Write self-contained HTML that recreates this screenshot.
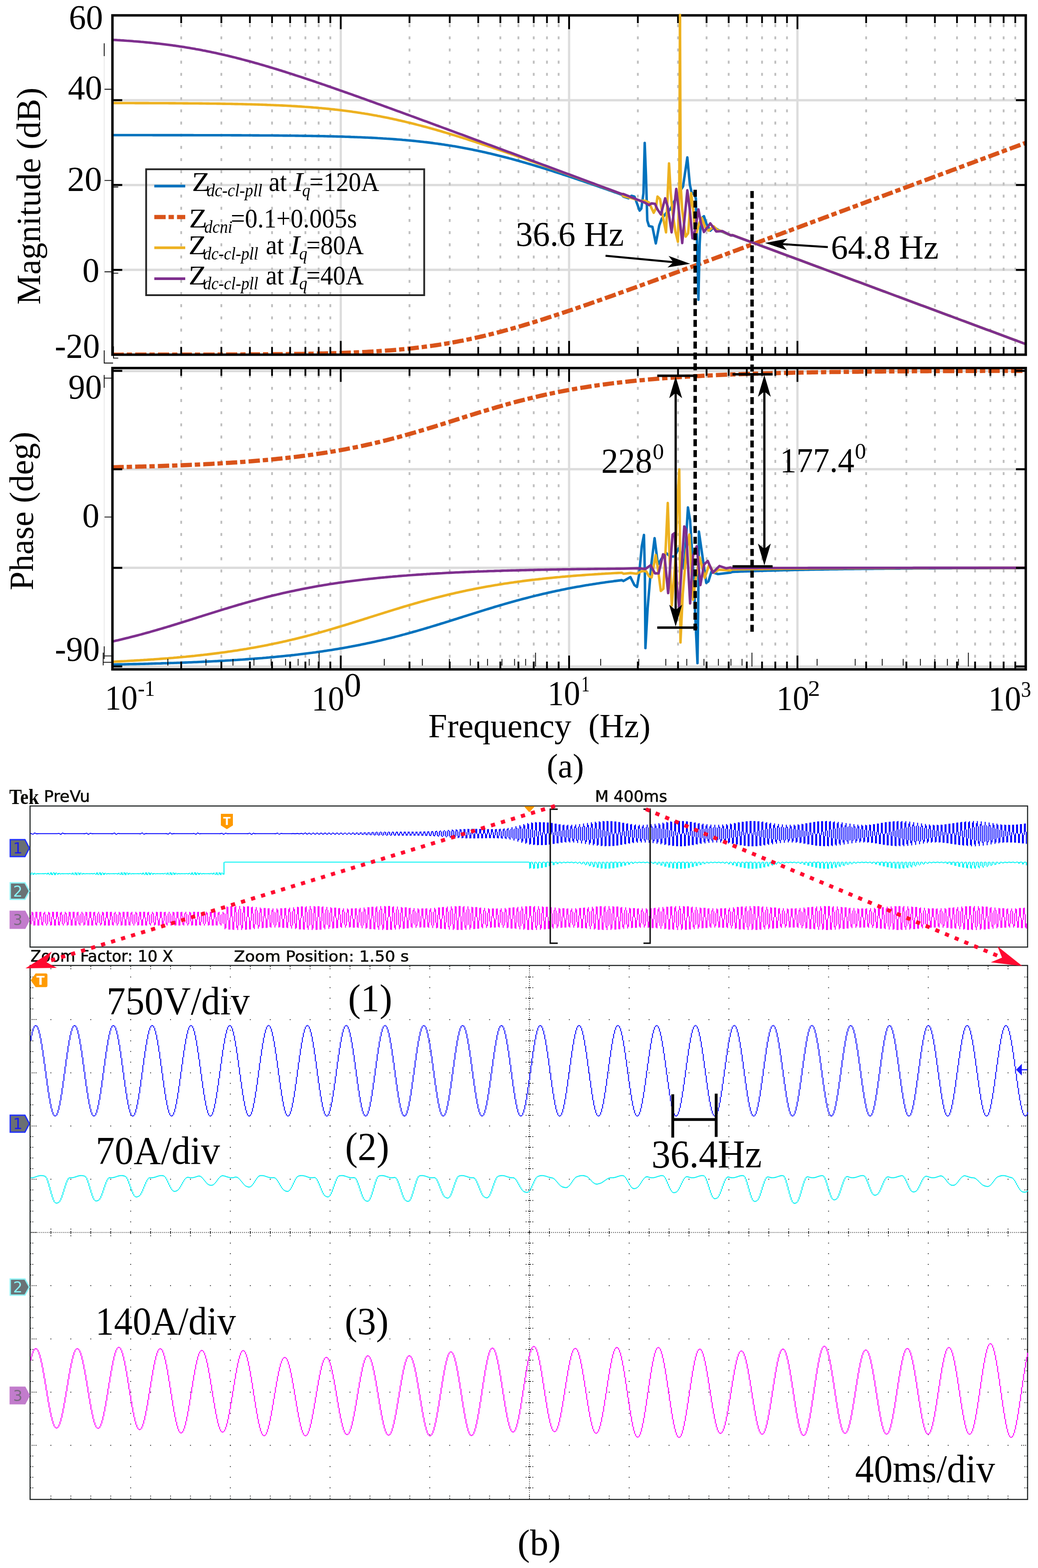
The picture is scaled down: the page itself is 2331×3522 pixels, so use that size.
<!DOCTYPE html><html><head><meta charset="utf-8"><style>html,body{margin:0;padding:0;background:#fff}svg{display:block}</style></head><body><svg xmlns="http://www.w3.org/2000/svg" width="2331" height="3522" viewBox="0 0 2331 3522">
<rect width="2331" height="3522" fill="#fff"/>
<defs><clipPath id="cm"><rect x="252" y="32" width="2052" height="767"/></clipPath><clipPath id="cp"><rect x="252" y="824" width="2052" height="682"/></clipPath></defs>
<line x1="252.5" y1="225.05" x2="2303.5" y2="225.05" stroke="#dcdcdc" stroke-width="5.2"/>
<line x1="252.5" y1="415.6" x2="2303.5" y2="415.6" stroke="#dcdcdc" stroke-width="5.2"/>
<line x1="252.5" y1="606.1500000000001" x2="2303.5" y2="606.1500000000001" stroke="#dcdcdc" stroke-width="5.2"/>
<line x1="765.2" y1="34.5" x2="765.2" y2="796.7" stroke="#dcdcdc" stroke-width="5"/>
<line x1="1278.0" y1="34.5" x2="1278.0" y2="796.7" stroke="#dcdcdc" stroke-width="5"/>
<line x1="1790.8" y1="34.5" x2="1790.8" y2="796.7" stroke="#dcdcdc" stroke-width="5"/>
<path d="M406.9 54.3V793.7M497.1 54.3V793.7M561.2 54.3V793.7M610.9 54.3V793.7M651.5 54.3V793.7M685.8 54.3V793.7M715.6 54.3V793.7M741.8 54.3V793.7M919.6 54.3V793.7M1009.9 54.3V793.7M1074.0 54.3V793.7M1123.6 54.3V793.7M1164.2 54.3V793.7M1198.6 54.3V793.7M1228.3 54.3V793.7M1254.5 54.3V793.7M1432.4 54.3V793.7M1522.6 54.3V793.7M1586.7 54.3V793.7M1636.4 54.3V793.7M1677.0 54.3V793.7M1711.3 54.3V793.7M1741.1 54.3V793.7M1767.3 54.3V793.7M1945.1 54.3V793.7M2035.4 54.3V793.7M2099.5 54.3V793.7M2149.1 54.3V793.7M2189.7 54.3V793.7M2224.1 54.3V793.7M2253.8 54.3V793.7M2280.0 54.3V793.7" stroke="#bfbfbf" stroke-width="4" stroke-dasharray="6.6 20.75"/>
<g clip-path="url(#cm)" fill="none" stroke-linejoin="round">
<path d="M252.5 796.7 L258.5 796.7 L264.5 796.7 L270.5 796.7 L276.5 796.6 L282.5 796.6 L288.5 796.6 L294.5 796.6 L300.5 796.6 L306.5 796.6 L312.5 796.6 L318.5 796.6 L324.5 796.6 L330.5 796.6 L336.5 796.6 L342.5 796.6 L348.5 796.6 L354.5 796.6 L360.5 796.6 L366.5 796.6 L372.5 796.6 L378.5 796.6 L384.5 796.6 L390.5 796.6 L396.5 796.6 L402.5 796.5 L408.5 796.5 L414.5 796.5 L420.5 796.5 L426.5 796.5 L432.5 796.5 L438.5 796.5 L444.5 796.5 L450.5 796.5 L456.5 796.4 L462.5 796.4 L468.5 796.4 L474.5 796.4 L480.5 796.4 L486.5 796.4 L492.5 796.3 L498.5 796.3 L504.5 796.3 L510.5 796.3 L516.5 796.3 L522.5 796.2 L528.5 796.2 L534.5 796.2 L540.5 796.2 L546.5 796.1 L552.5 796.1 L558.5 796.1 L564.5 796.0 L570.5 796.0 L576.5 796.0 L582.5 795.9 L588.5 795.9 L594.5 795.8 L600.5 795.8 L606.5 795.7 L612.5 795.7 L618.5 795.6 L624.5 795.6 L630.5 795.5 L636.5 795.4 L642.5 795.4 L648.5 795.3 L654.5 795.2 L660.5 795.1 L666.5 795.1 L672.5 795.0 L678.5 794.9 L684.5 794.8 L690.5 794.7 L696.5 794.6 L702.5 794.4 L708.5 794.3 L714.5 794.2 L720.5 794.1 L726.5 793.9 L732.5 793.8 L738.5 793.6 L744.5 793.4 L750.5 793.3 L756.5 793.1 L762.5 792.9 L768.5 792.7 L774.5 792.5 L780.5 792.3 L786.5 792.0 L792.5 791.8 L798.5 791.5 L804.5 791.3 L810.5 791.0 L816.5 790.7 L822.5 790.4 L828.5 790.1 L834.5 789.7 L840.5 789.4 L846.5 789.0 L852.5 788.6 L858.5 788.2 L864.5 787.8 L870.5 787.3 L876.5 786.9 L882.5 786.4 L888.5 785.9 L894.5 785.4 L900.5 784.8 L906.5 784.3 L912.5 783.7 L918.5 783.0 L924.5 782.4 L930.5 781.7 L936.5 781.1 L942.5 780.3 L948.5 779.6 L954.5 778.8 L960.5 778.0 L966.5 777.2 L972.5 776.4 L978.5 775.5 L984.5 774.6 L990.5 773.6 L996.5 772.7 L1002.5 771.7 L1008.5 770.6 L1014.5 769.6 L1020.5 768.5 L1026.5 767.4 L1032.5 766.2 L1038.5 765.1 L1044.5 763.8 L1050.5 762.6 L1056.5 761.3 L1062.5 760.1 L1068.5 758.7 L1074.5 757.4 L1080.5 756.0 L1086.5 754.6 L1092.5 753.1 L1098.5 751.7 L1104.5 750.2 L1110.5 748.7 L1116.5 747.1 L1122.5 745.6 L1128.5 744.0 L1134.5 742.3 L1140.5 740.7 L1146.5 739.0 L1152.5 737.3 L1158.5 735.6 L1164.5 733.9 L1170.5 732.2 L1176.5 730.4 L1182.5 728.6 L1188.5 726.8 L1194.5 725.0 L1200.5 723.1 L1206.5 721.3 L1212.5 719.4 L1218.5 717.5 L1224.5 715.6 L1230.5 713.6 L1236.5 711.7 L1242.5 709.8 L1248.5 707.8 L1254.5 705.8 L1260.5 703.8 L1266.5 701.8 L1272.5 699.8 L1278.5 697.8 L1284.5 695.8 L1290.5 693.7 L1296.5 691.7 L1302.5 689.6 L1308.5 687.6 L1314.5 685.5 L1320.5 683.4 L1326.5 681.3 L1332.5 679.2 L1338.5 677.1 L1344.5 675.0 L1350.5 672.9 L1356.5 670.8 L1362.5 668.6 L1368.5 666.5 L1374.5 664.4 L1380.5 662.2 L1386.5 660.1 L1392.5 657.9 L1398.5 655.8 L1404.5 653.6 L1410.5 651.5 L1416.5 649.3 L1422.5 647.1 L1428.5 645.0 L1434.5 642.8 L1440.5 640.6 L1446.5 638.4 L1452.5 636.3 L1458.5 634.1 L1464.5 631.9 L1470.5 629.7 L1476.5 627.5 L1482.5 625.3 L1488.5 623.1 L1494.5 620.9 L1500.5 618.7 L1506.5 616.5 L1512.5 614.3 L1518.5 612.1 L1524.5 609.9 L1530.5 607.7 L1536.5 605.5 L1542.5 603.3 L1548.5 601.1 L1554.5 598.9 L1560.5 596.7 L1566.5 594.4 L1572.5 592.2 L1578.5 590.0 L1584.5 587.8 L1590.5 585.6 L1596.5 583.4 L1602.5 581.1 L1608.5 578.9 L1614.5 576.7 L1620.5 574.5 L1626.5 572.3 L1632.5 570.1 L1638.5 567.8 L1644.5 565.6 L1650.5 563.4 L1656.5 561.2 L1662.5 558.9 L1668.5 556.7 L1674.5 554.5 L1680.5 552.3 L1686.5 550.1 L1692.5 547.8 L1698.5 545.6 L1704.5 543.4 L1710.5 541.2 L1716.5 538.9 L1722.5 536.7 L1728.5 534.5 L1734.5 532.3 L1740.5 530.0 L1746.5 527.8 L1752.5 525.6 L1758.5 523.3 L1764.5 521.1 L1770.5 518.9 L1776.5 516.7 L1782.5 514.4 L1788.5 512.2 L1794.5 510.0 L1800.5 507.8 L1806.5 505.5 L1812.5 503.3 L1818.5 501.1 L1824.5 498.8 L1830.5 496.6 L1836.5 494.4 L1842.5 492.2 L1848.5 489.9 L1854.5 487.7 L1860.5 485.5 L1866.5 483.2 L1872.5 481.0 L1878.5 478.8 L1884.5 476.6 L1890.5 474.3 L1896.5 472.1 L1902.5 469.9 L1908.5 467.6 L1914.5 465.4 L1920.5 463.2 L1926.5 461.0 L1932.5 458.7 L1938.5 456.5 L1944.5 454.3 L1950.5 452.0 L1956.5 449.8 L1962.5 447.6 L1968.5 445.4 L1974.5 443.1 L1980.5 440.9 L1986.5 438.7 L1992.5 436.4 L1998.5 434.2 L2004.5 432.0 L2010.5 429.7 L2016.5 427.5 L2022.5 425.3 L2028.5 423.1 L2034.5 420.8 L2040.5 418.6 L2046.5 416.4 L2052.5 414.1 L2058.5 411.9 L2064.5 409.7 L2070.5 407.5 L2076.5 405.2 L2082.5 403.0 L2088.5 400.8 L2094.5 398.5 L2100.5 396.3 L2106.5 394.1 L2112.5 391.8 L2118.5 389.6 L2124.5 387.4 L2130.5 385.2 L2136.5 382.9 L2142.5 380.7 L2148.5 378.5 L2154.5 376.2 L2160.5 374.0 L2166.5 371.8 L2172.5 369.5 L2178.5 367.3 L2184.5 365.1 L2190.5 362.9 L2196.5 360.6 L2202.5 358.4 L2208.5 356.2 L2214.5 353.9 L2220.5 351.7 L2226.5 349.5 L2232.5 347.3 L2238.5 345.0 L2244.5 342.8 L2250.5 340.6 L2256.5 338.3 L2262.5 336.1 L2268.5 333.9 L2274.5 331.6 L2280.5 329.4 L2286.5 327.2 L2292.5 325.0 L2298.5 322.7 L2303.5 320.9" stroke="#D95319" stroke-width="9.5" stroke-dasharray="25.5 6.5 12 7"/>
<path d="M252.5 303.5 L256.5 303.5 L260.5 303.5 L264.5 303.5 L268.5 303.5 L272.5 303.5 L276.5 303.5 L280.5 303.5 L284.5 303.5 L288.5 303.5 L292.5 303.5 L296.5 303.5 L300.5 303.5 L304.5 303.5 L308.5 303.5 L312.5 303.5 L316.5 303.5 L320.5 303.5 L324.5 303.5 L328.5 303.5 L332.5 303.5 L336.5 303.5 L340.5 303.5 L344.5 303.6 L348.5 303.6 L352.5 303.6 L356.5 303.6 L360.5 303.6 L364.5 303.6 L368.5 303.6 L372.5 303.6 L376.5 303.6 L380.5 303.6 L384.5 303.6 L388.5 303.6 L392.5 303.6 L396.5 303.6 L400.5 303.6 L404.5 303.6 L408.5 303.6 L412.5 303.6 L416.5 303.6 L420.5 303.6 L424.5 303.6 L428.5 303.6 L432.5 303.6 L436.5 303.7 L440.5 303.7 L444.5 303.7 L448.5 303.7 L452.5 303.7 L456.5 303.7 L460.5 303.7 L464.5 303.7 L468.5 303.7 L472.5 303.7 L476.5 303.7 L480.5 303.7 L484.5 303.8 L488.5 303.8 L492.5 303.8 L496.5 303.8 L500.5 303.8 L504.5 303.8 L508.5 303.8 L512.5 303.8 L516.5 303.8 L520.5 303.9 L524.5 303.9 L528.5 303.9 L532.5 303.9 L536.5 303.9 L540.5 303.9 L544.5 304.0 L548.5 304.0 L552.5 304.0 L556.5 304.0 L560.5 304.0 L564.5 304.0 L568.5 304.1 L572.5 304.1 L576.5 304.1 L580.5 304.1 L584.5 304.2 L588.5 304.2 L592.5 304.2 L596.5 304.2 L600.5 304.3 L604.5 304.3 L608.5 304.3 L612.5 304.3 L616.5 304.4 L620.5 304.4 L624.5 304.4 L628.5 304.5 L632.5 304.5 L636.5 304.6 L640.5 304.6 L644.5 304.6 L648.5 304.7 L652.5 304.7 L656.5 304.8 L660.5 304.8 L664.5 304.9 L668.5 304.9 L672.5 305.0 L676.5 305.0 L680.5 305.1 L684.5 305.1 L688.5 305.2 L692.5 305.3 L696.5 305.3 L700.5 305.4 L704.5 305.5 L708.5 305.5 L712.5 305.6 L716.5 305.7 L720.5 305.7 L724.5 305.8 L728.5 305.9 L732.5 306.0 L736.5 306.1 L740.5 306.2 L744.5 306.3 L748.5 306.4 L752.5 306.5 L756.5 306.6 L760.5 306.7 L764.5 306.8 L768.5 306.9 L772.5 307.0 L776.5 307.2 L780.5 307.3 L784.5 307.4 L788.5 307.6 L792.5 307.7 L796.5 307.9 L800.5 308.0 L804.5 308.2 L808.5 308.3 L812.5 308.5 L816.5 308.7 L820.5 308.9 L824.5 309.0 L828.5 309.2 L832.5 309.4 L836.5 309.6 L840.5 309.8 L844.5 310.0 L848.5 310.3 L852.5 310.5 L856.5 310.7 L860.5 311.0 L864.5 311.2 L868.5 311.5 L872.5 311.7 L876.5 312.0 L880.5 312.3 L884.5 312.6 L888.5 312.9 L892.5 313.2 L896.5 313.5 L900.5 313.8 L904.5 314.2 L908.5 314.5 L912.5 314.9 L916.5 315.2 L920.5 315.6 L924.5 316.0 L928.5 316.4 L932.5 316.8 L936.5 317.2 L940.5 317.6 L944.5 318.1 L948.5 318.5 L952.5 319.0 L956.5 319.4 L960.5 319.9 L964.5 320.4 L968.5 320.9 L972.5 321.4 L976.5 322.0 L980.5 322.5 L984.5 323.1 L988.5 323.6 L992.5 324.2 L996.5 324.8 L1000.5 325.4 L1004.5 326.0 L1008.5 326.7 L1012.5 327.3 L1016.5 328.0 L1020.5 328.6 L1024.5 329.3 L1028.5 330.0 L1032.5 330.7 L1036.5 331.4 L1040.5 332.2 L1044.5 332.9 L1048.5 333.7 L1052.5 334.5 L1056.5 335.3 L1060.5 336.1 L1064.5 336.9 L1068.5 337.7 L1072.5 338.6 L1076.5 339.4 L1080.5 340.3 L1084.5 341.2 L1088.5 342.1 L1092.5 343.0 L1096.5 343.9 L1100.5 344.8 L1104.5 345.8 L1108.5 346.7 L1112.5 347.7 L1116.5 348.7 L1120.5 349.7 L1124.5 350.7 L1128.5 351.7 L1132.5 352.7 L1136.5 353.8 L1140.5 354.8 L1144.5 355.9 L1148.5 356.9 L1152.5 358.0 L1156.5 359.1 L1160.5 360.2 L1164.5 361.3 L1168.5 362.5 L1172.5 363.6 L1176.5 364.7 L1180.5 365.9 L1184.5 367.1 L1188.5 368.2 L1192.5 369.4 L1196.5 370.6 L1200.5 371.8 L1204.5 373.0 L1208.5 374.2 L1212.5 375.4 L1216.5 376.7 L1220.5 377.9 L1224.5 379.1 L1228.5 380.4 L1232.5 381.7 L1236.5 382.9 L1240.5 384.2 L1244.5 385.5 L1248.5 386.8 L1252.5 388.0 L1256.5 389.3 L1260.5 390.6 L1264.5 392.0 L1268.5 393.3 L1272.5 394.6 L1276.5 395.9 L1280.5 397.2 L1284.5 398.6 L1288.5 399.9 L1292.5 401.3 L1296.5 402.6 L1300.5 404.0 L1304.5 405.3 L1308.5 406.7 L1312.5 408.0 L1316.5 409.4 L1320.5 410.8 L1324.5 412.2 L1328.5 413.5 L1332.5 414.9 L1336.5 416.3 L1340.5 417.7 L1344.5 419.1 L1348.5 420.5 L1352.5 421.9 L1356.5 423.3 L1360.5 424.7 L1364.5 426.1 L1368.5 427.5 L1372.5 428.9 L1376.5 430.4 L1380.5 431.8 L1384.5 433.2 L1388.5 434.6 L1392.5 436.0 L1396.5 437.5 L1400.0 441.6 L1411.5 445.4 L1418.2 439.7 L1424.9 441.6 L1436.4 473.1 L1440.2 468.4 L1445.0 433.9 L1447.8 321.0 L1450.7 395.7 L1453.6 495.2 L1457.4 507.6 L1465.1 509.5 L1472.7 546.8 L1480.4 506.6 L1486.1 491.3 L1495.7 478.9 L1505.2 470.3 L1514.8 451.1 L1524.4 433.9 L1533.9 418.6 L1543.5 353.6 L1549.2 414.8 L1553.1 432.0 L1559.8 437.8 L1562.6 445.4 L1564.9 529.6 L1568.4 673.1 L1571.2 548.7 L1574.1 491.3 L1580.8 485.6 L1586.5 502.8 L1595.2 518.1 L1602.8 510.5 L1616.2 518.1 L1629.6 523.9 L1641.1 528.6 L1645.1 528.4 L1649.1 529.9 L1653.1 531.3 L1657.1 532.8 L1661.1 534.3 L1665.1 535.8 L1669.1 537.3 L1673.1 538.7 L1677.1 540.2 L1681.1 541.7 L1685.1 543.2 L1689.1 544.7 L1693.1 546.1 L1697.1 547.6 L1701.1 549.1 L1705.1 550.6 L1709.1 552.1 L1713.1 553.6 L1717.1 555.0 L1721.1 556.5 L1725.1 558.0 L1729.1 559.5 L1733.1 561.0 L1737.1 562.5 L1741.1 563.9 L1745.1 565.4 L1749.1 566.9 L1753.1 568.4 L1757.1 569.9 L1761.1 571.4 L1765.1 572.8 L1769.1 574.3 L1773.1 575.8 L1777.1 577.3 L1781.1 578.8 L1785.1 580.3 L1789.1 581.8 L1793.1 583.2 L1797.1 584.7 L1801.1 586.2 L1805.1 587.7 L1809.1 589.2 L1813.1 590.7 L1817.1 592.2 L1821.1 593.6 L1825.1 595.1 L1829.1 596.6 L1833.1 598.1 L1837.1 599.6 L1841.1 601.1 L1845.1 602.5 L1849.1 604.0 L1853.1 605.5 L1857.1 607.0 L1861.1 608.5 L1865.1 610.0 L1869.1 611.5 L1873.1 612.9 L1877.1 614.4 L1881.1 615.9 L1885.1 617.4 L1889.1 618.9 L1893.1 620.4 L1897.1 621.9 L1901.1 623.3 L1905.1 624.8 L1909.1 626.3 L1913.1 627.8 L1917.1 629.3 L1921.1 630.8 L1925.1 632.3 L1929.1 633.7 L1933.1 635.2 L1937.1 636.7 L1941.1 638.2 L1945.1 639.7 L1949.1 641.2 L1953.1 642.7 L1957.1 644.2 L1961.1 645.6 L1965.1 647.1 L1969.1 648.6 L1973.1 650.1 L1977.1 651.6 L1981.1 653.1 L1985.1 654.6 L1989.1 656.0 L1993.1 657.5 L1997.1 659.0 L2001.1 660.5 L2005.1 662.0 L2009.1 663.5 L2013.1 665.0 L2017.1 666.4 L2021.1 667.9 L2025.1 669.4 L2029.1 670.9 L2033.1 672.4 L2037.1 673.9 L2041.1 675.4 L2045.1 676.8 L2049.1 678.3 L2053.1 679.8 L2057.1 681.3 L2061.1 682.8 L2065.1 684.3 L2069.1 685.8 L2073.1 687.3 L2077.1 688.7 L2081.1 690.2 L2085.1 691.7 L2089.1 693.2 L2093.1 694.7 L2097.1 696.2 L2101.1 697.7 L2105.1 699.1 L2109.1 700.6 L2113.1 702.1 L2117.1 703.6 L2121.1 705.1 L2125.1 706.6 L2129.1 708.1 L2133.1 709.5 L2137.1 711.0 L2141.1 712.5 L2145.1 714.0 L2149.1 715.5 L2153.1 717.0 L2157.1 718.5 L2161.1 720.0 L2165.1 721.4 L2169.1 722.9 L2173.1 724.4 L2177.1 725.9 L2181.1 727.4 L2185.1 728.9 L2189.1 730.4 L2193.1 731.8 L2197.1 733.3 L2201.1 734.8 L2205.1 736.3 L2209.1 737.8 L2213.1 739.3 L2217.1 740.8 L2221.1 742.2 L2225.1 743.7 L2229.1 745.2 L2233.1 746.7 L2237.1 748.2 L2241.1 749.7 L2245.1 751.2 L2249.1 752.7 L2253.1 754.1 L2257.1 755.6 L2261.1 757.1 L2265.1 758.6 L2269.1 760.1 L2273.1 761.6 L2277.1 763.1 L2281.1 764.5 L2285.1 766.0 L2289.1 767.5 L2293.1 769.0 L2297.1 770.5 L2301.1 772.0 L2303.5 772.9" stroke="#0072BD" stroke-width="5.6"/>
<path d="M252.5 231.4 L256.5 231.4 L260.5 231.4 L264.5 231.5 L268.5 231.5 L272.5 231.5 L276.5 231.5 L280.5 231.5 L284.5 231.5 L288.5 231.5 L292.5 231.5 L296.5 231.5 L300.5 231.5 L304.5 231.6 L308.5 231.6 L312.5 231.6 L316.5 231.6 L320.5 231.6 L324.5 231.6 L328.5 231.6 L332.5 231.6 L336.5 231.7 L340.5 231.7 L344.5 231.7 L348.5 231.7 L352.5 231.7 L356.5 231.7 L360.5 231.8 L364.5 231.8 L368.5 231.8 L372.5 231.8 L376.5 231.8 L380.5 231.9 L384.5 231.9 L388.5 231.9 L392.5 231.9 L396.5 232.0 L400.5 232.0 L404.5 232.0 L408.5 232.0 L412.5 232.1 L416.5 232.1 L420.5 232.1 L424.5 232.2 L428.5 232.2 L432.5 232.2 L436.5 232.3 L440.5 232.3 L444.5 232.3 L448.5 232.4 L452.5 232.4 L456.5 232.5 L460.5 232.5 L464.5 232.6 L468.5 232.6 L472.5 232.7 L476.5 232.7 L480.5 232.8 L484.5 232.8 L488.5 232.9 L492.5 232.9 L496.5 233.0 L500.5 233.1 L504.5 233.1 L508.5 233.2 L512.5 233.3 L516.5 233.3 L520.5 233.4 L524.5 233.5 L528.5 233.6 L532.5 233.6 L536.5 233.7 L540.5 233.8 L544.5 233.9 L548.5 234.0 L552.5 234.1 L556.5 234.2 L560.5 234.3 L564.5 234.4 L568.5 234.5 L572.5 234.6 L576.5 234.8 L580.5 234.9 L584.5 235.0 L588.5 235.1 L592.5 235.3 L596.5 235.4 L600.5 235.6 L604.5 235.7 L608.5 235.9 L612.5 236.0 L616.5 236.2 L620.5 236.4 L624.5 236.5 L628.5 236.7 L632.5 236.9 L636.5 237.1 L640.5 237.3 L644.5 237.5 L648.5 237.7 L652.5 237.9 L656.5 238.2 L660.5 238.4 L664.5 238.6 L668.5 238.9 L672.5 239.1 L676.5 239.4 L680.5 239.7 L684.5 240.0 L688.5 240.2 L692.5 240.5 L696.5 240.8 L700.5 241.1 L704.5 241.5 L708.5 241.8 L712.5 242.1 L716.5 242.5 L720.5 242.8 L724.5 243.2 L728.5 243.6 L732.5 244.0 L736.5 244.4 L740.5 244.8 L744.5 245.2 L748.5 245.6 L752.5 246.1 L756.5 246.5 L760.5 247.0 L764.5 247.5 L768.5 248.0 L772.5 248.5 L776.5 249.0 L780.5 249.5 L784.5 250.0 L788.5 250.6 L792.5 251.2 L796.5 251.7 L800.5 252.3 L804.5 252.9 L808.5 253.5 L812.5 254.2 L816.5 254.8 L820.5 255.5 L824.5 256.1 L828.5 256.8 L832.5 257.5 L836.5 258.2 L840.5 258.9 L844.5 259.6 L848.5 260.4 L852.5 261.1 L856.5 261.9 L860.5 262.7 L864.5 263.5 L868.5 264.3 L872.5 265.1 L876.5 266.0 L880.5 266.8 L884.5 267.7 L888.5 268.6 L892.5 269.5 L896.5 270.4 L900.5 271.3 L904.5 272.2 L908.5 273.1 L912.5 274.1 L916.5 275.1 L920.5 276.0 L924.5 277.0 L928.5 278.0 L932.5 279.0 L936.5 280.1 L940.5 281.1 L944.5 282.1 L948.5 283.2 L952.5 284.3 L956.5 285.3 L960.5 286.4 L964.5 287.5 L968.5 288.6 L972.5 289.8 L976.5 290.9 L980.5 292.0 L984.5 293.2 L988.5 294.3 L992.5 295.5 L996.5 296.7 L1000.5 297.9 L1004.5 299.1 L1008.5 300.3 L1012.5 301.5 L1016.5 302.7 L1020.5 303.9 L1024.5 305.2 L1028.5 306.4 L1032.5 307.7 L1036.5 308.9 L1040.5 310.2 L1044.5 311.4 L1048.5 312.7 L1052.5 314.0 L1056.5 315.3 L1060.5 316.6 L1064.5 317.9 L1068.5 319.2 L1072.5 320.5 L1076.5 321.8 L1080.5 323.1 L1084.5 324.5 L1088.5 325.8 L1092.5 327.1 L1096.5 328.5 L1100.5 329.8 L1104.5 331.2 L1108.5 332.5 L1112.5 333.9 L1116.5 335.3 L1120.5 336.6 L1124.5 338.0 L1128.5 339.4 L1132.5 340.8 L1136.5 342.1 L1140.5 343.5 L1144.5 344.9 L1148.5 346.3 L1152.5 347.7 L1156.5 349.1 L1160.5 350.5 L1164.5 351.9 L1168.5 353.3 L1172.5 354.7 L1176.5 356.1 L1180.5 357.5 L1184.5 359.0 L1188.5 360.4 L1192.5 361.8 L1196.5 363.2 L1200.5 364.7 L1204.5 366.1 L1208.5 367.5 L1212.5 369.0 L1216.5 370.4 L1220.5 371.8 L1224.5 373.3 L1228.5 374.7 L1232.5 376.1 L1236.5 377.6 L1240.5 379.0 L1244.5 380.5 L1248.5 381.9 L1252.5 383.4 L1256.5 384.8 L1260.5 386.3 L1264.5 387.7 L1268.5 389.2 L1272.5 390.6 L1276.5 392.1 L1280.5 393.5 L1284.5 395.0 L1288.5 396.5 L1292.5 397.9 L1296.5 399.4 L1300.5 400.8 L1304.5 402.3 L1308.5 403.8 L1312.5 405.2 L1316.5 406.7 L1320.5 408.2 L1324.5 409.6 L1328.5 411.1 L1332.5 412.6 L1336.5 414.0 L1340.5 415.5 L1344.5 417.0 L1348.5 418.4 L1352.5 419.9 L1356.5 421.4 L1360.5 422.8 L1364.5 424.3 L1368.5 425.8 L1372.5 427.3 L1376.5 428.7 L1380.5 430.2 L1384.5 431.7 L1388.5 433.2 L1392.5 434.6 L1396.5 436.1 L1400.0 440.6 L1419.1 445.4 L1438.3 451.1 L1449.7 451.1 L1457.4 455.0 L1467.9 477.9 L1472.7 468.4 L1476.5 441.6 L1482.3 447.3 L1488.0 483.7 L1495.7 521.9 L1499.5 433.9 L1502.4 367.0 L1506.2 433.9 L1511.0 481.8 L1516.7 520.0 L1522.4 543.0 L1525.5 414.8 L1527.0 33.1 L1528.6 414.8 L1532.0 472.2 L1539.7 531.5 L1545.4 523.9 L1552.1 433.9 L1556.9 472.2 L1560.7 520.0 L1564.5 521.9 L1570.3 500.9 L1576.0 489.4 L1583.7 510.5 L1591.3 518.1 L1602.8 508.5 L1610.5 516.2 L1621.9 520.0 L1641.1 528.6 L1645.1 528.2 L1649.1 529.7 L1653.1 531.2 L1657.1 532.7 L1661.1 534.2 L1665.1 535.7 L1669.1 537.1 L1673.1 538.6 L1677.1 540.1 L1681.1 541.6 L1685.1 543.1 L1689.1 544.6 L1693.1 546.1 L1697.1 547.5 L1701.1 549.0 L1705.1 550.5 L1709.1 552.0 L1713.1 553.5 L1717.1 555.0 L1721.1 556.5 L1725.1 557.9 L1729.1 559.4 L1733.1 560.9 L1737.1 562.4 L1741.1 563.9 L1745.1 565.4 L1749.1 566.9 L1753.1 568.3 L1757.1 569.8 L1761.1 571.3 L1765.1 572.8 L1769.1 574.3 L1773.1 575.8 L1777.1 577.3 L1781.1 578.7 L1785.1 580.2 L1789.1 581.7 L1793.1 583.2 L1797.1 584.7 L1801.1 586.2 L1805.1 587.7 L1809.1 589.1 L1813.1 590.6 L1817.1 592.1 L1821.1 593.6 L1825.1 595.1 L1829.1 596.6 L1833.1 598.1 L1837.1 599.6 L1841.1 601.0 L1845.1 602.5 L1849.1 604.0 L1853.1 605.5 L1857.1 607.0 L1861.1 608.5 L1865.1 610.0 L1869.1 611.4 L1873.1 612.9 L1877.1 614.4 L1881.1 615.9 L1885.1 617.4 L1889.1 618.9 L1893.1 620.4 L1897.1 621.8 L1901.1 623.3 L1905.1 624.8 L1909.1 626.3 L1913.1 627.8 L1917.1 629.3 L1921.1 630.8 L1925.1 632.3 L1929.1 633.7 L1933.1 635.2 L1937.1 636.7 L1941.1 638.2 L1945.1 639.7 L1949.1 641.2 L1953.1 642.7 L1957.1 644.1 L1961.1 645.6 L1965.1 647.1 L1969.1 648.6 L1973.1 650.1 L1977.1 651.6 L1981.1 653.1 L1985.1 654.5 L1989.1 656.0 L1993.1 657.5 L1997.1 659.0 L2001.1 660.5 L2005.1 662.0 L2009.1 663.5 L2013.1 665.0 L2017.1 666.4 L2021.1 667.9 L2025.1 669.4 L2029.1 670.9 L2033.1 672.4 L2037.1 673.9 L2041.1 675.4 L2045.1 676.8 L2049.1 678.3 L2053.1 679.8 L2057.1 681.3 L2061.1 682.8 L2065.1 684.3 L2069.1 685.8 L2073.1 687.2 L2077.1 688.7 L2081.1 690.2 L2085.1 691.7 L2089.1 693.2 L2093.1 694.7 L2097.1 696.2 L2101.1 697.7 L2105.1 699.1 L2109.1 700.6 L2113.1 702.1 L2117.1 703.6 L2121.1 705.1 L2125.1 706.6 L2129.1 708.1 L2133.1 709.5 L2137.1 711.0 L2141.1 712.5 L2145.1 714.0 L2149.1 715.5 L2153.1 717.0 L2157.1 718.5 L2161.1 720.0 L2165.1 721.4 L2169.1 722.9 L2173.1 724.4 L2177.1 725.9 L2181.1 727.4 L2185.1 728.9 L2189.1 730.4 L2193.1 731.8 L2197.1 733.3 L2201.1 734.8 L2205.1 736.3 L2209.1 737.8 L2213.1 739.3 L2217.1 740.8 L2221.1 742.2 L2225.1 743.7 L2229.1 745.2 L2233.1 746.7 L2237.1 748.2 L2241.1 749.7 L2245.1 751.2 L2249.1 752.7 L2253.1 754.1 L2257.1 755.6 L2261.1 757.1 L2265.1 758.6 L2269.1 760.1 L2273.1 761.6 L2277.1 763.1 L2281.1 764.5 L2285.1 766.0 L2289.1 767.5 L2293.1 769.0 L2297.1 770.5 L2301.1 772.0 L2303.5 772.9" stroke="#EDB120" stroke-width="5.6"/>
<path d="M252.5 89.5 L256.5 89.7 L260.5 89.9 L264.5 90.2 L268.5 90.4 L272.5 90.7 L276.5 90.9 L280.5 91.2 L284.5 91.5 L288.5 91.7 L292.5 92.0 L296.5 92.3 L300.5 92.7 L304.5 93.0 L308.5 93.3 L312.5 93.6 L316.5 94.0 L320.5 94.3 L324.5 94.7 L328.5 95.1 L332.5 95.5 L336.5 95.9 L340.5 96.3 L344.5 96.7 L348.5 97.1 L352.5 97.6 L356.5 98.0 L360.5 98.5 L364.5 99.0 L368.5 99.5 L372.5 100.0 L376.5 100.5 L380.5 101.0 L384.5 101.5 L388.5 102.1 L392.5 102.6 L396.5 103.2 L400.5 103.8 L404.5 104.4 L408.5 105.0 L412.5 105.6 L416.5 106.3 L420.5 106.9 L424.5 107.6 L428.5 108.3 L432.5 108.9 L436.5 109.6 L440.5 110.4 L444.5 111.1 L448.5 111.8 L452.5 112.6 L456.5 113.4 L460.5 114.1 L464.5 114.9 L468.5 115.8 L472.5 116.6 L476.5 117.4 L480.5 118.3 L484.5 119.1 L488.5 120.0 L492.5 120.9 L496.5 121.8 L500.5 122.7 L504.5 123.6 L508.5 124.6 L512.5 125.5 L516.5 126.5 L520.5 127.5 L524.5 128.4 L528.5 129.4 L532.5 130.5 L536.5 131.5 L540.5 132.5 L544.5 133.6 L548.5 134.6 L552.5 135.7 L556.5 136.8 L560.5 137.8 L564.5 138.9 L568.5 140.0 L572.5 141.2 L576.5 142.3 L580.5 143.4 L584.5 144.6 L588.5 145.7 L592.5 146.9 L596.5 148.1 L600.5 149.3 L604.5 150.5 L608.5 151.7 L612.5 152.9 L616.5 154.1 L620.5 155.3 L624.5 156.5 L628.5 157.8 L632.5 159.0 L636.5 160.3 L640.5 161.5 L644.5 162.8 L648.5 164.1 L652.5 165.4 L656.5 166.7 L660.5 168.0 L664.5 169.3 L668.5 170.6 L672.5 171.9 L676.5 173.2 L680.5 174.5 L684.5 175.8 L688.5 177.2 L692.5 178.5 L696.5 179.8 L700.5 181.2 L704.5 182.5 L708.5 183.9 L712.5 185.3 L716.5 186.6 L720.5 188.0 L724.5 189.4 L728.5 190.7 L732.5 192.1 L736.5 193.5 L740.5 194.9 L744.5 196.3 L748.5 197.7 L752.5 199.1 L756.5 200.5 L760.5 201.9 L764.5 203.3 L768.5 204.7 L772.5 206.1 L776.5 207.5 L780.5 208.9 L784.5 210.3 L788.5 211.7 L792.5 213.2 L796.5 214.6 L800.5 216.0 L804.5 217.4 L808.5 218.9 L812.5 220.3 L816.5 221.7 L820.5 223.2 L824.5 224.6 L828.5 226.1 L832.5 227.5 L836.5 228.9 L840.5 230.4 L844.5 231.8 L848.5 233.3 L852.5 234.7 L856.5 236.2 L860.5 237.6 L864.5 239.1 L868.5 240.5 L872.5 242.0 L876.5 243.4 L880.5 244.9 L884.5 246.3 L888.5 247.8 L892.5 249.3 L896.5 250.7 L900.5 252.2 L904.5 253.7 L908.5 255.1 L912.5 256.6 L916.5 258.0 L920.5 259.5 L924.5 261.0 L928.5 262.4 L932.5 263.9 L936.5 265.4 L940.5 266.8 L944.5 268.3 L948.5 269.8 L952.5 271.3 L956.5 272.7 L960.5 274.2 L964.5 275.7 L968.5 277.1 L972.5 278.6 L976.5 280.1 L980.5 281.6 L984.5 283.0 L988.5 284.5 L992.5 286.0 L996.5 287.5 L1000.5 288.9 L1004.5 290.4 L1008.5 291.9 L1012.5 293.4 L1016.5 294.8 L1020.5 296.3 L1024.5 297.8 L1028.5 299.3 L1032.5 300.8 L1036.5 302.2 L1040.5 303.7 L1044.5 305.2 L1048.5 306.7 L1052.5 308.2 L1056.5 309.6 L1060.5 311.1 L1064.5 312.6 L1068.5 314.1 L1072.5 315.6 L1076.5 317.0 L1080.5 318.5 L1084.5 320.0 L1088.5 321.5 L1092.5 323.0 L1096.5 324.5 L1100.5 325.9 L1104.5 327.4 L1108.5 328.9 L1112.5 330.4 L1116.5 331.9 L1120.5 333.3 L1124.5 334.8 L1128.5 336.3 L1132.5 337.8 L1136.5 339.3 L1140.5 340.8 L1144.5 342.2 L1148.5 343.7 L1152.5 345.2 L1156.5 346.7 L1160.5 348.2 L1164.5 349.7 L1168.5 351.2 L1172.5 352.6 L1176.5 354.1 L1180.5 355.6 L1184.5 357.1 L1188.5 358.6 L1192.5 360.1 L1196.5 361.5 L1200.5 363.0 L1204.5 364.5 L1208.5 366.0 L1212.5 367.5 L1216.5 369.0 L1220.5 370.5 L1224.5 371.9 L1228.5 373.4 L1232.5 374.9 L1236.5 376.4 L1240.5 377.9 L1244.5 379.4 L1248.5 380.8 L1252.5 382.3 L1256.5 383.8 L1260.5 385.3 L1264.5 386.8 L1268.5 388.3 L1272.5 389.8 L1276.5 391.2 L1280.5 392.7 L1284.5 394.2 L1288.5 395.7 L1292.5 397.2 L1296.5 398.7 L1300.5 400.2 L1304.5 401.6 L1308.5 403.1 L1312.5 404.6 L1316.5 406.1 L1320.5 407.6 L1324.5 409.1 L1328.5 410.6 L1332.5 412.0 L1336.5 413.5 L1340.5 415.0 L1344.5 416.5 L1348.5 418.0 L1352.5 419.5 L1356.5 421.0 L1360.5 422.5 L1364.5 423.9 L1368.5 425.4 L1372.5 426.9 L1376.5 428.4 L1380.5 429.9 L1384.5 431.4 L1388.5 432.9 L1392.5 434.3 L1396.5 435.8 L1400.0 435.8 L1419.1 443.5 L1438.3 451.1 L1447.8 455.0 L1457.4 460.7 L1463.1 456.9 L1470.8 457.8 L1476.5 470.3 L1484.2 481.8 L1493.7 445.4 L1499.5 464.5 L1508.1 521.9 L1518.6 424.4 L1524.4 472.2 L1532.0 545.9 L1543.5 427.2 L1549.2 472.2 L1555.0 535.3 L1560.7 518.1 L1568.4 470.3 L1574.1 500.9 L1580.8 521.0 L1595.2 501.8 L1608.5 520.0 L1621.9 519.1 L1635.3 525.8 L1641.1 528.6 L1645.1 528.2 L1649.1 529.7 L1653.1 531.2 L1657.1 532.7 L1661.1 534.1 L1665.1 535.6 L1669.1 537.1 L1673.1 538.6 L1677.1 540.1 L1681.1 541.6 L1685.1 543.1 L1689.1 544.5 L1693.1 546.0 L1697.1 547.5 L1701.1 549.0 L1705.1 550.5 L1709.1 552.0 L1713.1 553.5 L1717.1 555.0 L1721.1 556.4 L1725.1 557.9 L1729.1 559.4 L1733.1 560.9 L1737.1 562.4 L1741.1 563.9 L1745.1 565.4 L1749.1 566.8 L1753.1 568.3 L1757.1 569.8 L1761.1 571.3 L1765.1 572.8 L1769.1 574.3 L1773.1 575.8 L1777.1 577.2 L1781.1 578.7 L1785.1 580.2 L1789.1 581.7 L1793.1 583.2 L1797.1 584.7 L1801.1 586.2 L1805.1 587.7 L1809.1 589.1 L1813.1 590.6 L1817.1 592.1 L1821.1 593.6 L1825.1 595.1 L1829.1 596.6 L1833.1 598.1 L1837.1 599.5 L1841.1 601.0 L1845.1 602.5 L1849.1 604.0 L1853.1 605.5 L1857.1 607.0 L1861.1 608.5 L1865.1 610.0 L1869.1 611.4 L1873.1 612.9 L1877.1 614.4 L1881.1 615.9 L1885.1 617.4 L1889.1 618.9 L1893.1 620.4 L1897.1 621.8 L1901.1 623.3 L1905.1 624.8 L1909.1 626.3 L1913.1 627.8 L1917.1 629.3 L1921.1 630.8 L1925.1 632.2 L1929.1 633.7 L1933.1 635.2 L1937.1 636.7 L1941.1 638.2 L1945.1 639.7 L1949.1 641.2 L1953.1 642.7 L1957.1 644.1 L1961.1 645.6 L1965.1 647.1 L1969.1 648.6 L1973.1 650.1 L1977.1 651.6 L1981.1 653.1 L1985.1 654.5 L1989.1 656.0 L1993.1 657.5 L1997.1 659.0 L2001.1 660.5 L2005.1 662.0 L2009.1 663.5 L2013.1 665.0 L2017.1 666.4 L2021.1 667.9 L2025.1 669.4 L2029.1 670.9 L2033.1 672.4 L2037.1 673.9 L2041.1 675.4 L2045.1 676.8 L2049.1 678.3 L2053.1 679.8 L2057.1 681.3 L2061.1 682.8 L2065.1 684.3 L2069.1 685.8 L2073.1 687.2 L2077.1 688.7 L2081.1 690.2 L2085.1 691.7 L2089.1 693.2 L2093.1 694.7 L2097.1 696.2 L2101.1 697.7 L2105.1 699.1 L2109.1 700.6 L2113.1 702.1 L2117.1 703.6 L2121.1 705.1 L2125.1 706.6 L2129.1 708.1 L2133.1 709.5 L2137.1 711.0 L2141.1 712.5 L2145.1 714.0 L2149.1 715.5 L2153.1 717.0 L2157.1 718.5 L2161.1 720.0 L2165.1 721.4 L2169.1 722.9 L2173.1 724.4 L2177.1 725.9 L2181.1 727.4 L2185.1 728.9 L2189.1 730.4 L2193.1 731.8 L2197.1 733.3 L2201.1 734.8 L2205.1 736.3 L2209.1 737.8 L2213.1 739.3 L2217.1 740.8 L2221.1 742.2 L2225.1 743.7 L2229.1 745.2 L2233.1 746.7 L2237.1 748.2 L2241.1 749.7 L2245.1 751.2 L2249.1 752.7 L2253.1 754.1 L2257.1 755.6 L2261.1 757.1 L2265.1 758.6 L2269.1 760.1 L2273.1 761.6 L2277.1 763.1 L2281.1 764.5 L2285.1 766.0 L2289.1 767.5 L2293.1 769.0 L2297.1 770.5 L2301.1 772.0 L2303.5 772.9" stroke="#7E2F8E" stroke-width="5.6"/>
</g>
<rect x="252.5" y="34.5" width="2051.0" height="762.2" fill="none" stroke="#000" stroke-width="5.5"/>
<path d="M406.9 34.5v17.5M406.9 796.7v-17.5M497.1 34.5v17.5M497.1 796.7v-17.5M561.2 34.5v17.5M561.2 796.7v-17.5M610.9 34.5v17.5M610.9 796.7v-17.5M651.5 34.5v17.5M651.5 796.7v-17.5M685.8 34.5v17.5M685.8 796.7v-17.5M715.6 34.5v17.5M715.6 796.7v-17.5M741.8 34.5v17.5M741.8 796.7v-17.5M919.6 34.5v17.5M919.6 796.7v-17.5M1009.9 34.5v17.5M1009.9 796.7v-17.5M1074.0 34.5v17.5M1074.0 796.7v-17.5M1123.6 34.5v17.5M1123.6 796.7v-17.5M1164.2 34.5v17.5M1164.2 796.7v-17.5M1198.6 34.5v17.5M1198.6 796.7v-17.5M1228.3 34.5v17.5M1228.3 796.7v-17.5M1254.5 34.5v17.5M1254.5 796.7v-17.5M1432.4 34.5v17.5M1432.4 796.7v-17.5M1522.6 34.5v17.5M1522.6 796.7v-17.5M1586.7 34.5v17.5M1586.7 796.7v-17.5M1636.4 34.5v17.5M1636.4 796.7v-17.5M1677.0 34.5v17.5M1677.0 796.7v-17.5M1711.3 34.5v17.5M1711.3 796.7v-17.5M1741.1 34.5v17.5M1741.1 796.7v-17.5M1767.3 34.5v17.5M1767.3 796.7v-17.5M1945.1 34.5v17.5M1945.1 796.7v-17.5M2035.4 34.5v17.5M2035.4 796.7v-17.5M2099.5 34.5v17.5M2099.5 796.7v-17.5M2149.1 34.5v17.5M2149.1 796.7v-17.5M2189.7 34.5v17.5M2189.7 796.7v-17.5M2224.1 34.5v17.5M2224.1 796.7v-17.5M2253.8 34.5v17.5M2253.8 796.7v-17.5M2280.0 34.5v17.5M2280.0 796.7v-17.5M765.2 34.5v31M765.2 796.7v-31M1278.0 34.5v31M1278.0 796.7v-31M1790.8 34.5v31M1790.8 796.7v-31" stroke="#000" stroke-width="4" fill="none"/>
<path d="M252.5 225.05h22M2303.5 225.05h-22M252.5 415.6h22M2303.5 415.6h-22M252.5 606.1500000000001h22M2303.5 606.1500000000001h-22" stroke="#000" stroke-width="4.5" fill="none"/>
<path d="M1527.05 70V33.6" stroke="#EDB120" stroke-width="5.6" stroke-linecap="round"/>
<line x1="252.5" y1="833.5" x2="2303.5" y2="833.5" stroke="#dcdcdc" stroke-width="5.2"/>
<line x1="252.5" y1="1053.9" x2="2303.5" y2="1053.9" stroke="#dcdcdc" stroke-width="5.2"/>
<line x1="252.5" y1="1275.4" x2="2303.5" y2="1275.4" stroke="#dcdcdc" stroke-width="5.2"/>
<line x1="252.5" y1="1497" x2="2303.5" y2="1497" stroke="#dcdcdc" stroke-width="5.2"/>
<line x1="765.2" y1="826.7" x2="765.2" y2="1503.5" stroke="#dcdcdc" stroke-width="5"/>
<line x1="1278.0" y1="826.7" x2="1278.0" y2="1503.5" stroke="#dcdcdc" stroke-width="5"/>
<line x1="1790.8" y1="826.7" x2="1790.8" y2="1503.5" stroke="#dcdcdc" stroke-width="5"/>
<path d="M406.9 841.6V1500.5M497.1 841.6V1500.5M561.2 841.6V1500.5M610.9 841.6V1500.5M651.5 841.6V1500.5M685.8 841.6V1500.5M715.6 841.6V1500.5M741.8 841.6V1500.5M919.6 841.6V1500.5M1009.9 841.6V1500.5M1074.0 841.6V1500.5M1123.6 841.6V1500.5M1164.2 841.6V1500.5M1198.6 841.6V1500.5M1228.3 841.6V1500.5M1254.5 841.6V1500.5M1432.4 841.6V1500.5M1522.6 841.6V1500.5M1586.7 841.6V1500.5M1636.4 841.6V1500.5M1677.0 841.6V1500.5M1711.3 841.6V1500.5M1741.1 841.6V1500.5M1767.3 841.6V1500.5M1945.1 841.6V1500.5M2035.4 841.6V1500.5M2099.5 841.6V1500.5M2149.1 841.6V1500.5M2189.7 841.6V1500.5M2224.1 841.6V1500.5M2253.8 841.6V1500.5M2280.0 841.6V1500.5" stroke="#bfbfbf" stroke-width="4" stroke-dasharray="6.6 20.75"/>
<g clip-path="url(#cp)" fill="none" stroke-linejoin="round">
<path d="M252.5 1049.5 L258.5 1049.4 L264.5 1049.2 L270.5 1049.1 L276.5 1049.0 L282.5 1048.8 L288.5 1048.7 L294.5 1048.6 L300.5 1048.4 L306.5 1048.3 L312.5 1048.1 L318.5 1047.9 L324.5 1047.8 L330.5 1047.6 L336.5 1047.4 L342.5 1047.3 L348.5 1047.1 L354.5 1046.9 L360.5 1046.7 L366.5 1046.5 L372.5 1046.3 L378.5 1046.1 L384.5 1045.9 L390.5 1045.7 L396.5 1045.5 L402.5 1045.2 L408.5 1045.0 L414.5 1044.7 L420.5 1044.5 L426.5 1044.2 L432.5 1044.0 L438.5 1043.7 L444.5 1043.4 L450.5 1043.1 L456.5 1042.9 L462.5 1042.6 L468.5 1042.2 L474.5 1041.9 L480.5 1041.6 L486.5 1041.3 L492.5 1040.9 L498.5 1040.6 L504.5 1040.2 L510.5 1039.8 L516.5 1039.5 L522.5 1039.1 L528.5 1038.7 L534.5 1038.3 L540.5 1037.8 L546.5 1037.4 L552.5 1036.9 L558.5 1036.5 L564.5 1036.0 L570.5 1035.5 L576.5 1035.0 L582.5 1034.5 L588.5 1034.0 L594.5 1033.5 L600.5 1032.9 L606.5 1032.4 L612.5 1031.8 L618.5 1031.2 L624.5 1030.6 L630.5 1030.0 L636.5 1029.3 L642.5 1028.7 L648.5 1028.0 L654.5 1027.3 L660.5 1026.6 L666.5 1025.9 L672.5 1025.1 L678.5 1024.3 L684.5 1023.6 L690.5 1022.8 L696.5 1021.9 L702.5 1021.1 L708.5 1020.2 L714.5 1019.3 L720.5 1018.4 L726.5 1017.5 L732.5 1016.6 L738.5 1015.6 L744.5 1014.6 L750.5 1013.6 L756.5 1012.5 L762.5 1011.5 L768.5 1010.4 L774.5 1009.3 L780.5 1008.1 L786.5 1007.0 L792.5 1005.8 L798.5 1004.6 L804.5 1003.4 L810.5 1002.1 L816.5 1000.8 L822.5 999.5 L828.5 998.2 L834.5 996.8 L840.5 995.4 L846.5 994.0 L852.5 992.6 L858.5 991.1 L864.5 989.6 L870.5 988.1 L876.5 986.5 L882.5 985.0 L888.5 983.4 L894.5 981.8 L900.5 980.2 L906.5 978.5 L912.5 976.8 L918.5 975.1 L924.5 973.4 L930.5 971.7 L936.5 969.9 L942.5 968.1 L948.5 966.4 L954.5 964.6 L960.5 962.7 L966.5 960.9 L972.5 959.1 L978.5 957.2 L984.5 955.3 L990.5 953.5 L996.5 951.6 L1002.5 949.7 L1008.5 947.8 L1014.5 945.9 L1020.5 944.0 L1026.5 942.1 L1032.5 940.2 L1038.5 938.3 L1044.5 936.4 L1050.5 934.5 L1056.5 932.6 L1062.5 930.8 L1068.5 928.9 L1074.5 927.0 L1080.5 925.2 L1086.5 923.4 L1092.5 921.6 L1098.5 919.7 L1104.5 918.0 L1110.5 916.2 L1116.5 914.4 L1122.5 912.7 L1128.5 911.0 L1134.5 909.3 L1140.5 907.6 L1146.5 906.0 L1152.5 904.3 L1158.5 902.7 L1164.5 901.2 L1170.5 899.6 L1176.5 898.1 L1182.5 896.5 L1188.5 895.1 L1194.5 893.6 L1200.5 892.2 L1206.5 890.8 L1212.5 889.4 L1218.5 888.0 L1224.5 886.7 L1230.5 885.4 L1236.5 884.1 L1242.5 882.8 L1248.5 881.6 L1254.5 880.4 L1260.5 879.2 L1266.5 878.0 L1272.5 876.9 L1278.5 875.8 L1284.5 874.7 L1290.5 873.7 L1296.5 872.6 L1302.5 871.6 L1308.5 870.6 L1314.5 869.7 L1320.5 868.7 L1326.5 867.8 L1332.5 866.9 L1338.5 866.0 L1344.5 865.1 L1350.5 864.3 L1356.5 863.5 L1362.5 862.7 L1368.5 861.9 L1374.5 861.1 L1380.5 860.4 L1386.5 859.7 L1392.5 859.0 L1398.5 858.3 L1404.5 857.6 L1410.5 857.0 L1416.5 856.3 L1422.5 855.7 L1428.5 855.1 L1434.5 854.5 L1440.5 853.9 L1446.5 853.4 L1452.5 852.8 L1458.5 852.3 L1464.5 851.8 L1470.5 851.2 L1476.5 850.8 L1482.5 850.3 L1488.5 849.8 L1494.5 849.3 L1500.5 848.9 L1506.5 848.5 L1512.5 848.0 L1518.5 847.6 L1524.5 847.2 L1530.5 846.8 L1536.5 846.5 L1542.5 846.1 L1548.5 845.7 L1554.5 845.4 L1560.5 845.0 L1566.5 844.7 L1572.5 844.4 L1578.5 844.1 L1584.5 843.8 L1590.5 843.5 L1596.5 843.2 L1602.5 842.9 L1608.5 842.6 L1614.5 842.3 L1620.5 842.1 L1626.5 841.8 L1632.5 841.6 L1638.5 841.3 L1644.5 841.1 L1650.5 840.9 L1656.5 840.6 L1662.5 840.4 L1668.5 840.2 L1674.5 840.0 L1680.5 839.8 L1686.5 839.6 L1692.5 839.4 L1698.5 839.2 L1704.5 839.1 L1710.5 838.9 L1716.5 838.7 L1722.5 838.5 L1728.5 838.4 L1734.5 838.2 L1740.5 838.1 L1746.5 837.9 L1752.5 837.8 L1758.5 837.6 L1764.5 837.5 L1770.5 837.4 L1776.5 837.2 L1782.5 837.1 L1788.5 837.0 L1794.5 836.9 L1800.5 836.7 L1806.5 836.6 L1812.5 836.5 L1818.5 836.4 L1824.5 836.3 L1830.5 836.2 L1836.5 836.1 L1842.5 836.0 L1848.5 835.9 L1854.5 835.8 L1860.5 835.7 L1866.5 835.6 L1872.5 835.6 L1878.5 835.5 L1884.5 835.4 L1890.5 835.3 L1896.5 835.2 L1902.5 835.2 L1908.5 835.1 L1914.5 835.0 L1920.5 835.0 L1926.5 834.9 L1932.5 834.8 L1938.5 834.8 L1944.5 834.7 L1950.5 834.6 L1956.5 834.6 L1962.5 834.5 L1968.5 834.5 L1974.5 834.4 L1980.5 834.4 L1986.5 834.3 L1992.5 834.3 L1998.5 834.2 L2004.5 834.2 L2010.5 834.1 L2016.5 834.1 L2022.5 834.0 L2028.5 834.0 L2034.5 834.0 L2040.5 833.9 L2046.5 833.9 L2052.5 833.8 L2058.5 833.8 L2064.5 833.8 L2070.5 833.7 L2076.5 833.7 L2082.5 833.7 L2088.5 833.6 L2094.5 833.6 L2100.5 833.6 L2106.5 833.5 L2112.5 833.5 L2118.5 833.5 L2124.5 833.5 L2130.5 833.4 L2136.5 833.4 L2142.5 833.4 L2148.5 833.4 L2154.5 833.3 L2160.5 833.3 L2166.5 833.3 L2172.5 833.3 L2178.5 833.2 L2184.5 833.2 L2190.5 833.2 L2196.5 833.2 L2202.5 833.2 L2208.5 833.1 L2214.5 833.1 L2220.5 833.1 L2226.5 833.1 L2232.5 833.1 L2238.5 833.1 L2244.5 833.0 L2250.5 833.0 L2256.5 833.0 L2262.5 833.0 L2268.5 833.0 L2274.5 833.0 L2280.5 833.0 L2286.5 832.9 L2292.5 832.9 L2298.5 832.9 L2303.5 832.9" stroke="#D95319" stroke-width="9.5" stroke-dasharray="25.5 6.5 12 7"/>
<path d="M252.5 1492.6 L256.5 1492.6 L260.5 1492.5 L264.5 1492.4 L268.5 1492.3 L272.5 1492.3 L276.5 1492.2 L280.5 1492.1 L284.5 1492.0 L288.5 1491.9 L292.5 1491.8 L296.5 1491.7 L300.5 1491.6 L304.5 1491.6 L308.5 1491.5 L312.5 1491.4 L316.5 1491.3 L320.5 1491.2 L324.5 1491.1 L328.5 1491.0 L332.5 1490.9 L336.5 1490.7 L340.5 1490.6 L344.5 1490.5 L348.5 1490.4 L352.5 1490.3 L356.5 1490.2 L360.5 1490.1 L364.5 1489.9 L368.5 1489.8 L372.5 1489.7 L376.5 1489.6 L380.5 1489.4 L384.5 1489.3 L388.5 1489.2 L392.5 1489.0 L396.5 1488.9 L400.5 1488.7 L404.5 1488.6 L408.5 1488.4 L412.5 1488.3 L416.5 1488.1 L420.5 1488.0 L424.5 1487.8 L428.5 1487.7 L432.5 1487.5 L436.5 1487.3 L440.5 1487.2 L444.5 1487.0 L448.5 1486.8 L452.5 1486.6 L456.5 1486.4 L460.5 1486.3 L464.5 1486.1 L468.5 1485.9 L472.5 1485.7 L476.5 1485.5 L480.5 1485.3 L484.5 1485.1 L488.5 1484.9 L492.5 1484.6 L496.5 1484.4 L500.5 1484.2 L504.5 1484.0 L508.5 1483.7 L512.5 1483.5 L516.5 1483.3 L520.5 1483.0 L524.5 1482.8 L528.5 1482.5 L532.5 1482.3 L536.5 1482.0 L540.5 1481.7 L544.5 1481.5 L548.5 1481.2 L552.5 1480.9 L556.5 1480.6 L560.5 1480.3 L564.5 1480.0 L568.5 1479.7 L572.5 1479.4 L576.5 1479.1 L580.5 1478.8 L584.5 1478.5 L588.5 1478.2 L592.5 1477.8 L596.5 1477.5 L600.5 1477.1 L604.5 1476.8 L608.5 1476.4 L612.5 1476.1 L616.5 1475.7 L620.5 1475.3 L624.5 1474.9 L628.5 1474.5 L632.5 1474.1 L636.5 1473.7 L640.5 1473.3 L644.5 1472.9 L648.5 1472.5 L652.5 1472.1 L656.5 1471.6 L660.5 1471.2 L664.5 1470.7 L668.5 1470.3 L672.5 1469.8 L676.5 1469.3 L680.5 1468.8 L684.5 1468.3 L688.5 1467.8 L692.5 1467.3 L696.5 1466.8 L700.5 1466.3 L704.5 1465.7 L708.5 1465.2 L712.5 1464.6 L716.5 1464.1 L720.5 1463.5 L724.5 1462.9 L728.5 1462.3 L732.5 1461.7 L736.5 1461.1 L740.5 1460.5 L744.5 1459.9 L748.5 1459.2 L752.5 1458.6 L756.5 1457.9 L760.5 1457.3 L764.5 1456.6 L768.5 1455.9 L772.5 1455.2 L776.5 1454.5 L780.5 1453.8 L784.5 1453.0 L788.5 1452.3 L792.5 1451.5 L796.5 1450.8 L800.5 1450.0 L804.5 1449.2 L808.5 1448.4 L812.5 1447.6 L816.5 1446.8 L820.5 1446.0 L824.5 1445.1 L828.5 1444.3 L832.5 1443.4 L836.5 1442.5 L840.5 1441.7 L844.5 1440.8 L848.5 1439.8 L852.5 1438.9 L856.5 1438.0 L860.5 1437.0 L864.5 1436.1 L868.5 1435.1 L872.5 1434.1 L876.5 1433.2 L880.5 1432.2 L884.5 1431.2 L888.5 1430.1 L892.5 1429.1 L896.5 1428.1 L900.5 1427.0 L904.5 1425.9 L908.5 1424.9 L912.5 1423.8 L916.5 1422.7 L920.5 1421.6 L924.5 1420.5 L928.5 1419.3 L932.5 1418.2 L936.5 1417.1 L940.5 1415.9 L944.5 1414.8 L948.5 1413.6 L952.5 1412.4 L956.5 1411.2 L960.5 1410.0 L964.5 1408.9 L968.5 1407.6 L972.5 1406.4 L976.5 1405.2 L980.5 1404.0 L984.5 1402.8 L988.5 1401.5 L992.5 1400.3 L996.5 1399.1 L1000.5 1397.8 L1004.5 1396.6 L1008.5 1395.3 L1012.5 1394.0 L1016.5 1392.8 L1020.5 1391.5 L1024.5 1390.3 L1028.5 1389.0 L1032.5 1387.7 L1036.5 1386.5 L1040.5 1385.2 L1044.5 1383.9 L1048.5 1382.7 L1052.5 1381.4 L1056.5 1380.1 L1060.5 1378.9 L1064.5 1377.6 L1068.5 1376.4 L1072.5 1375.1 L1076.5 1373.9 L1080.5 1372.6 L1084.5 1371.4 L1088.5 1370.1 L1092.5 1368.9 L1096.5 1367.7 L1100.5 1366.5 L1104.5 1365.3 L1108.5 1364.0 L1112.5 1362.8 L1116.5 1361.6 L1120.5 1360.5 L1124.5 1359.3 L1128.5 1358.1 L1132.5 1356.9 L1136.5 1355.8 L1140.5 1354.6 L1144.5 1353.5 L1148.5 1352.4 L1152.5 1351.3 L1156.5 1350.1 L1160.5 1349.0 L1164.5 1348.0 L1168.5 1346.9 L1172.5 1345.8 L1176.5 1344.7 L1180.5 1343.7 L1184.5 1342.7 L1188.5 1341.6 L1192.5 1340.6 L1196.5 1339.6 L1200.5 1338.6 L1204.5 1337.6 L1208.5 1336.7 L1212.5 1335.7 L1216.5 1334.7 L1220.5 1333.8 L1224.5 1332.9 L1228.5 1332.0 L1232.5 1331.1 L1236.5 1330.2 L1240.5 1329.3 L1244.5 1328.4 L1248.5 1327.5 L1252.5 1326.7 L1256.5 1325.9 L1260.5 1325.0 L1264.5 1324.2 L1268.5 1323.4 L1272.5 1322.6 L1276.5 1321.8 L1280.5 1321.1 L1284.5 1320.3 L1288.5 1319.6 L1292.5 1318.8 L1296.5 1318.1 L1300.5 1317.4 L1304.5 1316.7 L1308.5 1316.0 L1312.5 1315.3 L1316.5 1314.6 L1320.5 1314.0 L1324.5 1313.3 L1328.5 1312.7 L1332.5 1312.0 L1336.5 1311.4 L1340.5 1310.8 L1344.5 1310.2 L1348.5 1309.6 L1352.5 1309.0 L1356.5 1308.4 L1360.5 1307.8 L1364.5 1307.3 L1368.5 1306.7 L1372.5 1306.2 L1376.5 1305.7 L1380.5 1305.1 L1384.5 1304.6 L1388.5 1304.1 L1392.5 1303.6 L1396.5 1303.1 L1400.0 1305.2 L1415.6 1296.1 L1424.7 1314.2 L1430.5 1318.4 L1435.4 1289.5 L1441.2 1227.0 L1446.1 1201.5 L1448.1 1284.6 L1449.4 1455.8 L1454.3 1366.9 L1462.6 1268.1 L1470.0 1208.9 L1473.3 1235.2 L1477.4 1268.1 L1485.6 1255.0 L1495.5 1241.8 L1505.3 1250.0 L1515.2 1250.0 L1523.5 1231.9 L1530.0 1245.1 L1536.6 1278.0 L1541.6 1194.1 L1544.9 1139.8 L1549.8 1169.4 L1558.0 1301.1 L1562.1 1399.8 L1566.3 1489.5 L1567.9 1366.9 L1569.5 1194.1 L1577.8 1251.7 L1586.0 1309.3 L1590.9 1306.0 L1597.5 1284.6 L1612.3 1289.5 L1640.0 1286.3 L1644.0 1284.6 L1648.0 1284.4 L1652.0 1284.3 L1656.0 1284.1 L1660.0 1284.0 L1664.0 1283.8 L1668.0 1283.7 L1672.0 1283.5 L1676.0 1283.4 L1680.0 1283.2 L1684.0 1283.1 L1688.0 1282.9 L1692.0 1282.8 L1696.0 1282.7 L1700.0 1282.5 L1704.0 1282.4 L1708.0 1282.3 L1712.0 1282.2 L1716.0 1282.0 L1720.0 1281.9 L1724.0 1281.8 L1728.0 1281.7 L1732.0 1281.6 L1736.0 1281.5 L1740.0 1281.4 L1744.0 1281.3 L1748.0 1281.1 L1752.0 1281.0 L1756.0 1280.9 L1760.0 1280.8 L1764.0 1280.7 L1768.0 1280.7 L1772.0 1280.6 L1776.0 1280.5 L1780.0 1280.4 L1784.0 1280.3 L1788.0 1280.2 L1792.0 1280.1 L1796.0 1280.0 L1800.0 1279.9 L1804.0 1279.9 L1808.0 1279.8 L1812.0 1279.7 L1816.0 1279.6 L1820.0 1279.5 L1824.0 1279.5 L1828.0 1279.4 L1832.0 1279.3 L1836.0 1279.3 L1840.0 1279.2 L1844.0 1279.1 L1848.0 1279.1 L1852.0 1279.0 L1856.0 1278.9 L1860.0 1278.9 L1864.0 1278.8 L1868.0 1278.7 L1872.0 1278.7 L1876.0 1278.6 L1880.0 1278.6 L1884.0 1278.5 L1888.0 1278.4 L1892.0 1278.4 L1896.0 1278.3 L1900.0 1278.3 L1904.0 1278.2 L1908.0 1278.2 L1912.0 1278.1 L1916.0 1278.1 L1920.0 1278.0 L1924.0 1278.0 L1928.0 1277.9 L1932.0 1277.9 L1936.0 1277.8 L1940.0 1277.8 L1944.0 1277.8 L1948.0 1277.7 L1952.0 1277.7 L1956.0 1277.6 L1960.0 1277.6 L1964.0 1277.5 L1968.0 1277.5 L1972.0 1277.5 L1976.0 1277.4 L1980.0 1277.4 L1984.0 1277.4 L1988.0 1277.3 L1992.0 1277.3 L1996.0 1277.3 L2000.0 1277.2 L2004.0 1277.2 L2008.0 1277.2 L2012.0 1277.1 L2016.0 1277.1 L2020.0 1277.1 L2024.0 1277.0 L2028.0 1277.0 L2032.0 1277.0 L2036.0 1276.9 L2040.0 1276.9 L2044.0 1276.9 L2048.0 1276.9 L2052.0 1276.8 L2056.0 1276.8 L2060.0 1276.8 L2064.0 1276.8 L2068.0 1276.7 L2072.0 1276.7 L2076.0 1276.7 L2080.0 1276.7 L2084.0 1276.6 L2088.0 1276.6 L2092.0 1276.6 L2096.0 1276.6 L2100.0 1276.5 L2104.0 1276.5 L2108.0 1276.5 L2112.0 1276.5 L2116.0 1276.5 L2120.0 1276.4 L2124.0 1276.4 L2128.0 1276.4 L2132.0 1276.4 L2136.0 1276.4 L2140.0 1276.3 L2144.0 1276.3 L2148.0 1276.3 L2152.0 1276.3 L2156.0 1276.3 L2160.0 1276.3 L2164.0 1276.2 L2168.0 1276.2 L2172.0 1276.2 L2176.0 1276.2 L2180.0 1276.2 L2184.0 1276.2 L2188.0 1276.2 L2192.0 1276.1 L2196.0 1276.1 L2200.0 1276.1 L2204.0 1276.1 L2208.0 1276.1 L2212.0 1276.1 L2216.0 1276.1 L2220.0 1276.0 L2224.0 1276.0 L2228.0 1276.0 L2232.0 1276.0 L2236.0 1276.0 L2240.0 1276.0 L2244.0 1276.0 L2248.0 1276.0 L2252.0 1275.9 L2256.0 1275.9 L2260.0 1275.9 L2264.0 1275.9 L2268.0 1275.9 L2272.0 1275.9 L2276.0 1275.9 L2280.0 1275.9 L2284.0 1275.9 L2288.0 1275.9 L2292.0 1275.8 L2296.0 1275.8 L2300.0 1275.8 L2303.5 1275.8" stroke="#0072BD" stroke-width="5.6"/>
<path d="M252.5 1486.4 L256.5 1486.2 L260.5 1486.0 L264.5 1485.8 L268.5 1485.6 L272.5 1485.4 L276.5 1485.2 L280.5 1485.0 L284.5 1484.8 L288.5 1484.5 L292.5 1484.3 L296.5 1484.1 L300.5 1483.9 L304.5 1483.6 L308.5 1483.4 L312.5 1483.2 L316.5 1482.9 L320.5 1482.7 L324.5 1482.4 L328.5 1482.2 L332.5 1481.9 L336.5 1481.6 L340.5 1481.3 L344.5 1481.1 L348.5 1480.8 L352.5 1480.5 L356.5 1480.2 L360.5 1479.9 L364.5 1479.6 L368.5 1479.3 L372.5 1479.0 L376.5 1478.7 L380.5 1478.3 L384.5 1478.0 L388.5 1477.7 L392.5 1477.3 L396.5 1477.0 L400.5 1476.6 L404.5 1476.3 L408.5 1475.9 L412.5 1475.5 L416.5 1475.2 L420.5 1474.8 L424.5 1474.4 L428.5 1474.0 L432.5 1473.6 L436.5 1473.2 L440.5 1472.7 L444.5 1472.3 L448.5 1471.9 L452.5 1471.4 L456.5 1471.0 L460.5 1470.5 L464.5 1470.1 L468.5 1469.6 L472.5 1469.1 L476.5 1468.6 L480.5 1468.1 L484.5 1467.6 L488.5 1467.1 L492.5 1466.6 L496.5 1466.0 L500.5 1465.5 L504.5 1465.0 L508.5 1464.4 L512.5 1463.8 L516.5 1463.3 L520.5 1462.7 L524.5 1462.1 L528.5 1461.5 L532.5 1460.9 L536.5 1460.2 L540.5 1459.6 L544.5 1459.0 L548.5 1458.3 L552.5 1457.7 L556.5 1457.0 L560.5 1456.3 L564.5 1455.6 L568.5 1454.9 L572.5 1454.2 L576.5 1453.5 L580.5 1452.7 L584.5 1452.0 L588.5 1451.2 L592.5 1450.5 L596.5 1449.7 L600.5 1448.9 L604.5 1448.1 L608.5 1447.3 L612.5 1446.5 L616.5 1445.6 L620.5 1444.8 L624.5 1443.9 L628.5 1443.0 L632.5 1442.2 L636.5 1441.3 L640.5 1440.4 L644.5 1439.5 L648.5 1438.5 L652.5 1437.6 L656.5 1436.6 L660.5 1435.7 L664.5 1434.7 L668.5 1433.7 L672.5 1432.7 L676.5 1431.7 L680.5 1430.7 L684.5 1429.7 L688.5 1428.7 L692.5 1427.6 L696.5 1426.6 L700.5 1425.5 L704.5 1424.4 L708.5 1423.3 L712.5 1422.2 L716.5 1421.1 L720.5 1420.0 L724.5 1418.9 L728.5 1417.7 L732.5 1416.6 L736.5 1415.4 L740.5 1414.3 L744.5 1413.1 L748.5 1411.9 L752.5 1410.7 L756.5 1409.5 L760.5 1408.3 L764.5 1407.1 L768.5 1405.9 L772.5 1404.7 L776.5 1403.5 L780.5 1402.3 L784.5 1401.0 L788.5 1399.8 L792.5 1398.5 L796.5 1397.3 L800.5 1396.0 L804.5 1394.8 L808.5 1393.5 L812.5 1392.3 L816.5 1391.0 L820.5 1389.7 L824.5 1388.5 L828.5 1387.2 L832.5 1385.9 L836.5 1384.7 L840.5 1383.4 L844.5 1382.1 L848.5 1380.9 L852.5 1379.6 L856.5 1378.4 L860.5 1377.1 L864.5 1375.8 L868.5 1374.6 L872.5 1373.3 L876.5 1372.1 L880.5 1370.9 L884.5 1369.6 L888.5 1368.4 L892.5 1367.2 L896.5 1366.0 L900.5 1364.7 L904.5 1363.5 L908.5 1362.3 L912.5 1361.1 L916.5 1360.0 L920.5 1358.8 L924.5 1357.6 L928.5 1356.5 L932.5 1355.3 L936.5 1354.2 L940.5 1353.0 L944.5 1351.9 L948.5 1350.8 L952.5 1349.7 L956.5 1348.6 L960.5 1347.5 L964.5 1346.4 L968.5 1345.4 L972.5 1344.3 L976.5 1343.3 L980.5 1342.2 L984.5 1341.2 L988.5 1340.2 L992.5 1339.2 L996.5 1338.2 L1000.5 1337.2 L1004.5 1336.2 L1008.5 1335.3 L1012.5 1334.3 L1016.5 1333.4 L1020.5 1332.5 L1024.5 1331.6 L1028.5 1330.7 L1032.5 1329.8 L1036.5 1328.9 L1040.5 1328.0 L1044.5 1327.2 L1048.5 1326.3 L1052.5 1325.5 L1056.5 1324.7 L1060.5 1323.9 L1064.5 1323.1 L1068.5 1322.3 L1072.5 1321.5 L1076.5 1320.7 L1080.5 1320.0 L1084.5 1319.2 L1088.5 1318.5 L1092.5 1317.8 L1096.5 1317.1 L1100.5 1316.4 L1104.5 1315.7 L1108.5 1315.0 L1112.5 1314.3 L1116.5 1313.7 L1120.5 1313.0 L1124.5 1312.4 L1128.5 1311.8 L1132.5 1311.1 L1136.5 1310.5 L1140.5 1309.9 L1144.5 1309.3 L1148.5 1308.7 L1152.5 1308.2 L1156.5 1307.6 L1160.5 1307.1 L1164.5 1306.5 L1168.5 1306.0 L1172.5 1305.4 L1176.5 1304.9 L1180.5 1304.4 L1184.5 1303.9 L1188.5 1303.4 L1192.5 1302.9 L1196.5 1302.4 L1200.5 1302.0 L1204.5 1301.5 L1208.5 1301.1 L1212.5 1300.6 L1216.5 1300.2 L1220.5 1299.7 L1224.5 1299.3 L1228.5 1298.9 L1232.5 1298.5 L1236.5 1298.1 L1240.5 1297.7 L1244.5 1297.3 L1248.5 1296.9 L1252.5 1296.5 L1256.5 1296.2 L1260.5 1295.8 L1264.5 1295.4 L1268.5 1295.1 L1272.5 1294.7 L1276.5 1294.4 L1280.5 1294.1 L1284.5 1293.7 L1288.5 1293.4 L1292.5 1293.1 L1296.5 1292.8 L1300.5 1292.5 L1304.5 1292.2 L1308.5 1291.9 L1312.5 1291.6 L1316.5 1291.3 L1320.5 1291.0 L1324.5 1290.7 L1328.5 1290.5 L1332.5 1290.2 L1336.5 1289.9 L1340.5 1289.7 L1344.5 1289.4 L1348.5 1289.2 L1352.5 1288.9 L1356.5 1288.7 L1360.5 1288.4 L1364.5 1288.2 L1368.5 1288.0 L1372.5 1287.8 L1376.5 1287.5 L1380.5 1287.3 L1384.5 1287.1 L1388.5 1286.9 L1392.5 1286.7 L1396.5 1286.5 L1400.0 1288.7 L1416.5 1287.1 L1429.6 1288.7 L1441.2 1283.0 L1451.0 1283.0 L1457.6 1294.5 L1463.4 1297.0 L1472.4 1246.7 L1477.4 1276.4 L1484.0 1327.4 L1489.7 1322.5 L1494.7 1235.2 L1499.6 1129.9 L1503.7 1251.7 L1508.6 1360.3 L1516.0 1268.1 L1522.6 1103.5 L1525.4 1054.5 L1526.7 1185.8 L1528.1 1443.0 L1533.3 1334.0 L1541.6 1235.2 L1548.1 1200.7 L1556.4 1347.2 L1562.1 1301.1 L1571.2 1251.7 L1582.7 1297.8 L1592.6 1268.1 L1602.5 1286.3 L1614.0 1279.7 L1640.0 1281.3 L1644.0 1279.0 L1648.0 1279.0 L1652.0 1278.9 L1656.0 1278.8 L1660.0 1278.8 L1664.0 1278.7 L1668.0 1278.6 L1672.0 1278.6 L1676.0 1278.5 L1680.0 1278.5 L1684.0 1278.4 L1688.0 1278.4 L1692.0 1278.3 L1696.0 1278.3 L1700.0 1278.2 L1704.0 1278.2 L1708.0 1278.1 L1712.0 1278.1 L1716.0 1278.0 L1720.0 1278.0 L1724.0 1277.9 L1728.0 1277.9 L1732.0 1277.8 L1736.0 1277.8 L1740.0 1277.7 L1744.0 1277.7 L1748.0 1277.7 L1752.0 1277.6 L1756.0 1277.6 L1760.0 1277.5 L1764.0 1277.5 L1768.0 1277.5 L1772.0 1277.4 L1776.0 1277.4 L1780.0 1277.3 L1784.0 1277.3 L1788.0 1277.3 L1792.0 1277.2 L1796.0 1277.2 L1800.0 1277.2 L1804.0 1277.1 L1808.0 1277.1 L1812.0 1277.1 L1816.0 1277.0 L1820.0 1277.0 L1824.0 1277.0 L1828.0 1277.0 L1832.0 1276.9 L1836.0 1276.9 L1840.0 1276.9 L1844.0 1276.8 L1848.0 1276.8 L1852.0 1276.8 L1856.0 1276.8 L1860.0 1276.7 L1864.0 1276.7 L1868.0 1276.7 L1872.0 1276.7 L1876.0 1276.6 L1880.0 1276.6 L1884.0 1276.6 L1888.0 1276.6 L1892.0 1276.6 L1896.0 1276.5 L1900.0 1276.5 L1904.0 1276.5 L1908.0 1276.5 L1912.0 1276.4 L1916.0 1276.4 L1920.0 1276.4 L1924.0 1276.4 L1928.0 1276.4 L1932.0 1276.4 L1936.0 1276.3 L1940.0 1276.3 L1944.0 1276.3 L1948.0 1276.3 L1952.0 1276.3 L1956.0 1276.3 L1960.0 1276.2 L1964.0 1276.2 L1968.0 1276.2 L1972.0 1276.2 L1976.0 1276.2 L1980.0 1276.2 L1984.0 1276.1 L1988.0 1276.1 L1992.0 1276.1 L1996.0 1276.1 L2000.0 1276.1 L2004.0 1276.1 L2008.0 1276.1 L2012.0 1276.0 L2016.0 1276.0 L2020.0 1276.0 L2024.0 1276.0 L2028.0 1276.0 L2032.0 1276.0 L2036.0 1276.0 L2040.0 1276.0 L2044.0 1276.0 L2048.0 1275.9 L2052.0 1275.9 L2056.0 1275.9 L2060.0 1275.9 L2064.0 1275.9 L2068.0 1275.9 L2072.0 1275.9 L2076.0 1275.9 L2080.0 1275.9 L2084.0 1275.9 L2088.0 1275.8 L2092.0 1275.8 L2096.0 1275.8 L2100.0 1275.8 L2104.0 1275.8 L2108.0 1275.8 L2112.0 1275.8 L2116.0 1275.8 L2120.0 1275.8 L2124.0 1275.8 L2128.0 1275.8 L2132.0 1275.8 L2136.0 1275.7 L2140.0 1275.7 L2144.0 1275.7 L2148.0 1275.7 L2152.0 1275.7 L2156.0 1275.7 L2160.0 1275.7 L2164.0 1275.7 L2168.0 1275.7 L2172.0 1275.7 L2176.0 1275.7 L2180.0 1275.7 L2184.0 1275.7 L2188.0 1275.7 L2192.0 1275.7 L2196.0 1275.7 L2200.0 1275.6 L2204.0 1275.6 L2208.0 1275.6 L2212.0 1275.6 L2216.0 1275.6 L2220.0 1275.6 L2224.0 1275.6 L2228.0 1275.6 L2232.0 1275.6 L2236.0 1275.6 L2240.0 1275.6 L2244.0 1275.6 L2248.0 1275.6 L2252.0 1275.6 L2256.0 1275.6 L2260.0 1275.6 L2264.0 1275.6 L2268.0 1275.6 L2272.0 1275.6 L2276.0 1275.6 L2280.0 1275.6 L2284.0 1275.6 L2288.0 1275.5 L2292.0 1275.5 L2296.0 1275.5 L2300.0 1275.5 L2303.5 1275.5" stroke="#EDB120" stroke-width="5.6"/>
<path d="M252.5 1440.9 L256.5 1440.0 L260.5 1439.1 L264.5 1438.2 L268.5 1437.2 L272.5 1436.3 L276.5 1435.3 L280.5 1434.3 L284.5 1433.3 L288.5 1432.4 L292.5 1431.3 L296.5 1430.3 L300.5 1429.3 L304.5 1428.3 L308.5 1427.2 L312.5 1426.1 L316.5 1425.1 L320.5 1424.0 L324.5 1422.9 L328.5 1421.8 L332.5 1420.7 L336.5 1419.6 L340.5 1418.4 L344.5 1417.3 L348.5 1416.1 L352.5 1415.0 L356.5 1413.8 L360.5 1412.6 L364.5 1411.5 L368.5 1410.3 L372.5 1409.1 L376.5 1407.9 L380.5 1406.7 L384.5 1405.5 L388.5 1404.2 L392.5 1403.0 L396.5 1401.8 L400.5 1400.5 L404.5 1399.3 L408.5 1398.0 L412.5 1396.8 L416.5 1395.5 L420.5 1394.3 L424.5 1393.0 L428.5 1391.8 L432.5 1390.5 L436.5 1389.2 L440.5 1388.0 L444.5 1386.7 L448.5 1385.4 L452.5 1384.2 L456.5 1382.9 L460.5 1381.6 L464.5 1380.4 L468.5 1379.1 L472.5 1377.9 L476.5 1376.6 L480.5 1375.4 L484.5 1374.1 L488.5 1372.9 L492.5 1371.6 L496.5 1370.4 L500.5 1369.1 L504.5 1367.9 L508.5 1366.7 L512.5 1365.5 L516.5 1364.3 L520.5 1363.1 L524.5 1361.9 L528.5 1360.7 L532.5 1359.5 L536.5 1358.3 L540.5 1357.2 L544.5 1356.0 L548.5 1354.9 L552.5 1353.7 L556.5 1352.6 L560.5 1351.5 L564.5 1350.4 L568.5 1349.3 L572.5 1348.2 L576.5 1347.1 L580.5 1346.0 L584.5 1344.9 L588.5 1343.9 L592.5 1342.9 L596.5 1341.8 L600.5 1340.8 L604.5 1339.8 L608.5 1338.8 L612.5 1337.8 L616.5 1336.8 L620.5 1335.9 L624.5 1334.9 L628.5 1334.0 L632.5 1333.0 L636.5 1332.1 L640.5 1331.2 L644.5 1330.3 L648.5 1329.4 L652.5 1328.6 L656.5 1327.7 L660.5 1326.9 L664.5 1326.0 L668.5 1325.2 L672.5 1324.4 L676.5 1323.6 L680.5 1322.8 L684.5 1322.0 L688.5 1321.2 L692.5 1320.5 L696.5 1319.7 L700.5 1319.0 L704.5 1318.2 L708.5 1317.5 L712.5 1316.8 L716.5 1316.1 L720.5 1315.4 L724.5 1314.7 L728.5 1314.1 L732.5 1313.4 L736.5 1312.8 L740.5 1312.1 L744.5 1311.5 L748.5 1310.9 L752.5 1310.3 L756.5 1309.7 L760.5 1309.1 L764.5 1308.5 L768.5 1308.0 L772.5 1307.4 L776.5 1306.8 L780.5 1306.3 L784.5 1305.8 L788.5 1305.2 L792.5 1304.7 L796.5 1304.2 L800.5 1303.7 L804.5 1303.2 L808.5 1302.7 L812.5 1302.3 L816.5 1301.8 L820.5 1301.3 L824.5 1300.9 L828.5 1300.4 L832.5 1300.0 L836.5 1299.6 L840.5 1299.1 L844.5 1298.7 L848.5 1298.3 L852.5 1297.9 L856.5 1297.5 L860.5 1297.1 L864.5 1296.8 L868.5 1296.4 L872.5 1296.0 L876.5 1295.6 L880.5 1295.3 L884.5 1294.9 L888.5 1294.6 L892.5 1294.3 L896.5 1293.9 L900.5 1293.6 L904.5 1293.3 L908.5 1293.0 L912.5 1292.7 L916.5 1292.3 L920.5 1292.0 L924.5 1291.8 L928.5 1291.5 L932.5 1291.2 L936.5 1290.9 L940.5 1290.6 L944.5 1290.4 L948.5 1290.1 L952.5 1289.8 L956.5 1289.6 L960.5 1289.3 L964.5 1289.1 L968.5 1288.8 L972.5 1288.6 L976.5 1288.4 L980.5 1288.1 L984.5 1287.9 L988.5 1287.7 L992.5 1287.5 L996.5 1287.2 L1000.5 1287.0 L1004.5 1286.8 L1008.5 1286.6 L1012.5 1286.4 L1016.5 1286.2 L1020.5 1286.0 L1024.5 1285.8 L1028.5 1285.7 L1032.5 1285.5 L1036.5 1285.3 L1040.5 1285.1 L1044.5 1284.9 L1048.5 1284.8 L1052.5 1284.6 L1056.5 1284.4 L1060.5 1284.3 L1064.5 1284.1 L1068.5 1284.0 L1072.5 1283.8 L1076.5 1283.7 L1080.5 1283.5 L1084.5 1283.4 L1088.5 1283.2 L1092.5 1283.1 L1096.5 1282.9 L1100.5 1282.8 L1104.5 1282.7 L1108.5 1282.6 L1112.5 1282.4 L1116.5 1282.3 L1120.5 1282.2 L1124.5 1282.1 L1128.5 1281.9 L1132.5 1281.8 L1136.5 1281.7 L1140.5 1281.6 L1144.5 1281.5 L1148.5 1281.4 L1152.5 1281.3 L1156.5 1281.2 L1160.5 1281.1 L1164.5 1281.0 L1168.5 1280.9 L1172.5 1280.8 L1176.5 1280.7 L1180.5 1280.6 L1184.5 1280.5 L1188.5 1280.4 L1192.5 1280.3 L1196.5 1280.2 L1200.5 1280.1 L1204.5 1280.0 L1208.5 1279.9 L1212.5 1279.9 L1216.5 1279.8 L1220.5 1279.7 L1224.5 1279.6 L1228.5 1279.6 L1232.5 1279.5 L1236.5 1279.4 L1240.5 1279.3 L1244.5 1279.3 L1248.5 1279.2 L1252.5 1279.1 L1256.5 1279.1 L1260.5 1279.0 L1264.5 1278.9 L1268.5 1278.9 L1272.5 1278.8 L1276.5 1278.7 L1280.5 1278.7 L1284.5 1278.6 L1288.5 1278.6 L1292.5 1278.5 L1296.5 1278.4 L1300.5 1278.4 L1304.5 1278.3 L1308.5 1278.3 L1312.5 1278.2 L1316.5 1278.2 L1320.5 1278.1 L1324.5 1278.1 L1328.5 1278.0 L1332.5 1278.0 L1336.5 1277.9 L1340.5 1277.9 L1344.5 1277.8 L1348.5 1277.8 L1352.5 1277.8 L1356.5 1277.7 L1360.5 1277.7 L1364.5 1277.6 L1368.5 1277.6 L1372.5 1277.5 L1376.5 1277.5 L1380.5 1277.5 L1384.5 1277.4 L1388.5 1277.4 L1392.5 1277.4 L1396.5 1277.3 L1400.0 1277.2 L1432.9 1276.4 L1449.4 1278.0 L1460.9 1269.8 L1470.8 1287.9 L1479.0 1287.9 L1488.9 1245.1 L1492.2 1246.7 L1500.4 1332.3 L1510.3 1200.7 L1515.2 1197.4 L1520.2 1317.5 L1525.1 1363.6 L1536.6 1182.6 L1540.7 1189.1 L1549.8 1355.4 L1556.4 1248.4 L1564.6 1227.0 L1572.8 1314.2 L1581.1 1268.1 L1589.3 1259.9 L1600.8 1286.3 L1615.6 1271.4 L1630.5 1276.4 L1640.0 1274.7 L1644.0 1276.0 L1648.0 1276.0 L1652.0 1276.0 L1656.0 1276.0 L1660.0 1276.0 L1664.0 1275.9 L1668.0 1275.9 L1672.0 1275.9 L1676.0 1275.9 L1680.0 1275.9 L1684.0 1275.9 L1688.0 1275.9 L1692.0 1275.9 L1696.0 1275.9 L1700.0 1275.9 L1704.0 1275.8 L1708.0 1275.8 L1712.0 1275.8 L1716.0 1275.8 L1720.0 1275.8 L1724.0 1275.8 L1728.0 1275.8 L1732.0 1275.8 L1736.0 1275.8 L1740.0 1275.8 L1744.0 1275.8 L1748.0 1275.8 L1752.0 1275.7 L1756.0 1275.7 L1760.0 1275.7 L1764.0 1275.7 L1768.0 1275.7 L1772.0 1275.7 L1776.0 1275.7 L1780.0 1275.7 L1784.0 1275.7 L1788.0 1275.7 L1792.0 1275.7 L1796.0 1275.7 L1800.0 1275.7 L1804.0 1275.7 L1808.0 1275.7 L1812.0 1275.7 L1816.0 1275.6 L1820.0 1275.6 L1824.0 1275.6 L1828.0 1275.6 L1832.0 1275.6 L1836.0 1275.6 L1840.0 1275.6 L1844.0 1275.6 L1848.0 1275.6 L1852.0 1275.6 L1856.0 1275.6 L1860.0 1275.6 L1864.0 1275.6 L1868.0 1275.6 L1872.0 1275.6 L1876.0 1275.6 L1880.0 1275.6 L1884.0 1275.6 L1888.0 1275.6 L1892.0 1275.6 L1896.0 1275.6 L1900.0 1275.6 L1904.0 1275.5 L1908.0 1275.5 L1912.0 1275.5 L1916.0 1275.5 L1920.0 1275.5 L1924.0 1275.5 L1928.0 1275.5 L1932.0 1275.5 L1936.0 1275.5 L1940.0 1275.5 L1944.0 1275.5 L1948.0 1275.5 L1952.0 1275.5 L1956.0 1275.5 L1960.0 1275.5 L1964.0 1275.5 L1968.0 1275.5 L1972.0 1275.5 L1976.0 1275.5 L1980.0 1275.5 L1984.0 1275.5 L1988.0 1275.5 L1992.0 1275.5 L1996.0 1275.5 L2000.0 1275.5 L2004.0 1275.5 L2008.0 1275.5 L2012.0 1275.5 L2016.0 1275.5 L2020.0 1275.5 L2024.0 1275.5 L2028.0 1275.5 L2032.0 1275.5 L2036.0 1275.5 L2040.0 1275.5 L2044.0 1275.5 L2048.0 1275.5 L2052.0 1275.4 L2056.0 1275.4 L2060.0 1275.4 L2064.0 1275.4 L2068.0 1275.4 L2072.0 1275.4 L2076.0 1275.4 L2080.0 1275.4 L2084.0 1275.4 L2088.0 1275.4 L2092.0 1275.4 L2096.0 1275.4 L2100.0 1275.4 L2104.0 1275.4 L2108.0 1275.4 L2112.0 1275.4 L2116.0 1275.4 L2120.0 1275.4 L2124.0 1275.4 L2128.0 1275.4 L2132.0 1275.4 L2136.0 1275.4 L2140.0 1275.4 L2144.0 1275.4 L2148.0 1275.4 L2152.0 1275.4 L2156.0 1275.4 L2160.0 1275.4 L2164.0 1275.4 L2168.0 1275.4 L2172.0 1275.4 L2176.0 1275.4 L2180.0 1275.4 L2184.0 1275.4 L2188.0 1275.4 L2192.0 1275.4 L2196.0 1275.4 L2200.0 1275.4 L2204.0 1275.4 L2208.0 1275.4 L2212.0 1275.4 L2216.0 1275.4 L2220.0 1275.4 L2224.0 1275.4 L2228.0 1275.4 L2232.0 1275.4 L2236.0 1275.4 L2240.0 1275.4 L2244.0 1275.4 L2248.0 1275.4 L2252.0 1275.4 L2256.0 1275.4 L2260.0 1275.4 L2264.0 1275.4 L2268.0 1275.4 L2272.0 1275.4 L2276.0 1275.4 L2280.0 1275.4 L2284.0 1275.4 L2288.0 1275.4 L2292.0 1275.4 L2296.0 1275.4 L2300.0 1275.4 L2303.5 1275.4" stroke="#7E2F8E" stroke-width="5.6"/>
</g>
<rect x="252.5" y="826.7" width="2051.0" height="676.8" fill="none" stroke="#000" stroke-width="5.5"/>
<path d="M406.9 826.7v17.5M406.9 1503.5v-17.5M497.1 826.7v17.5M497.1 1503.5v-17.5M561.2 826.7v17.5M561.2 1503.5v-17.5M610.9 826.7v17.5M610.9 1503.5v-17.5M651.5 826.7v17.5M651.5 1503.5v-17.5M685.8 826.7v17.5M685.8 1503.5v-17.5M715.6 826.7v17.5M715.6 1503.5v-17.5M741.8 826.7v17.5M741.8 1503.5v-17.5M919.6 826.7v17.5M919.6 1503.5v-17.5M1009.9 826.7v17.5M1009.9 1503.5v-17.5M1074.0 826.7v17.5M1074.0 1503.5v-17.5M1123.6 826.7v17.5M1123.6 1503.5v-17.5M1164.2 826.7v17.5M1164.2 1503.5v-17.5M1198.6 826.7v17.5M1198.6 1503.5v-17.5M1228.3 826.7v17.5M1228.3 1503.5v-17.5M1254.5 826.7v17.5M1254.5 1503.5v-17.5M1432.4 826.7v17.5M1432.4 1503.5v-17.5M1522.6 826.7v17.5M1522.6 1503.5v-17.5M1586.7 826.7v17.5M1586.7 1503.5v-17.5M1636.4 826.7v17.5M1636.4 1503.5v-17.5M1677.0 826.7v17.5M1677.0 1503.5v-17.5M1711.3 826.7v17.5M1711.3 1503.5v-17.5M1741.1 826.7v17.5M1741.1 1503.5v-17.5M1767.3 826.7v17.5M1767.3 1503.5v-17.5M1945.1 826.7v17.5M1945.1 1503.5v-17.5M2035.4 826.7v17.5M2035.4 1503.5v-17.5M2099.5 826.7v17.5M2099.5 1503.5v-17.5M2149.1 826.7v17.5M2149.1 1503.5v-17.5M2189.7 826.7v17.5M2189.7 1503.5v-17.5M2224.1 826.7v17.5M2224.1 1503.5v-17.5M2253.8 826.7v17.5M2253.8 1503.5v-17.5M2280.0 826.7v17.5M2280.0 1503.5v-17.5M765.2 826.7v31M765.2 1503.5v-31M1278.0 826.7v31M1278.0 1503.5v-31M1790.8 826.7v31M1790.8 1503.5v-31" stroke="#000" stroke-width="4" fill="none"/>
<path d="M252.5 833h22M2303.5 833h-22M252.5 1053.9h22M2303.5 1053.9h-22M252.5 1275.4h22M2303.5 1275.4h-22M252.5 1497h22M2303.5 1497h-22" stroke="#000" stroke-width="4.5" fill="none"/>
<path d="M376.9 1480V1495M462.5 1480V1495M523.2 1480V1495M570.3 1480V1495M608.8 1480V1495M641.3 1480V1495M669.5 1480V1495M694.4 1480V1495M716.6 1466V1497M862.9 1480V1495M948.5 1480V1495M1009.2 1480V1495M1056.3 1480V1495M1094.8 1480V1495M1127.3 1480V1495M1155.5 1480V1495M1180.4 1480V1495M1202.6 1466V1497M1348.9 1480V1495M1434.5 1480V1495M1495.2 1480V1495M1542.3 1480V1495M1580.8 1480V1495M1613.3 1480V1495M1641.5 1480V1495M1666.4 1480V1495M1688.6 1466V1497M1834.9 1480V1495M1920.5 1480V1495M1981.2 1480V1495M2028.3 1480V1495M2066.8 1480V1495M2099.3 1480V1495M2127.5 1480V1495M2152.4 1480V1495M2174.6 1466V1497" stroke="#000" stroke-width="1.8" fill="none"/>
<g stroke="#000" stroke-width="1.8" fill="none">
<path d="M234 97.3V126.2M234 200.5H250.5M234 405.4H250.5M254.7 420H265.6M234 610.5H250.5M254.7 613.7H265.6M234 787V815.5H253.9M254.9 778V804.3H265.6M233.9 842.2V871.3M233.9 849.4H250.5M234 1161.3H250.5M234 1451.6V1480.3M234 1473.4H250.5M231.7 1466V1494.6M231.7 1487.7H250.5"/>
</g>
<path d="M234 126V787M234 871V1451.6" stroke="#e4e4e4" stroke-width="1.6"/>
<path d="M1561.1 426.3V1416M1688.9 429.1V1419" stroke="#000" stroke-width="7.7" stroke-dasharray="15.7 8.66"/>
<g stroke="#000" fill="none">
<path d="M1476 844H1566M1476 1409.7H1566M1645 840.8H1735M1645 1272.3H1735" stroke-width="5.6"/>
<path d="M1517.3 880V1375M1716.5 875V1240" stroke-width="5"/>
</g>
<path d="M1517.3 845.5L1531.8 894.5L1517.3 882.5L1502.8 894.5Z" fill="#000"/>
<path d="M1517.3 1407.2L1502.8 1358.2L1517.3 1370.2L1531.8 1358.2Z" fill="#000"/>
<path d="M1716.5 842.3L1731.0 891.3L1716.5 879.3L1702.0 891.3Z" fill="#000"/>
<path d="M1716.5 1270.0L1702.0 1221.0L1716.5 1233.0L1731.0 1221.0Z" fill="#000"/>
<path d="M1359.8 574.6L1525 590" stroke="#000" stroke-width="4.5"/>
<path d="M1550.0 592.4L1499.0 600.7L1512.2 588.9L1501.4 574.8Z" fill="#000"/>
<path d="M1859 555L1745 547.5" stroke="#000" stroke-width="4.5"/>
<path d="M1718.0 545.7L1768.7 536.0L1755.9 548.2L1767.0 562.0Z" fill="#000"/>
<text transform="translate(154.71 65.14) scale(0.9904 1)" style="font-family:'Liberation Serif','Times New Roman',serif;font-size:77.36px">60</text>
<text transform="translate(152.49 222.74) scale(0.9973 1)" style="font-family:'Liberation Serif','Times New Roman',serif;font-size:77.36px">40</text>
<text transform="translate(150.97 428.34) scale(0.9982 1)" style="font-family:'Liberation Serif','Times New Roman',serif;font-size:78.24px">20</text>
<text transform="translate(184.89 633.34) scale(0.9789 1)" style="font-family:'Liberation Serif','Times New Roman',serif;font-size:78.10px">0</text>
<text transform="translate(122.99 803.34) scale(0.9712 1)" style="font-family:'Liberation Serif','Times New Roman',serif;font-size:78.10px">-20</text>
<text transform="translate(153.58 895.04) scale(0.9701 1)" style="font-family:'Liberation Serif','Times New Roman',serif;font-size:77.50px">90</text>
<text transform="translate(184.77 1184.04) scale(0.9905 1)" style="font-family:'Liberation Serif','Times New Roman',serif;font-size:77.65px">0</text>
<text transform="translate(123.30 1484.14) scale(0.9708 1)" style="font-family:'Liberation Serif','Times New Roman',serif;font-size:77.80px">-90</text>
<text transform="translate(89.75 684.19) rotate(-90) scale(1.0092 1)" style="font-family:'Liberation Serif','Times New Roman',serif;font-size:75.30px">Magnitude (dB)</text>
<text transform="translate(73.90 1325.99) rotate(-90) scale(1.0054 1)" style="font-family:'Liberation Serif','Times New Roman',serif;font-size:75.52px">Phase (deg)</text>
<text transform="translate(235.53 1593.04) scale(0.9492 1)" style="font-family:'Liberation Serif','Times New Roman',serif;font-size:77.50px">10</text>
<text transform="translate(309.39 1562.90) scale(0.9133 1)" style="font-family:'Liberation Serif','Times New Roman',serif;font-size:50.59px">-1</text>
<text transform="translate(699.75 1595.04) scale(0.9481 1)" style="font-family:'Liberation Serif','Times New Roman',serif;font-size:77.36px">10</text>
<text transform="translate(772.87 1563.95) scale(1.0020 1)" style="font-family:'Liberation Serif','Times New Roman',serif;font-size:76.76px">0</text>
<text transform="translate(1229.64 1583.04) scale(0.9459 1)" style="font-family:'Liberation Serif','Times New Roman',serif;font-size:77.65px">10</text>
<text transform="translate(1305.50 1553.00) scale(0.7367 1)" style="font-family:'Liberation Serif','Times New Roman',serif;font-size:50.90px">1</text>
<text transform="translate(1743.43 1594.24) scale(0.9402 1)" style="font-family:'Liberation Serif','Times New Roman',serif;font-size:78.24px">10</text>
<text transform="translate(1814.62 1563.00) scale(1.0667 1)" style="font-family:'Liberation Serif','Times New Roman',serif;font-size:50.75px">2</text>
<text transform="translate(2219.43 1594.94) scale(0.9474 1)" style="font-family:'Liberation Serif','Times New Roman',serif;font-size:77.65px">10</text>
<text transform="translate(2292.81 1565.00) scale(0.9015 1)" style="font-family:'Liberation Serif','Times New Roman',serif;font-size:50.75px">3</text>
<text transform="translate(961.81 1655.55) scale(1.0112 1)" style="font-family:'Liberation Serif','Times New Roman',serif;font-size:75.30px" xml:space="preserve">Frequency  (Hz)</text>
<text transform="translate(1227.68 1745.69) scale(1.0030 1)" style="font-family:'Liberation Serif','Times New Roman',serif;font-size:75.21px">(a)</text>
<text transform="translate(1158.23 551.90) scale(0.9856 1)" style="font-family:'Liberation Serif','Times New Roman',serif;font-size:77.78px">36.6 Hz</text>
<text transform="translate(1866.02 581.42) scale(0.9980 1)" style="font-family:'Liberation Serif','Times New Roman',serif;font-size:76.56px">64.8 Hz</text>
<text transform="translate(1350.15 1061.14) scale(0.9799 1)" style="font-family:'Liberation Serif','Times New Roman',serif;font-size:77.80px">228</text>
<text transform="translate(1465.68 1031.10) scale(0.9934 1)" style="font-family:'Liberation Serif','Times New Roman',serif;font-size:50.83px">0</text>
<text transform="translate(1751.47 1059.70) scale(0.9599 1)" style="font-family:'Liberation Serif','Times New Roman',serif;font-size:77.41px">177.4</text>
<text transform="translate(1919.79 1030.10) scale(0.9858 1)" style="font-family:'Liberation Serif','Times New Roman',serif;font-size:50.98px">0</text>
<rect x="328.2" y="380.2" width="624.4" height="282.8" fill="none" stroke="#262626" stroke-width="4"/>
<path d="M346.5 418H416" stroke="#0072BD" stroke-width="6"/>
<path d="M346.5 487.5H416" stroke="#D95319" stroke-width="9.5" stroke-dasharray="25.5 6.5 12 7"/>
<path d="M346.5 556.5H416" stroke="#EDB120" stroke-width="6"/>
<path d="M346.5 626H416" stroke="#7E2F8E" stroke-width="6"/>
<text transform="translate(431.10 428.80) scale(1.0868 1)" style="font-family:'Liberation Serif','Times New Roman',serif;font-size:61.55px">Z</text>
<text transform="translate(463.88 441.20) scale(0.9136 1)" style="font-family:'Liberation Serif','Times New Roman',serif;font-style:italic;font-size:40.50px">dc-cl-pll</text>
<text transform="translate(603.62 428.80) scale(0.9149 1)" style="font-family:'Liberation Serif','Times New Roman',serif;font-size:61.50px">at</text>
<text transform="translate(658.65 428.80) scale(1.0596 1)" style="font-family:'Liberation Serif','Times New Roman',serif;font-style:italic;font-size:61.50px">I</text>
<text transform="translate(678.59 441.20) scale(0.9022 1)" style="font-family:'Liberation Serif','Times New Roman',serif;font-style:italic;font-size:40.50px">q</text>
<text transform="translate(694.80 428.80) scale(0.9152 1)" style="font-family:'Liberation Serif','Times New Roman',serif;font-size:61.50px">=120A</text>
<text transform="translate(424.50 511.00) scale(1.0868 1)" style="font-family:'Liberation Serif','Times New Roman',serif;font-size:61.55px">Z</text>
<text transform="translate(458.68 522.50) scale(0.9097 1)" style="font-family:'Liberation Serif','Times New Roman',serif;font-style:italic;font-size:40.50px">dcni</text>
<text transform="translate(518.19 511.00) scale(0.9183 1)" style="font-family:'Liberation Serif','Times New Roman',serif;font-size:61.50px">=0.1+0.005s</text>
<text transform="translate(423.20 570.50) scale(1.0868 1)" style="font-family:'Liberation Serif','Times New Roman',serif;font-size:61.55px">Z</text>
<text transform="translate(456.19 582.70) scale(0.9025 1)" style="font-family:'Liberation Serif','Times New Roman',serif;font-style:italic;font-size:40.50px">dc-cl-pll</text>
<text transform="translate(597.02 570.50) scale(0.9149 1)" style="font-family:'Liberation Serif','Times New Roman',serif;font-size:61.50px">at</text>
<text transform="translate(651.75 570.50) scale(1.0596 1)" style="font-family:'Liberation Serif','Times New Roman',serif;font-style:italic;font-size:61.50px">I</text>
<text transform="translate(671.79 582.70) scale(0.9022 1)" style="font-family:'Liberation Serif','Times New Roman',serif;font-style:italic;font-size:40.50px">q</text>
<text transform="translate(687.69 570.50) scale(0.9184 1)" style="font-family:'Liberation Serif','Times New Roman',serif;font-size:61.50px">=80A</text>
<text transform="translate(423.50 638.80) scale(1.0868 1)" style="font-family:'Liberation Serif','Times New Roman',serif;font-size:61.55px">Z</text>
<text transform="translate(456.19 650.00) scale(0.9025 1)" style="font-family:'Liberation Serif','Times New Roman',serif;font-style:italic;font-size:40.50px">dc-cl-pll</text>
<text transform="translate(597.02 638.80) scale(0.9149 1)" style="font-family:'Liberation Serif','Times New Roman',serif;font-size:61.50px">at</text>
<text transform="translate(651.75 638.80) scale(1.0596 1)" style="font-family:'Liberation Serif','Times New Roman',serif;font-style:italic;font-size:61.50px">I</text>
<text transform="translate(671.79 650.00) scale(0.9022 1)" style="font-family:'Liberation Serif','Times New Roman',serif;font-style:italic;font-size:40.50px">q</text>
<text transform="translate(687.69 638.80) scale(0.9184 1)" style="font-family:'Liberation Serif','Times New Roman',serif;font-size:61.50px">=40A</text>
<text transform="translate(20.74 1805.76) scale(0.8905 1)" style="font-family:'Liberation Serif',serif;font-weight:bold;font-size:47.64px" fill="#0a0a05">Tek</text>
<text transform="translate(98.52 1800.70) scale(1.0356 1)" style="font-family:'DejaVu Sans','Liberation Sans',sans-serif;stroke:#0a0a05;stroke-width:0.7px;letter-spacing:0;font-size:35.25px" fill="#0a0a05">PreVu</text>
<text transform="translate(1336.33 1800.91) scale(1.0207 1)" style="font-family:'DejaVu Sans','Liberation Sans',sans-serif;stroke:#0a0a05;stroke-width:0.7px;letter-spacing:0;font-size:34.64px" fill="#0a0a05">M 400ms</text>
<text transform="translate(68.43 2159.71) scale(1.0004 1)" style="font-family:'DejaVu Sans','Liberation Sans',sans-serif;stroke:#0a0a05;stroke-width:0.7px;letter-spacing:0;font-size:34.90px" fill="#0a0a05">Zoom Factor: 10 X</text>
<text transform="translate(525.37 2159.72) scale(1.0651 1)" style="font-family:'DejaVu Sans','Liberation Sans',sans-serif;stroke:#0a0a05;stroke-width:0.7px;letter-spacing:0;font-size:34.11px" fill="#0a0a05">Zoom Position: 1.50 s</text>
<rect x="67.5" y="1810.4" width="2240.1" height="316.9000000000001" fill="none" stroke="#1a1f1f" stroke-width="2.4"/>
<path d="M69.6 1871.0V1873.2M71.8 1871.9V1874.1M74.0 1872.9V1875.1M76.2 1870.7V1873.6M78.4 1870.0V1872.2M80.6 1871.3V1873.5M82.8 1871.8V1874.0M85.0 1871.5V1873.7M87.2 1871.4V1873.6M89.4 1871.4V1873.6M91.6 1871.4V1873.6M93.8 1871.4V1873.6M96.0 1871.4V1873.6M98.2 1871.4V1873.6M100.4 1871.4V1873.6M102.6 1871.4V1873.6M104.8 1871.4V1873.6M107.0 1871.4V1873.6M109.2 1871.4V1873.6M111.4 1871.4V1873.6M113.6 1871.4V1873.6M115.8 1871.4V1873.6M118.0 1871.4V1873.6M120.2 1871.4V1873.6M122.4 1871.4V1873.6M124.6 1871.4V1873.6M126.8 1871.4V1873.6M129.0 1871.4V1873.6M131.2 1870.9V1873.1M133.4 1871.3V1873.5M135.6 1872.8V1875.0M137.8 1871.8V1874.5M140.0 1870.3V1872.5M142.2 1870.8V1873.0M144.4 1871.6V1873.8M146.6 1871.5V1873.7M148.8 1871.4V1873.6M151.0 1871.4V1873.6M153.2 1871.4V1873.6M155.4 1871.4V1873.6M157.6 1871.4V1873.6M159.8 1871.4V1873.6M162.0 1871.4V1873.6M164.2 1871.4V1873.6M166.4 1871.4V1873.6M168.6 1871.4V1873.6M170.8 1871.4V1873.6M173.0 1871.4V1873.6M175.2 1871.4V1873.6M177.4 1871.4V1873.6M179.6 1871.4V1873.6M181.8 1871.4V1873.6M184.0 1871.4V1873.6M186.2 1871.4V1873.6M188.4 1871.5V1873.7M190.6 1871.6V1873.8M192.8 1870.9V1873.1M195.0 1870.5V1872.7M197.2 1872.0V1874.6M199.4 1872.8V1875.0M201.6 1871.1V1873.3M203.8 1870.8V1873.0M206.0 1871.4V1873.6M208.2 1871.5V1873.7M210.4 1871.4V1873.6M212.6 1871.4V1873.6M214.8 1871.4V1873.6M217.0 1871.4V1873.6M219.2 1871.4V1873.6M221.4 1871.4V1873.6M223.6 1871.4V1873.6M225.8 1871.4V1873.6M228.0 1871.4V1873.6M230.2 1871.4V1873.6M232.4 1871.4V1873.6M234.6 1871.4V1873.6M236.8 1871.4V1873.6M239.0 1871.4V1873.6M241.2 1871.4V1873.6M243.4 1871.4V1873.6M245.6 1871.4V1873.6M247.8 1871.4V1873.6M250.0 1871.5V1873.7M252.2 1871.7V1873.9M254.4 1871.2V1873.4M256.6 1870.0V1872.2M258.8 1870.9V1873.8M261.0 1873.0V1875.2M263.2 1871.8V1874.0M265.4 1870.9V1873.1M267.6 1871.3V1873.5M269.8 1871.4V1873.6M272.0 1871.4V1873.6M274.2 1871.4V1873.6M276.4 1871.4V1873.6M278.6 1871.4V1873.6M280.8 1871.4V1873.6M283.0 1871.4V1873.6M285.2 1871.4V1873.6M287.4 1871.4V1873.6M289.6 1871.4V1873.6M291.8 1871.4V1873.6M294.0 1871.4V1873.6M296.2 1871.4V1873.6M298.4 1871.4V1873.6M300.6 1871.4V1873.6M302.8 1871.4V1873.6M305.0 1871.4V1873.6M307.2 1871.4V1873.6M309.4 1871.4V1873.6M311.6 1871.4V1873.6M313.8 1871.8V1874.0M316.0 1871.8V1874.0M318.2 1870.3V1872.5M320.4 1870.3V1872.5M322.6 1872.2V1874.4M324.8 1872.2V1874.4M327.0 1871.3V1873.5M329.2 1871.3V1873.5M331.4 1871.4V1873.6M333.6 1871.4V1873.6M335.8 1871.4V1873.6M338.0 1871.4V1873.6M340.2 1871.4V1873.6M342.4 1871.4V1873.6M344.6 1871.4V1873.6M346.8 1871.4V1873.6M349.0 1871.4V1873.6M351.2 1871.4V1873.6M353.4 1871.4V1873.6M355.6 1871.4V1873.6M357.8 1871.4V1873.6M360.0 1871.4V1873.6M362.2 1871.4V1873.6M364.4 1871.4V1873.6M366.6 1871.4V1873.6M368.8 1871.4V1873.6M371.0 1871.4V1873.6M373.2 1871.2V1873.4M375.4 1871.7V1873.9M377.6 1872.5V1874.7M379.8 1870.7V1873.5M382.0 1869.7V1871.9M384.2 1871.3V1873.5M386.4 1872.1V1874.3M388.6 1871.5V1873.7M390.8 1871.3V1873.5M393.0 1871.4V1873.6M395.2 1871.4V1873.6M397.4 1871.4V1873.6M399.6 1871.4V1873.6M401.8 1871.4V1873.6M404.0 1871.4V1873.6M406.2 1871.4V1873.6M408.4 1871.4V1873.6M410.6 1871.4V1873.6M412.8 1871.4V1873.6M415.0 1871.4V1873.6M417.2 1871.4V1873.6M419.4 1871.4V1873.6M421.6 1871.4V1873.6M423.8 1871.4V1873.6M426.0 1871.4V1873.6M428.2 1871.4V1873.6M430.4 1871.4V1873.6M432.6 1871.4V1873.6M434.8 1871.1V1873.3M437.0 1871.4V1873.6M439.2 1872.5V1874.7M441.4 1871.8V1874.3M443.6 1870.1V1872.3M445.8 1870.7V1872.9M448.0 1871.9V1874.1M450.2 1871.6V1873.8M452.4 1871.4V1873.6M454.6 1871.4V1873.6M456.8 1871.4V1873.6M459.0 1871.4V1873.6M461.2 1871.4V1873.6M463.4 1871.4V1873.6M465.6 1871.4V1873.6M467.8 1871.4V1873.6M470.0 1871.4V1873.6M472.2 1871.4V1873.6M474.4 1871.4V1873.6M476.6 1871.4V1873.6M478.8 1871.4V1873.6M481.0 1871.4V1873.6M483.2 1871.4V1873.6M485.4 1871.4V1873.6M487.6 1871.4V1873.6M489.8 1871.4V1873.6M492.0 1871.4V1873.6M494.2 1871.5V1873.7M496.4 1871.1V1873.3M498.6 1870.7V1872.9M500.8 1872.1V1874.5M503.0 1872.8V1875.0M505.2 1871.0V1873.2M507.4 1870.5V1872.7M509.6 1871.4V1873.6M511.8 1871.6V1873.8M514.0 1871.4V1873.6M516.2 1871.4V1873.6M518.4 1871.4V1873.6M520.6 1871.4V1873.6M522.8 1871.4V1873.6M525.0 1871.4V1873.6M527.2 1871.4V1873.6M529.4 1871.4V1873.6M531.6 1871.4V1873.6M533.8 1871.4V1873.6M536.0 1871.4V1873.6M538.2 1871.4V1873.6M540.4 1871.4V1873.6M542.6 1871.4V1873.6M544.8 1871.4V1873.6M547.0 1871.4V1873.6M549.2 1871.4V1873.6M551.4 1871.4V1873.6M553.6 1871.4V1873.6M555.8 1871.5V1873.7M558.0 1871.2V1873.4M560.2 1870.4V1872.6M562.4 1871.2V1873.8M564.6 1873.1V1875.3M566.8 1871.7V1874.2M569.0 1870.6V1872.8M571.2 1871.2V1873.4M573.4 1871.5V1873.7M575.6 1871.4V1873.6M577.8 1871.4V1873.6M580.0 1871.4V1873.6M582.2 1871.4V1873.6M584.4 1871.4V1873.6M586.6 1871.4V1873.6M588.8 1871.4V1873.6M591.0 1871.4V1873.6M593.2 1871.4V1873.6M595.4 1871.4V1873.6M597.6 1871.4V1873.6M599.8 1871.4V1873.6M602.0 1871.4V1873.6M604.2 1871.4V1873.6M606.4 1871.4V1873.6M608.6 1871.4V1873.6M610.8 1871.4V1873.6M613.0 1871.4V1873.6M615.2 1871.4V1873.6M617.4 1871.6V1873.8M619.6 1871.6V1873.8M621.8 1870.5V1872.7M624.0 1870.5V1872.7M626.2 1872.4V1874.6M628.4 1872.4V1874.6M630.6 1871.1V1873.3M632.8 1871.1V1873.3M635.0 1871.4V1873.6M637.2 1871.4V1873.6M639.4 1871.4V1873.6M641.6 1871.4V1873.6M643.8 1871.4V1873.6M646.0 1871.4V1873.6M648.2 1871.4V1873.6M650.4 1871.4V1873.6M652.6 1871.4V1873.6M654.8 1871.5V1873.7M657.0 1871.3V1873.5M659.2 1871.2V1873.4M661.4 1871.5V1873.7M663.6 1871.6V1873.8M665.8 1871.3V1873.5M668.0 1871.1V1873.3M670.2 1871.5V1873.7M672.4 1871.9V1874.1M674.6 1871.2V1873.4M676.8 1870.8V1873.0M679.0 1871.6V1873.8M681.2 1872.2V1874.4M683.4 1870.9V1873.2M685.6 1869.7V1871.9M687.8 1871.2V1873.9M690.0 1872.5V1874.7M692.2 1871.3V1873.5M694.4 1870.3V1872.5M696.6 1871.5V1873.7M698.8 1872.7V1874.9M701.0 1871.4V1873.6M703.2 1870.1V1872.3M705.4 1871.3V1873.6M707.6 1872.7V1874.9M709.8 1871.4V1873.8M712.0 1870.0V1872.2M714.2 1871.2V1873.5M716.4 1872.8V1875.0M718.6 1871.5V1873.9M720.8 1870.0V1872.2M723.0 1871.0V1873.4M725.2 1872.8V1875.0M727.4 1871.6V1874.1M729.6 1870.0V1872.2M731.8 1870.8V1873.3M734.0 1872.7V1874.9M736.2 1871.8V1874.2M738.4 1870.1V1872.3M740.6 1870.7V1873.2M742.8 1872.7V1874.9M745.0 1871.9V1874.3M747.2 1870.1V1872.3M749.4 1870.7V1873.0M751.6 1872.6V1874.8M753.8 1872.1V1874.4M756.0 1870.2V1872.4M758.2 1870.6V1872.8M760.4 1872.5V1874.7M762.6 1872.2V1874.4M764.8 1870.3V1872.5M767.0 1870.5V1872.7M769.2 1872.5V1874.7M771.4 1872.3V1874.5M773.6 1870.4V1872.6M775.8 1870.4V1872.6M778.0 1872.4V1874.6M780.2 1872.5V1874.7M782.4 1870.4V1872.6M784.6 1870.3V1872.5M786.8 1872.3V1874.6M789.0 1872.6V1874.8M791.2 1870.3V1872.8M793.4 1870.1V1872.3M795.6 1872.1V1874.7M797.8 1872.8V1875.0M800.0 1870.2V1873.0M802.2 1869.9V1872.1M804.4 1871.8V1874.9M806.6 1873.1V1875.3M808.8 1870.0V1873.3M811.0 1869.6V1871.8M813.2 1871.5V1875.1M815.4 1873.4V1875.6M817.6 1869.9V1873.7M819.8 1869.3V1871.5M822.0 1871.2V1875.2M824.2 1873.7V1875.9M826.4 1869.7V1874.0M828.6 1868.9V1871.1M830.8 1870.8V1875.3M833.0 1874.1V1876.3M835.2 1869.6V1874.5M837.4 1868.5V1870.7M839.6 1870.3V1875.4M841.8 1874.5V1876.7M844.0 1869.6V1874.9M846.2 1868.1V1870.3M848.4 1869.9V1875.4M850.6 1874.8V1877.0M852.8 1869.6V1875.4M855.0 1867.9V1870.1M857.2 1869.4V1875.3M859.4 1874.9V1877.1M861.6 1869.8V1875.8M863.8 1867.9V1870.1M866.0 1869.0V1875.1M868.2 1874.9V1877.1M870.4 1870.0V1876.2M872.6 1867.9V1870.1M874.8 1868.7V1874.8M877.0 1874.8V1877.0M879.2 1870.4V1876.5M881.4 1867.9V1870.4M883.6 1868.4V1874.5M885.8 1874.5V1877.0M888.0 1870.7V1876.7M890.2 1868.0V1870.7M892.4 1868.3V1874.1M894.6 1874.1V1877.0M896.8 1871.1V1876.8M899.0 1868.0V1871.1M901.2 1868.2V1873.7M903.4 1873.7V1877.0M905.6 1871.5V1876.9M907.8 1868.0V1871.5M910.0 1868.1V1873.3M912.2 1873.3V1877.0M914.4 1871.9V1877.0M916.6 1868.0V1871.9M918.8 1868.0V1872.8M921.0 1872.8V1877.0M923.2 1872.4V1877.0M925.4 1868.0V1872.4M927.6 1868.0V1872.4M929.8 1872.4V1877.0M932.0 1872.8V1877.0M934.2 1867.9V1872.8M936.4 1867.9V1872.0M938.6 1872.0V1877.1M940.8 1873.2V1877.1M943.0 1867.9V1873.2M945.2 1867.8V1871.6M947.4 1871.6V1877.2M949.6 1873.7V1877.3M951.8 1867.7V1873.7M954.0 1867.6V1871.1M956.2 1871.1V1877.4M958.4 1874.2V1877.6M960.6 1867.5V1874.2M962.8 1867.2V1870.5M965.0 1870.5V1877.6M967.2 1874.8V1878.0M969.4 1867.3V1874.8M971.6 1866.7V1869.8M973.8 1869.8V1877.8M976.0 1875.6V1878.6M978.2 1867.0V1875.6M980.4 1866.1V1869.0M982.6 1869.0V1878.1M984.8 1876.4V1879.2M987.0 1866.8V1876.4M989.2 1865.4V1868.1M991.4 1868.1V1878.3M993.6 1877.4V1880.0M995.8 1866.7V1877.4M998.0 1864.7V1867.1M1000.2 1867.1V1878.3M1002.4 1878.3V1880.7M1004.6 1866.7V1878.4M1006.8 1863.9V1866.7M1009.0 1866.1V1878.2M1011.2 1878.2V1881.4M1013.4 1866.9V1879.4M1015.6 1863.3V1866.9M1017.8 1865.1V1878.0M1020.0 1878.0V1882.0M1022.2 1867.3V1880.4M1024.4 1862.8V1867.3M1026.6 1864.2V1877.5M1028.8 1877.5V1882.5M1031.0 1867.8V1881.2M1033.2 1862.3V1867.8M1035.4 1863.3V1876.9M1037.6 1876.9V1882.9M1039.8 1868.5V1882.1M1042.0 1861.9V1868.5M1044.2 1862.6V1876.1M1046.4 1876.1V1883.2M1048.6 1869.3V1882.7M1050.8 1861.7V1869.3M1053.0 1862.1V1875.2M1055.2 1875.2V1883.3M1057.4 1870.3V1883.1M1059.6 1861.7V1870.3M1061.8 1861.8V1874.2M1064.0 1874.2V1883.2M1066.2 1871.3V1883.2M1068.4 1861.8V1871.3M1070.6 1861.8V1873.3M1072.8 1873.3V1883.1M1075.0 1872.2V1883.1M1077.2 1861.9V1872.2M1079.4 1861.9V1872.3M1081.6 1872.3V1882.9M1083.8 1873.2V1882.9M1086.0 1862.2V1873.2M1088.2 1862.2V1871.3M1090.4 1871.3V1882.7M1092.6 1874.1V1882.7M1094.8 1862.4V1874.1M1097.0 1862.3V1870.4M1099.2 1870.4V1882.5M1101.4 1875.0V1882.7M1103.6 1862.6V1875.0M1105.8 1862.2V1869.5M1108.0 1869.5V1882.4M1110.2 1876.0V1882.9M1112.4 1862.7V1876.0M1114.6 1862.0V1868.5M1116.8 1868.5V1882.4M1119.0 1877.1V1883.2M1121.2 1862.6V1877.1M1123.4 1861.4V1867.3M1125.6 1867.3V1882.5M1127.8 1878.3V1883.9M1130.0 1862.4V1878.3M1132.2 1860.7V1866.0M1134.4 1866.0V1882.7M1136.6 1879.7V1884.8M1138.8 1862.2V1879.7M1141.0 1859.7V1864.5M1143.2 1864.5V1882.9M1145.4 1881.4V1886.0M1147.6 1861.9V1881.4M1149.8 1858.0V1862.4M1152.0 1862.4V1883.5M1154.2 1883.5V1888.1M1156.4 1861.3V1883.9M1158.6 1855.7V1861.3M1160.8 1859.7V1883.9M1163.0 1883.9V1890.4M1165.2 1861.0V1886.7M1167.4 1853.4V1861.0M1169.6 1856.8V1884.0M1171.8 1884.0V1892.9M1174.0 1861.1V1889.7M1176.2 1850.9V1861.1M1178.4 1853.8V1883.6M1180.6 1883.6V1895.3M1182.8 1861.8V1892.7M1185.0 1848.7V1861.8M1187.2 1850.9V1882.7M1189.4 1882.7V1897.2M1191.6 1863.1V1895.4M1193.8 1847.3V1863.1M1196.0 1848.8V1881.0M1198.2 1881.0V1898.1M1200.4 1865.1V1896.9M1202.6 1846.6V1865.1M1204.8 1847.5V1878.8M1207.0 1878.8V1898.5M1209.2 1867.3V1897.9M1211.4 1846.6V1867.3M1213.6 1846.9V1876.5M1215.8 1876.5V1898.2M1218.0 1869.7V1898.2M1220.2 1846.9V1869.7M1222.4 1846.9V1874.1M1224.6 1874.1V1897.9M1226.8 1872.1V1897.9M1229.0 1847.4V1872.1M1231.2 1847.4V1871.8M1233.4 1871.8V1897.1M1235.6 1874.3V1897.1M1237.8 1848.6V1874.3M1240.0 1848.6V1869.7M1242.2 1869.7V1895.6M1244.4 1876.3V1895.6M1246.6 1850.3V1876.3M1248.8 1850.0V1867.8M1251.0 1867.8V1893.9M1253.2 1878.0V1894.4M1255.4 1851.9V1878.0M1257.6 1851.2V1866.2M1259.8 1866.2V1892.3M1262.0 1879.6V1893.3M1264.2 1853.4V1879.6M1266.4 1852.2V1864.7M1268.6 1864.7V1891.0M1270.8 1881.1V1892.6M1273.0 1854.6V1881.1M1275.2 1852.5V1863.2M1277.4 1863.2V1889.9M1279.6 1882.6V1892.5M1281.8 1855.5V1882.6M1284.0 1852.5V1861.5M1286.2 1861.5V1889.2M1288.4 1884.3V1892.6M1290.6 1856.2V1884.3M1292.8 1852.1V1859.7M1295.0 1859.7V1888.6M1297.2 1886.3V1893.4M1299.4 1856.7V1886.3M1301.6 1851.0V1857.6M1303.8 1857.6V1888.0M1306.0 1888.0V1894.6M1308.2 1857.3V1888.5M1310.4 1849.8V1857.3M1312.6 1855.3V1887.4M1314.8 1887.4V1895.8M1317.0 1858.0V1890.9M1319.2 1848.5V1858.0M1321.4 1852.9V1886.5M1323.6 1886.5V1897.3M1325.8 1859.1V1893.4M1328.0 1846.9V1859.1M1330.2 1850.4V1885.3M1332.4 1885.3V1898.7M1334.6 1860.5V1895.7M1336.8 1845.7V1860.5M1339.0 1848.2V1883.6M1341.2 1883.6V1899.7M1343.4 1862.3V1897.8M1345.6 1844.8V1862.3M1347.8 1846.4V1881.6M1350.0 1881.6V1900.6M1352.2 1864.5V1899.4M1354.4 1844.1V1864.5M1356.6 1845.1V1879.2M1358.8 1879.2V1901.0M1361.0 1867.0V1900.3M1363.2 1844.1V1867.0M1365.4 1844.4V1876.7M1367.6 1876.7V1900.6M1369.8 1869.6V1900.6M1372.0 1844.5V1869.6M1374.2 1844.5V1874.1M1376.4 1874.1V1900.2M1378.6 1872.2V1900.2M1380.8 1845.3V1872.2M1383.0 1845.3V1871.6M1385.2 1871.6V1899.2M1387.4 1874.6V1899.2M1389.6 1846.6V1874.6M1391.8 1846.6V1869.2M1394.0 1869.2V1897.6M1396.2 1876.8V1897.7M1398.4 1848.3V1876.8M1400.6 1847.9V1867.2M1402.8 1867.2V1895.8M1405.0 1878.7V1896.4M1407.2 1850.2V1878.7M1409.4 1849.3V1865.5M1411.6 1865.5V1893.9M1413.8 1880.3V1895.0M1416.0 1852.1V1880.3M1418.2 1850.7V1864.0M1420.4 1864.0V1892.0M1422.6 1881.6V1893.7M1424.8 1853.9V1881.6M1427.0 1851.7V1862.7M1429.2 1862.7V1890.3M1431.4 1882.9V1892.9M1433.6 1855.4V1882.9M1435.8 1852.4V1861.4M1438.0 1861.4V1888.9M1440.2 1884.3V1892.4M1442.4 1856.6V1884.3M1444.6 1852.7V1860.0M1446.8 1860.0V1887.8M1449.0 1885.8V1892.5M1451.2 1857.7V1885.8M1453.4 1852.3V1858.4M1455.6 1858.4V1886.9M1457.8 1886.9V1893.0M1460.0 1858.5V1887.5M1462.2 1851.6V1858.5M1464.4 1856.5V1886.1M1466.6 1886.1V1893.8M1468.8 1859.4V1889.5M1471.0 1850.5V1859.4M1473.2 1854.4V1885.2M1475.4 1885.2V1895.2M1477.6 1860.3V1891.7M1479.8 1849.1V1860.3M1482.0 1852.2V1884.1M1484.2 1884.1V1896.6M1486.4 1861.5V1894.0M1488.6 1847.7V1861.5M1490.8 1849.9V1882.7M1493.0 1882.7V1897.9M1495.2 1863.1V1896.2M1497.4 1846.3V1863.1M1499.6 1847.7V1881.0M1501.8 1881.0V1899.3M1504.0 1865.0V1898.2M1506.2 1845.1V1865.0M1508.4 1846.0V1878.9M1510.6 1878.9V1900.3M1512.8 1867.3V1899.8M1515.0 1844.5V1867.3M1517.2 1844.7V1876.5M1519.4 1876.5V1900.7M1521.6 1869.8V1900.7M1523.8 1844.1V1869.8M1526.0 1844.1V1873.9M1528.2 1873.9V1901.0M1530.4 1872.4V1901.0M1532.6 1844.2V1872.4M1534.8 1844.2V1871.3M1537.0 1871.3V1900.5M1539.2 1875.0V1900.5M1541.4 1845.0V1875.0M1543.6 1845.0V1868.8M1545.8 1868.8V1899.4M1548.0 1877.3V1899.6M1550.2 1846.3V1877.3M1552.4 1845.9V1866.6M1554.6 1866.6V1897.8M1556.8 1879.4V1898.5M1559.0 1848.2V1879.4M1561.2 1847.2V1864.7M1563.4 1864.7V1895.8M1565.6 1881.1V1897.1M1567.8 1850.3V1881.1M1570.0 1848.8V1863.1M1572.2 1863.1V1893.7M1574.4 1882.6V1895.6M1576.6 1852.4V1882.6M1578.8 1850.0V1861.8M1581.0 1861.8V1891.5M1583.2 1883.7V1894.4M1585.4 1854.5V1883.7M1587.6 1851.2V1860.7M1589.8 1860.7V1889.6M1592.0 1884.8V1893.2M1594.2 1856.3V1884.8M1596.4 1852.2V1859.7M1598.6 1859.7V1887.9M1600.8 1885.9V1892.6M1603.0 1857.9V1885.9M1605.2 1852.5V1858.5M1607.4 1858.5V1886.4M1609.6 1886.4V1892.4M1611.8 1859.2V1887.1M1614.0 1852.5V1859.2M1616.2 1857.2V1885.2M1618.4 1885.2V1892.6M1620.6 1860.3V1888.5M1622.8 1852.0V1860.3M1625.0 1855.6V1884.1M1627.2 1884.1V1893.5M1629.4 1861.4V1890.3M1631.6 1851.0V1861.4M1633.8 1853.8V1883.0M1636.0 1883.0V1894.6M1638.2 1862.6V1892.2M1640.4 1849.8V1862.6M1642.6 1851.7V1881.7M1644.8 1881.7V1895.8M1647.0 1864.0V1894.3M1649.2 1848.4V1864.0M1651.4 1849.6V1880.2M1653.6 1880.2V1897.4M1655.8 1865.7V1896.4M1658.0 1846.9V1865.7M1660.2 1847.6V1878.3M1662.4 1878.3V1898.7M1664.6 1867.7V1898.3M1666.8 1845.8V1867.7M1669.0 1845.9V1876.1M1671.2 1876.1V1899.8M1673.4 1870.1V1899.8M1675.6 1844.7V1870.1M1677.8 1844.7V1873.7M1680.0 1873.7V1900.7M1682.2 1872.6V1900.7M1684.4 1844.1V1872.6M1686.6 1844.1V1871.1M1688.8 1871.1V1900.9M1691.0 1875.2V1900.9M1693.2 1844.2V1875.2M1695.4 1844.2V1868.5M1697.6 1868.5V1900.5M1699.8 1877.7V1900.7M1702.0 1845.0V1877.7M1704.2 1844.5V1866.1M1706.4 1866.1V1899.3M1708.6 1880.0V1900.2M1710.8 1846.5V1880.0M1713.0 1845.3V1863.9M1715.2 1863.9V1897.6M1717.4 1882.0V1899.0M1719.6 1848.4V1882.0M1721.8 1846.7V1862.1M1724.0 1862.1V1895.5M1726.2 1883.6V1897.7M1728.4 1850.6V1883.6M1730.6 1847.9V1860.7M1732.8 1860.7V1893.2M1735.0 1884.9V1896.4M1737.2 1853.0V1884.9M1739.4 1849.4V1859.6M1741.6 1859.6V1890.9M1743.8 1885.9V1894.9M1746.0 1855.2V1885.9M1748.2 1850.8V1858.7M1750.4 1858.7V1888.7M1752.6 1886.7V1893.7M1754.8 1857.3V1886.7M1757.0 1851.7V1857.9M1759.2 1857.9V1886.7M1761.4 1886.7V1892.9M1763.6 1859.2V1887.5M1765.8 1852.4V1859.2M1768.0 1857.1V1885.0M1770.2 1885.0V1892.3M1772.4 1860.8V1888.4M1774.6 1852.6V1860.8M1776.8 1856.1V1883.5M1779.0 1883.5V1892.5M1781.2 1862.2V1889.5M1783.4 1852.2V1862.2M1785.6 1854.8V1882.2M1787.8 1882.2V1893.1M1790.0 1863.5V1890.9M1792.2 1851.6V1863.5M1794.4 1853.3V1880.8M1796.6 1880.8V1893.9M1798.8 1864.9V1892.6M1801.0 1850.4V1864.9M1803.2 1851.5V1879.4M1805.4 1879.4V1895.3M1807.6 1866.4V1894.4M1809.8 1849.0V1866.4M1812.0 1849.6V1877.7M1814.2 1877.7V1896.7M1816.4 1868.3V1896.3M1818.6 1847.7V1868.3M1820.8 1847.8V1875.7M1823.0 1875.7V1898.0M1825.2 1870.4V1898.0M1827.4 1846.2V1870.4M1829.6 1846.2V1873.4M1831.8 1873.4V1899.4M1834.0 1872.8V1899.4M1836.2 1845.1V1872.8M1838.4 1845.1V1870.9M1840.6 1870.9V1900.3M1842.8 1875.4V1900.3M1845.0 1844.5V1875.4M1847.2 1844.5V1868.3M1849.4 1868.3V1900.5M1851.6 1878.0V1900.8M1853.8 1844.7V1878.0M1856.0 1844.0V1865.7M1858.2 1865.7V1900.0M1860.4 1880.5V1901.0M1862.6 1845.5V1880.5M1864.8 1844.2V1863.3M1867.0 1863.3V1898.8M1869.2 1882.8V1900.4M1871.4 1847.0V1882.8M1873.6 1845.1V1861.2M1875.8 1861.2V1897.1M1878.0 1884.7V1899.6M1880.2 1849.0V1884.7M1882.4 1845.9V1859.5M1884.6 1859.5V1894.9M1886.8 1886.2V1898.5M1889.0 1851.3V1886.2M1891.2 1847.3V1858.2M1893.4 1858.2V1892.5M1895.6 1887.3V1896.9M1897.8 1853.7V1887.3M1900.0 1848.8V1857.3M1902.2 1857.3V1890.0M1904.4 1888.0V1895.6M1906.6 1856.2V1888.0M1908.8 1850.1V1856.7M1911.0 1856.7V1887.6M1913.2 1887.6V1894.3M1915.4 1858.5V1888.5M1917.6 1851.3V1858.5M1919.8 1856.2V1885.5M1922.0 1885.5V1893.1M1924.2 1860.5V1889.0M1926.4 1852.2V1860.5M1928.6 1855.7V1883.5M1930.8 1883.5V1892.6M1933.0 1862.4V1889.6M1935.2 1852.5V1862.4M1937.4 1855.1V1881.8M1939.6 1881.8V1892.4M1941.8 1864.0V1890.4M1944.0 1852.6V1864.0M1946.2 1854.1V1880.2M1948.4 1880.2V1892.7M1950.6 1865.5V1891.4M1952.8 1851.9V1865.5M1955.0 1852.9V1878.7M1957.2 1878.7V1893.5M1959.4 1867.1V1892.8M1961.6 1850.9V1867.1M1963.8 1851.5V1877.1M1966.0 1877.1V1894.6M1968.2 1868.8V1894.3M1970.4 1849.8V1868.8M1972.6 1849.9V1875.3M1974.8 1875.3V1896.0M1977.0 1870.7V1896.0M1979.2 1848.3V1870.7M1981.4 1848.3V1873.2M1983.6 1873.2V1897.5M1985.8 1872.9V1897.5M1988.0 1846.8V1872.9M1990.2 1846.8V1870.9M1992.4 1870.9V1898.7M1994.6 1875.4V1898.7M1996.8 1845.8V1875.4M1999.0 1845.7V1868.3M2001.2 1868.3V1899.5M2003.4 1878.0V1899.9M2005.6 1845.3V1878.0M2007.8 1844.6V1865.7M2010.0 1865.7V1899.7M2012.2 1880.6V1900.7M2014.4 1845.5V1880.6M2016.6 1844.1V1863.1M2018.8 1863.1V1899.2M2021.0 1883.2V1900.8M2023.2 1846.3V1883.2M2025.4 1844.2V1860.7M2027.6 1860.7V1898.0M2029.8 1885.4V1900.7M2032.0 1847.8V1885.4M2034.2 1844.5V1858.6M2036.4 1858.6V1896.2M2038.6 1887.2V1900.1M2040.8 1849.8V1887.2M2043.0 1845.4V1857.0M2045.2 1857.0V1894.0M2047.4 1888.6V1898.9M2049.6 1852.2V1888.6M2051.8 1846.7V1855.8M2054.0 1855.8V1891.5M2056.2 1889.6V1897.7M2058.4 1854.8V1889.6M2060.6 1848.0V1855.1M2062.8 1855.1V1888.9M2065.0 1888.9V1896.3M2067.2 1857.4V1890.1M2069.4 1849.5V1857.4M2071.6 1854.7V1886.4M2073.8 1886.4V1894.7M2076.0 1859.8V1890.4M2078.2 1850.8V1859.8M2080.4 1854.5V1884.0M2082.6 1884.0V1893.7M2084.8 1862.0V1890.6M2087.0 1851.7V1862.0M2089.2 1854.4V1881.9M2091.4 1881.9V1892.9M2093.6 1864.0V1890.8M2095.8 1852.5V1864.0M2098.0 1854.1V1880.1M2100.2 1880.1V1892.4M2102.4 1865.8V1891.2M2104.6 1852.6V1865.8M2106.8 1853.5V1878.3M2109.0 1878.3V1892.6M2111.2 1867.5V1891.8M2113.4 1852.2V1867.5M2115.6 1852.7V1876.6M2117.8 1876.6V1893.0M2120.0 1869.2V1892.8M2122.2 1851.6V1869.2M2124.4 1851.6V1874.9M2126.6 1874.9V1894.0M2128.8 1871.0V1894.0M2131.0 1850.3V1871.0M2133.2 1850.3V1873.0M2135.4 1873.0V1895.4M2137.6 1873.1V1895.4M2139.8 1849.0V1873.1M2142.0 1849.0V1870.8M2144.2 1870.8V1896.7M2146.4 1875.4V1896.7M2148.6 1847.8V1875.4M2150.8 1847.6V1868.4M2153.0 1868.4V1897.7M2155.2 1877.9V1898.2M2157.4 1846.9V1877.9M2159.6 1846.1V1865.8M2161.8 1865.8V1898.4M2164.0 1880.5V1899.5M2166.2 1846.5V1880.5M2168.4 1845.1V1863.2M2170.6 1863.2V1898.5M2172.8 1883.2V1900.2M2175.0 1846.7V1883.2M2177.2 1844.4V1860.5M2179.4 1860.5V1898.0M2181.6 1885.7V1900.9M2183.8 1847.6V1885.7M2186.0 1844.0V1858.1M2188.2 1858.1V1896.8M2190.4 1887.9V1900.9M2192.6 1849.1V1887.9M2194.8 1844.3V1856.1M2197.0 1856.1V1895.0M2199.2 1889.7V1900.3M2201.4 1851.1V1889.7M2203.6 1845.0V1854.6M2205.8 1854.6V1892.7M2208.0 1891.0V1899.6M2210.2 1853.5V1891.0M2212.4 1846.0V1853.5M2214.6 1853.5V1890.2M2216.8 1890.2V1898.4M2219.0 1856.1V1891.8M2221.2 1847.4V1856.1M2223.4 1853.0V1887.5M2225.6 1887.5V1896.8M2227.8 1858.8V1892.2M2230.0 1848.8V1858.8M2232.2 1852.8V1884.9M2234.4 1884.9V1895.6M2236.6 1861.3V1892.2M2238.8 1850.1V1861.3M2241.0 1852.9V1882.5M2243.2 1882.5V1894.2M2245.4 1863.7V1892.0M2247.6 1851.4V1863.7M2249.8 1853.1V1880.3M2252.0 1880.3V1893.1M2254.2 1865.8V1891.9M2256.4 1852.2V1865.8M2258.6 1853.1V1878.2M2260.8 1878.2V1892.6M2263.0 1867.7V1891.9M2265.2 1852.5V1867.7M2267.4 1853.0V1876.4M2269.6 1876.4V1892.4M2271.8 1869.5V1892.2M2274.0 1852.6V1869.5M2276.2 1852.6V1874.6M2278.4 1874.6V1892.7M2280.6 1871.3V1892.7M2282.8 1851.9V1871.3M2285.0 1851.9V1872.8M2287.2 1872.8V1893.6M2289.4 1873.2V1893.6M2291.6 1850.9V1873.2M2293.8 1850.9V1870.8M2296.0 1870.8V1894.6M2298.2 1875.3V1894.6M2300.4 1849.9V1875.3M2302.6 1849.7V1868.6M2304.8 1868.6V1895.6" stroke="#0000ff" stroke-width="2.2" fill="none"/>
<path d="M69.6 1960.9V1965.6M71.8 1959.6V1961.8M74.0 1961.7V1965.0M76.2 1960.7V1964.7M78.4 1960.6V1962.8M80.6 1962.2V1964.4M82.8 1961.4V1963.6M85.0 1961.2V1963.4M87.2 1961.6V1963.8M89.4 1961.4V1963.6M91.6 1961.4V1963.6M93.8 1961.4V1963.6M96.0 1961.3V1963.5M98.2 1961.6V1963.8M100.4 1961.3V1963.5M102.6 1960.9V1963.1M104.8 1962.1V1964.3M107.0 1960.5V1963.7M109.2 1960.5V1963.7M111.4 1963.2V1965.4M113.6 1959.6V1963.5M115.8 1959.7V1965.2M118.0 1962.0V1965.6M120.2 1959.3V1962.0M122.4 1960.4V1965.5M124.6 1960.8V1965.5M126.8 1959.8V1962.0M129.0 1962.0V1964.6M131.2 1961.0V1964.3M133.4 1960.8V1963.0M135.6 1962.1V1964.3M137.8 1961.4V1963.6M140.0 1961.2V1963.4M142.2 1961.5V1963.7M144.4 1961.4V1963.6M146.6 1961.4V1963.6M148.8 1961.4V1963.6M151.0 1961.2V1963.4M153.2 1961.7V1963.9M155.4 1961.3V1963.5M157.6 1960.9V1963.1M159.8 1962.4V1964.6M162.0 1960.2V1963.9M164.2 1960.2V1964.1M166.4 1963.2V1965.4M168.6 1959.4V1963.3M170.8 1959.7V1965.4M173.0 1961.7V1965.7M175.2 1959.4V1961.7M177.4 1960.8V1965.3M179.6 1960.8V1965.3M181.8 1960.1V1962.3M184.0 1962.2V1964.4M186.2 1961.3V1963.9M188.4 1961.0V1963.2M190.6 1961.9V1964.1M192.8 1961.4V1963.6M195.0 1961.3V1963.5M197.2 1961.4V1963.6M199.4 1961.4V1963.6M201.6 1961.5V1963.7M203.8 1961.4V1963.6M206.0 1961.0V1963.2M208.2 1961.8V1964.0M210.4 1961.2V1963.5M212.6 1960.8V1963.0M214.8 1962.7V1964.9M217.0 1959.8V1963.9M219.2 1959.8V1964.4M221.4 1963.0V1965.5M223.6 1959.4V1963.0M225.8 1959.8V1965.5M228.0 1961.4V1965.7M230.2 1959.4V1961.6M232.4 1961.1V1965.0M234.6 1960.9V1965.0M236.8 1960.4V1962.6M239.0 1962.1V1964.3M241.2 1961.5V1963.7M243.4 1961.1V1963.3M245.6 1961.7V1963.9M247.8 1961.4V1963.6M250.0 1961.4V1963.6M252.2 1961.4V1963.6M254.4 1961.3V1963.5M256.6 1961.5V1963.7M258.8 1961.4V1963.6M261.0 1960.9V1963.1M263.2 1962.0V1964.2M265.4 1960.8V1963.8M267.6 1960.5V1963.2M269.8 1963.0V1965.2M272.0 1959.6V1963.9M274.2 1959.6V1964.8M276.4 1962.7V1965.6M278.6 1959.3V1962.7M280.8 1960.0V1965.5M283.0 1961.2V1965.5M285.2 1959.6V1961.8M287.4 1961.5V1964.7M289.6 1961.0V1964.6M291.8 1960.6V1962.8M294.0 1962.0V1964.2M296.2 1961.4V1963.6M298.4 1961.2V1963.4M300.6 1961.5V1963.7M302.8 1961.4V1963.6M305.0 1961.4V1963.6M307.2 1961.4V1963.6M309.4 1961.2V1963.4M311.6 1961.6V1963.8M313.8 1961.4V1963.6M316.0 1960.7V1962.9M318.2 1962.2V1964.4M320.4 1960.3V1964.0M322.6 1960.2V1963.5M324.8 1963.3V1965.5M327.0 1959.5V1963.8M329.2 1959.5V1965.1M331.4 1962.3V1965.7M333.6 1959.4V1962.3M335.8 1960.2V1965.3M338.0 1961.1V1965.3M340.2 1959.9V1962.1M342.4 1961.8V1964.4M344.6 1961.3V1964.2M346.8 1960.9V1963.1M349.0 1961.9V1964.1M351.2 1961.4V1963.6M353.4 1961.3V1963.5M355.6 1961.4V1963.6M357.8 1961.4V1963.6M360.0 1961.5V1963.7M362.2 1961.4V1963.6M364.4 1961.1V1963.3M366.6 1961.7V1963.9M368.8 1961.4V1963.6M371.0 1960.6V1962.8M373.2 1962.4V1964.6M375.4 1960.0V1964.2M377.6 1959.9V1963.9M379.8 1963.4V1965.6M382.0 1959.3V1963.6M384.2 1959.5V1965.2M386.4 1962.0V1965.6M388.6 1959.6V1962.0M390.8 1960.6V1965.1M393.0 1961.1V1965.1M395.2 1960.2V1962.4M397.4 1962.0V1964.2M399.6 1961.6V1963.8M401.8 1961.0V1963.2M404.0 1961.7V1963.9M406.2 1961.4V1963.6M408.4 1961.3V1963.5M410.6 1961.4V1963.6M412.8 1961.4V1963.6M415.0 1961.5V1963.7M417.2 1961.4V1963.6M419.4 1960.9V1963.1M421.6 1961.9V1964.1M423.8 1961.0V1963.8M426.0 1960.6V1962.8M428.2 1962.7V1964.9M430.4 1959.7V1964.3M432.6 1959.7V1964.3M434.8 1963.3V1965.6M437.0 1959.3V1963.3M439.2 1959.6V1965.3M441.4 1961.8V1965.6M443.6 1959.7V1961.9M445.8 1961.0V1964.8M448.0 1961.2V1964.8M450.2 1960.5V1962.7M452.4 1961.9V1964.1M454.6 1961.5V1963.7M456.8 1961.1V1963.3M459.0 1961.6V1963.8M461.2 1961.4V1963.6M463.4 1961.4V1963.6M465.6 1961.4V1963.6M467.8 1961.3V1963.5M470.0 1961.6V1963.8M472.2 1961.5V1963.7M474.4 1960.6V1962.8M476.6 1962.0V1964.2M478.8 1960.6V1964.1M481.0 1960.3V1963.0M483.2 1963.0V1965.2M485.4 1959.5V1964.2M487.6 1959.5V1964.6M489.8 1963.0V1965.7M492.0 1959.4V1963.0M494.2 1959.8V1965.3M496.4 1961.6V1965.4M498.6 1959.7V1961.9M500.8 1961.4V1964.4M503.0 1936.5V1964.4M505.2 1935.4V1937.6M507.4 1935.4V1937.6M509.6 1935.4V1937.6M511.8 1935.4V1937.6M514.0 1935.4V1937.6M516.2 1935.4V1937.6M518.4 1935.4V1937.6M520.6 1935.4V1937.6M522.8 1935.4V1937.6M525.0 1935.4V1937.6M527.2 1935.4V1937.6M529.4 1935.4V1937.6M531.6 1935.4V1937.6M533.8 1935.4V1937.6M536.0 1935.4V1937.6M538.2 1935.4V1937.6M540.4 1935.4V1937.6M542.6 1935.4V1937.6M544.8 1935.4V1937.6M547.0 1935.4V1937.6M549.2 1935.4V1937.6M551.4 1935.4V1937.6M553.6 1935.4V1937.6M555.8 1935.4V1937.6M558.0 1935.4V1937.6M560.2 1935.4V1937.6M562.4 1935.4V1937.6M564.6 1935.4V1937.6M566.8 1935.4V1937.6M569.0 1935.4V1937.6M571.2 1935.4V1937.6M573.4 1935.4V1937.6M575.6 1935.4V1937.6M577.8 1935.4V1937.6M580.0 1935.4V1937.6M582.2 1935.4V1937.6M584.4 1935.4V1937.6M586.6 1935.4V1937.6M588.8 1935.4V1937.6M591.0 1935.4V1937.6M593.2 1935.4V1937.6M595.4 1935.4V1937.6M597.6 1935.4V1937.6M599.8 1935.4V1937.6M602.0 1935.4V1937.6M604.2 1935.4V1937.6M606.4 1935.4V1937.6M608.6 1935.4V1937.6M610.8 1935.4V1937.6M613.0 1935.4V1937.6M615.2 1935.4V1937.6M617.4 1935.4V1937.6M619.6 1935.4V1937.6M621.8 1935.4V1937.6M624.0 1935.4V1937.6M626.2 1935.4V1937.6M628.4 1935.4V1937.6M630.6 1935.4V1937.6M632.8 1935.4V1937.6M635.0 1935.4V1937.6M637.2 1935.4V1937.6M639.4 1935.4V1937.6M641.6 1935.4V1937.6M643.8 1935.4V1937.6M646.0 1935.4V1937.6M648.2 1935.4V1937.6M650.4 1935.4V1937.6M652.6 1935.4V1937.6M654.8 1935.4V1937.6M657.0 1935.4V1937.6M659.2 1935.4V1937.6M661.4 1935.4V1937.6M663.6 1935.4V1937.6M665.8 1935.4V1937.6M668.0 1935.4V1937.6M670.2 1935.4V1937.6M672.4 1935.4V1937.6M674.6 1935.4V1937.6M676.8 1935.4V1937.6M679.0 1935.4V1937.6M681.2 1935.4V1937.6M683.4 1935.4V1937.6M685.6 1935.4V1937.6M687.8 1935.4V1937.6M690.0 1935.4V1937.6M692.2 1935.4V1937.6M694.4 1935.4V1937.6M696.6 1935.4V1937.6M698.8 1935.4V1937.6M701.0 1935.4V1937.6M703.2 1935.4V1937.6M705.4 1935.4V1937.6M707.6 1935.4V1937.6M709.8 1935.4V1937.6M712.0 1935.4V1937.6M714.2 1935.4V1937.6M716.4 1935.4V1937.6M718.6 1935.4V1937.6M720.8 1935.4V1937.6M723.0 1935.4V1937.6M725.2 1935.4V1937.6M727.4 1935.4V1937.6M729.6 1935.4V1937.6M731.8 1935.4V1937.6M734.0 1935.4V1937.6M736.2 1935.4V1937.6M738.4 1935.4V1937.6M740.6 1935.4V1937.6M742.8 1935.4V1937.6M745.0 1935.4V1937.6M747.2 1935.4V1937.6M749.4 1935.4V1937.6M751.6 1935.4V1937.6M753.8 1935.4V1937.6M756.0 1935.4V1937.6M758.2 1935.4V1937.6M760.4 1935.4V1937.6M762.6 1935.4V1937.6M764.8 1935.4V1937.6M767.0 1935.4V1937.6M769.2 1935.4V1937.6M771.4 1935.4V1937.6M773.6 1935.4V1937.6M775.8 1935.4V1937.6M778.0 1935.4V1937.6M780.2 1935.4V1937.6M782.4 1935.4V1937.6M784.6 1935.4V1937.6M786.8 1935.4V1937.6M789.0 1935.4V1937.6M791.2 1935.4V1937.6M793.4 1935.4V1937.6M795.6 1935.4V1937.6M797.8 1935.4V1937.6M800.0 1935.4V1937.6M802.2 1935.4V1937.6M804.4 1935.4V1937.6M806.6 1935.4V1937.6M808.8 1935.4V1937.6M811.0 1935.4V1937.6M813.2 1935.4V1937.6M815.4 1935.4V1937.6M817.6 1935.4V1937.6M819.8 1935.4V1937.6M822.0 1935.4V1937.6M824.2 1935.4V1937.6M826.4 1935.4V1937.6M828.6 1935.4V1937.6M830.8 1935.4V1937.6M833.0 1935.4V1937.6M835.2 1935.4V1937.6M837.4 1935.4V1937.6M839.6 1935.4V1937.6M841.8 1935.4V1937.6M844.0 1935.4V1937.6M846.2 1935.4V1937.6M848.4 1935.4V1937.6M850.6 1935.4V1937.6M852.8 1935.4V1937.6M855.0 1935.4V1937.6M857.2 1935.4V1937.6M859.4 1935.4V1937.6M861.6 1935.4V1937.6M863.8 1935.4V1937.6M866.0 1935.4V1937.6M868.2 1935.4V1937.6M870.4 1935.4V1937.6M872.6 1935.4V1937.6M874.8 1935.4V1937.6M877.0 1935.4V1937.6M879.2 1935.4V1937.6M881.4 1935.4V1937.6M883.6 1935.4V1937.6M885.8 1935.4V1937.6M888.0 1935.4V1937.6M890.2 1935.4V1937.6M892.4 1935.4V1937.6M894.6 1935.4V1937.6M896.8 1935.4V1937.6M899.0 1935.4V1937.6M901.2 1935.4V1937.6M903.4 1935.4V1937.6M905.6 1935.4V1937.6M907.8 1935.4V1937.6M910.0 1935.4V1937.6M912.2 1935.4V1937.6M914.4 1935.4V1937.6M916.6 1935.4V1937.6M918.8 1935.4V1937.6M921.0 1935.4V1937.6M923.2 1935.4V1937.6M925.4 1935.4V1937.6M927.6 1935.4V1937.6M929.8 1935.4V1937.6M932.0 1935.4V1937.6M934.2 1935.4V1937.6M936.4 1935.4V1937.6M938.6 1935.4V1937.6M940.8 1935.4V1937.6M943.0 1935.4V1937.6M945.2 1935.4V1937.6M947.4 1935.4V1937.6M949.6 1935.4V1937.6M951.8 1935.4V1937.6M954.0 1935.4V1937.6M956.2 1935.4V1937.6M958.4 1935.4V1937.6M960.6 1935.4V1937.6M962.8 1935.4V1937.6M965.0 1935.4V1937.6M967.2 1935.4V1937.6M969.4 1935.4V1937.6M971.6 1935.4V1937.6M973.8 1935.4V1937.6M976.0 1935.4V1937.6M978.2 1935.4V1937.6M980.4 1935.4V1937.6M982.6 1935.4V1937.6M984.8 1935.4V1937.6M987.0 1935.4V1937.6M989.2 1935.4V1937.6M991.4 1935.4V1937.6M993.6 1935.4V1937.6M995.8 1935.4V1937.6M998.0 1935.4V1937.6M1000.2 1935.4V1937.6M1002.4 1935.4V1937.6M1004.6 1935.4V1937.6M1006.8 1935.4V1937.6M1009.0 1935.4V1937.6M1011.2 1935.4V1937.6M1013.4 1935.4V1937.6M1015.6 1935.4V1937.6M1017.8 1935.4V1937.6M1020.0 1935.4V1937.6M1022.2 1935.4V1937.6M1024.4 1935.4V1937.6M1026.6 1935.4V1937.6M1028.8 1935.4V1937.6M1031.0 1935.4V1937.6M1033.2 1935.4V1937.6M1035.4 1935.4V1937.6M1037.6 1935.4V1937.6M1039.8 1935.4V1937.6M1042.0 1935.4V1937.6M1044.2 1935.4V1937.6M1046.4 1935.4V1937.6M1048.6 1935.4V1937.6M1050.8 1935.4V1937.6M1053.0 1935.4V1937.6M1055.2 1935.4V1937.6M1057.4 1935.4V1937.6M1059.6 1935.4V1937.6M1061.8 1935.4V1937.6M1064.0 1935.4V1937.6M1066.2 1935.4V1937.6M1068.4 1935.4V1937.6M1070.6 1935.4V1937.6M1072.8 1935.4V1937.6M1075.0 1935.4V1937.6M1077.2 1935.4V1937.6M1079.4 1935.4V1937.6M1081.6 1935.4V1937.6M1083.8 1935.4V1937.6M1086.0 1935.4V1937.6M1088.2 1935.4V1937.6M1090.4 1935.4V1937.6M1092.6 1935.4V1937.6M1094.8 1935.4V1937.6M1097.0 1935.4V1937.6M1099.2 1935.4V1937.6M1101.4 1935.4V1937.6M1103.6 1935.4V1937.6M1105.8 1935.4V1937.6M1108.0 1935.4V1937.6M1110.2 1935.4V1937.6M1112.4 1935.4V1937.6M1114.6 1935.4V1937.6M1116.8 1935.4V1937.6M1119.0 1935.4V1937.6M1121.2 1935.4V1937.6M1123.4 1935.4V1937.6M1125.6 1935.4V1937.6M1127.8 1935.4V1937.6M1130.0 1935.4V1937.6M1132.2 1935.4V1937.6M1134.4 1935.4V1937.6M1136.6 1935.4V1937.6M1138.8 1935.4V1937.6M1141.0 1935.4V1937.6M1143.2 1935.4V1937.6M1145.4 1935.4V1937.6M1147.6 1935.4V1937.6M1149.8 1935.4V1937.6M1152.0 1935.4V1937.6M1154.2 1935.4V1937.6M1156.4 1935.4V1937.6M1158.6 1935.4V1937.6M1160.8 1935.4V1937.6M1163.0 1935.4V1937.6M1165.2 1935.4V1937.6M1167.4 1935.4V1937.6M1169.6 1935.4V1937.6M1171.8 1935.4V1937.6M1174.0 1935.4V1937.6M1176.2 1935.4V1937.6M1178.4 1935.4V1937.6M1180.6 1935.4V1937.6M1182.8 1935.4V1937.6M1185.0 1935.4V1937.6M1187.2 1935.4V1937.6M1189.4 1936.5V1951.2M1191.6 1936.5V1950.1M1193.8 1935.4V1937.6M1196.0 1936.5V1941.5M1198.2 1941.5V1951.4M1200.4 1936.5V1950.7M1202.6 1935.4V1937.6M1204.8 1936.5V1940.0M1207.0 1940.0V1950.9M1209.2 1936.5V1950.5M1211.4 1935.4V1937.6M1213.6 1936.4V1938.6M1215.8 1938.6V1949.5M1218.0 1936.5V1949.4M1220.2 1935.4V1937.6M1222.4 1935.8V1938.0M1224.6 1937.2V1947.7M1226.8 1936.5V1947.7M1229.0 1935.4V1937.6M1231.2 1935.4V1937.6M1233.4 1936.5V1945.5M1235.6 1937.1V1945.5M1237.8 1935.7V1937.9M1240.0 1935.4V1937.6M1242.2 1936.5V1943.2M1244.4 1937.5V1943.2M1246.6 1935.9V1938.1M1248.8 1935.4V1937.6M1251.0 1936.5V1941.1M1253.2 1937.6V1941.1M1255.4 1935.9V1938.1M1257.6 1935.4V1937.6M1259.8 1936.5V1939.3M1262.0 1937.3V1939.5M1264.2 1935.9V1938.1M1266.4 1935.4V1937.6M1268.6 1936.3V1938.5M1270.8 1936.7V1938.9M1273.0 1935.8V1938.0M1275.2 1935.4V1937.6M1277.4 1936.1V1938.3M1279.6 1936.5V1938.7M1281.8 1935.8V1938.0M1284.0 1935.4V1937.6M1286.2 1936.2V1938.4M1288.4 1937.0V1939.2M1290.6 1936.0V1938.2M1292.8 1935.4V1937.6M1295.0 1936.5V1938.7M1297.2 1938.0V1940.2M1299.4 1936.5V1938.7M1301.6 1935.4V1937.6M1303.8 1936.5V1939.7M1306.0 1939.4V1941.6M1308.2 1936.5V1940.2M1310.4 1935.4V1937.6M1312.6 1936.5V1940.8M1314.8 1940.8V1943.4M1317.0 1936.5V1942.1M1319.2 1935.4V1937.6M1321.4 1936.5V1941.6M1323.6 1941.6V1945.7M1325.8 1936.5V1944.4M1328.0 1935.4V1937.6M1330.2 1936.5V1941.9M1332.4 1941.9V1947.9M1334.6 1936.5V1946.7M1336.8 1935.4V1937.6M1339.0 1936.5V1941.8M1341.2 1941.8V1949.6M1343.4 1936.5V1948.8M1345.6 1935.4V1937.6M1347.8 1936.5V1941.1M1350.0 1941.1V1950.9M1352.2 1936.5V1950.3M1354.4 1935.4V1937.6M1356.6 1936.5V1940.0M1358.8 1940.0V1951.5M1361.0 1936.5V1951.1M1363.2 1935.4V1937.6M1365.4 1936.5V1938.7M1367.6 1938.7V1951.1M1369.8 1936.5V1951.1M1372.0 1935.4V1937.6M1374.2 1935.8V1938.0M1376.4 1937.3V1950.2M1378.6 1936.5V1950.2M1380.8 1935.4V1937.6M1383.0 1935.4V1937.6M1385.2 1936.5V1948.6M1387.4 1937.4V1948.6M1389.6 1935.9V1938.1M1391.8 1935.4V1937.6M1394.0 1936.5V1946.5M1396.2 1938.1V1946.5M1398.4 1936.2V1938.4M1400.6 1935.4V1937.6M1402.8 1936.5V1944.2M1405.0 1938.4V1944.3M1407.2 1936.4V1938.6M1409.4 1935.4V1937.6M1411.6 1936.5V1941.9M1413.8 1938.3V1942.1M1416.0 1936.3V1938.5M1418.2 1935.4V1937.6M1420.4 1936.5V1939.9M1422.6 1938.0V1940.2M1424.8 1936.1V1938.3M1427.0 1935.4V1937.6M1429.2 1936.4V1938.6M1431.4 1937.1V1939.3M1433.6 1935.9V1938.1M1435.8 1935.4V1937.6M1438.0 1936.1V1938.3M1440.2 1936.6V1938.8M1442.4 1935.9V1938.1M1444.6 1935.4V1937.6M1446.8 1936.0V1938.2M1449.0 1936.8V1939.0M1451.2 1936.0V1938.2M1453.4 1935.4V1937.6M1455.6 1936.2V1938.4M1457.8 1937.4V1939.6M1460.0 1936.3V1938.5M1462.2 1935.4V1937.6M1464.4 1936.5V1938.8M1466.6 1938.5V1940.7M1468.8 1936.5V1939.7M1471.0 1935.4V1937.6M1473.2 1936.5V1939.6M1475.4 1939.6V1942.4M1477.6 1936.5V1941.6M1479.8 1935.4V1937.6M1482.0 1936.5V1940.3M1484.2 1940.3V1944.6M1486.4 1936.5V1943.9M1488.6 1935.4V1937.6M1490.8 1936.5V1940.5M1493.0 1940.5V1946.9M1495.2 1936.5V1946.2M1497.4 1935.4V1937.6M1499.6 1936.5V1940.3M1501.8 1940.3V1948.9M1504.0 1936.5V1948.4M1506.2 1935.4V1937.6M1508.4 1936.5V1939.6M1510.6 1939.6V1950.4M1512.8 1936.5V1950.2M1515.0 1935.4V1937.6M1517.2 1936.4V1938.6M1519.4 1938.6V1951.2M1521.6 1936.5V1951.2M1523.8 1935.4V1937.6M1526.0 1935.8V1938.0M1528.2 1937.2V1951.4M1530.4 1936.5V1951.4M1532.6 1935.4V1937.6M1534.8 1935.4V1937.6M1537.0 1936.5V1950.8M1539.2 1937.7V1950.8M1541.4 1936.0V1938.2M1543.6 1935.4V1937.6M1545.8 1936.5V1949.4M1548.0 1938.7V1949.4M1550.2 1936.5V1938.7M1552.4 1935.4V1937.6M1554.6 1936.5V1947.3M1556.8 1939.4V1947.6M1559.0 1936.5V1939.4M1561.2 1935.4V1937.6M1563.4 1936.5V1945.0M1565.6 1939.5V1945.4M1567.8 1936.5V1939.5M1570.0 1935.4V1937.6M1572.2 1936.5V1942.7M1574.4 1939.2V1943.1M1576.6 1936.5V1939.2M1578.8 1935.4V1937.6M1581.0 1936.5V1940.6M1583.2 1938.7V1941.0M1585.4 1936.5V1938.7M1587.6 1935.4V1937.6M1589.8 1936.5V1939.0M1592.0 1937.6V1939.8M1594.2 1936.2V1938.4M1596.4 1935.4V1937.6M1598.6 1936.1V1938.3M1600.8 1936.9V1939.1M1603.0 1936.0V1938.2M1605.2 1935.4V1937.6M1607.4 1935.9V1938.1M1609.6 1936.7V1938.9M1611.8 1936.0V1938.2M1614.0 1935.4V1937.6M1616.2 1936.0V1938.2M1618.4 1937.0V1939.2M1620.6 1936.2V1938.4M1622.8 1935.4V1937.6M1625.0 1936.2V1938.4M1627.2 1937.8V1940.0M1629.4 1936.5V1939.3M1631.6 1935.4V1937.6M1633.8 1936.5V1938.7M1636.0 1938.7V1941.4M1638.2 1936.5V1941.0M1640.4 1935.4V1937.6M1642.6 1936.5V1939.1M1644.8 1939.1V1943.5M1647.0 1936.5V1943.2M1649.2 1935.4V1937.6M1651.4 1936.5V1939.3M1653.6 1939.3V1945.9M1655.8 1936.5V1945.5M1658.0 1935.4V1937.6M1660.2 1936.5V1939.0M1662.4 1939.0V1948.0M1664.6 1936.5V1947.8M1666.8 1935.4V1937.6M1669.0 1936.3V1938.5M1671.2 1938.2V1949.7M1673.4 1936.5V1949.7M1675.6 1935.4V1937.6M1677.8 1935.7V1937.9M1680.0 1937.1V1951.0M1682.2 1936.6V1951.0M1684.4 1935.4V1937.6M1686.6 1935.4V1937.6M1688.8 1936.5V1951.5M1691.0 1937.9V1951.5M1693.2 1936.1V1938.3M1695.4 1935.4V1937.6M1697.6 1936.5V1951.0M1699.8 1939.2V1951.1M1702.0 1936.5V1939.2M1704.2 1935.4V1937.6M1706.4 1936.5V1949.8M1708.6 1940.2V1950.2M1710.8 1936.5V1940.2M1713.0 1935.4V1937.6M1715.2 1936.5V1947.9M1717.4 1940.7V1948.5M1719.6 1936.5V1940.7M1721.8 1935.4V1937.6M1724.0 1936.5V1945.7M1726.2 1940.8V1946.4M1728.4 1936.5V1940.8M1730.6 1935.4V1937.6M1732.8 1936.5V1943.3M1735.0 1940.3V1944.2M1737.2 1936.5V1940.3M1739.4 1935.4V1937.6M1741.6 1936.5V1941.1M1743.8 1939.6V1942.0M1746.0 1936.5V1939.6M1748.2 1935.4V1937.6M1750.4 1936.5V1939.4M1752.6 1938.3V1940.5M1754.8 1936.5V1938.8M1757.0 1935.4V1937.6M1759.2 1936.2V1938.4M1761.4 1937.3V1939.5M1763.6 1936.2V1938.4M1765.8 1935.4V1937.6M1768.0 1935.9V1938.1M1770.2 1936.7V1938.9M1772.4 1936.0V1938.2M1774.6 1935.4V1937.6M1776.8 1935.8V1938.0M1779.0 1936.7V1938.9M1781.2 1936.1V1938.3M1783.4 1935.4V1937.6M1785.6 1935.9V1938.1M1787.8 1937.2V1939.4M1790.0 1936.5V1938.8M1792.2 1935.4V1937.6M1794.4 1936.1V1938.3M1796.6 1937.9V1940.5M1798.8 1936.5V1940.3M1801.0 1935.4V1937.6M1803.2 1936.2V1938.4M1805.4 1938.2V1942.5M1807.6 1936.5V1942.4M1809.8 1935.4V1937.6M1812.0 1936.2V1938.4M1814.2 1938.2V1944.7M1816.4 1936.5V1944.7M1818.6 1935.4V1937.6M1820.8 1936.0V1938.2M1823.0 1937.8V1947.0M1825.2 1936.5V1947.0M1827.4 1935.4V1937.6M1829.6 1935.6V1937.8M1831.8 1936.9V1949.0M1834.0 1936.6V1949.0M1836.2 1935.5V1937.7M1838.4 1935.4V1937.6M1840.6 1936.5V1950.4M1842.8 1938.0V1950.4M1845.0 1936.1V1938.3M1847.2 1935.4V1937.6M1849.4 1936.5V1951.1M1851.6 1939.4V1951.3M1853.8 1936.5V1939.4M1856.0 1935.4V1937.6M1858.2 1936.5V1950.9M1860.4 1940.7V1951.4M1862.6 1936.5V1940.7M1864.8 1935.4V1937.6M1867.0 1936.5V1949.9M1869.2 1941.7V1950.7M1871.4 1936.5V1941.7M1873.6 1935.4V1937.6M1875.8 1936.5V1948.3M1878.0 1942.2V1949.4M1880.2 1936.5V1942.2M1882.4 1935.4V1937.6M1884.6 1936.5V1946.1M1886.8 1942.2V1947.5M1889.0 1936.5V1942.2M1891.2 1935.4V1937.6M1893.4 1936.5V1943.8M1895.6 1941.6V1945.3M1897.8 1936.5V1941.6M1900.0 1935.4V1937.6M1902.2 1936.5V1941.6M1904.4 1940.7V1943.0M1906.6 1936.5V1940.7M1908.8 1935.4V1937.6M1911.0 1936.5V1939.7M1913.2 1939.2V1941.4M1915.4 1936.5V1939.6M1917.6 1935.4V1937.6M1919.8 1936.3V1938.5M1922.0 1937.7V1939.9M1924.2 1936.5V1938.7M1926.4 1935.4V1937.6M1928.6 1935.9V1938.1M1930.8 1936.8V1939.0M1933.0 1936.1V1938.3M1935.2 1935.4V1937.6M1937.4 1935.8V1938.0M1939.6 1936.5V1938.7M1941.8 1936.1V1938.3M1944.0 1935.4V1937.6M1946.2 1935.8V1938.0M1948.4 1936.8V1939.0M1950.6 1936.4V1938.6M1952.8 1935.4V1937.6M1955.0 1935.8V1938.0M1957.2 1937.4V1939.7M1959.4 1936.5V1939.7M1961.6 1935.4V1937.6M1963.8 1935.9V1938.1M1966.0 1937.5V1941.5M1968.2 1936.5V1941.5M1970.4 1935.4V1937.6M1972.6 1935.8V1938.0M1974.8 1937.3V1943.7M1977.0 1936.5V1943.7M1979.2 1935.4V1937.6M1981.4 1935.5V1937.7M1983.6 1936.8V1946.0M1985.8 1936.7V1946.0M1988.0 1935.5V1937.7M1990.2 1935.4V1937.6M1992.4 1936.5V1948.0M1994.6 1937.8V1948.0M1996.8 1936.1V1938.3M1999.0 1935.4V1937.6M2001.2 1936.5V1949.6M2003.4 1939.2V1949.8M2005.6 1936.5V1939.2M2007.8 1935.4V1937.6M2010.0 1936.5V1950.5M2012.2 1940.7V1951.0M2014.4 1936.5V1940.7M2016.6 1935.4V1937.6M2018.8 1936.5V1950.5M2021.0 1942.1V1951.4M2023.2 1936.5V1942.1M2025.4 1935.4V1937.6M2027.6 1936.5V1949.8M2029.8 1943.2V1951.1M2032.0 1936.5V1943.2M2034.2 1935.4V1937.6M2036.4 1936.5V1948.3M2038.6 1943.7V1950.1M2040.8 1936.5V1943.7M2043.0 1935.4V1937.6M2045.2 1936.5V1946.3M2047.4 1943.6V1948.4M2049.6 1936.5V1943.6M2051.8 1935.4V1937.6M2054.0 1936.5V1944.1M2056.2 1943.0V1946.3M2058.4 1936.5V1943.0M2060.6 1935.4V1937.6M2062.8 1936.5V1941.9M2065.0 1941.9V1944.1M2067.2 1936.5V1942.0M2069.4 1935.4V1937.6M2071.6 1936.5V1940.0M2073.8 1939.8V1942.0M2076.0 1936.5V1940.7M2078.2 1935.4V1937.6M2080.4 1936.4V1938.6M2082.6 1938.2V1940.4M2084.8 1936.5V1939.4M2087.0 1935.4V1937.6M2089.2 1935.9V1938.1M2091.4 1937.0V1939.2M2093.6 1936.3V1938.5M2095.8 1935.4V1937.6M2098.0 1935.7V1937.9M2100.2 1936.5V1938.7M2102.4 1936.1V1938.3M2104.6 1935.4V1937.6M2106.8 1935.6V1937.8M2109.0 1936.5V1938.7M2111.2 1936.2V1938.4M2113.4 1935.4V1937.6M2115.6 1935.6V1937.8M2117.8 1936.9V1939.1M2120.0 1936.5V1939.1M2122.2 1935.4V1937.6M2124.4 1935.6V1937.8M2126.6 1936.9V1940.6M2128.8 1936.5V1940.6M2131.0 1935.4V1937.6M2133.2 1935.5V1937.7M2135.4 1936.6V1942.6M2137.6 1936.7V1942.6M2139.8 1935.5V1937.7M2142.0 1935.4V1937.6M2144.2 1936.5V1944.8M2146.4 1937.5V1944.8M2148.6 1935.9V1938.1M2150.8 1935.4V1937.6M2153.0 1936.5V1946.9M2155.2 1938.8V1947.1M2157.4 1936.5V1938.8M2159.6 1935.4V1937.6M2161.8 1936.5V1948.5M2164.0 1940.3V1949.1M2166.2 1936.5V1940.3M2168.4 1935.4V1937.6M2170.6 1936.5V1949.6M2172.8 1941.9V1950.5M2175.0 1936.5V1941.9M2177.2 1935.4V1937.6M2179.4 1936.5V1949.8M2181.6 1943.4V1951.4M2183.8 1936.5V1943.4M2186.0 1935.4V1937.6M2188.2 1936.5V1949.2M2190.4 1944.6V1951.4M2192.6 1936.5V1944.6M2194.8 1935.4V1937.6M2197.0 1936.5V1948.0M2199.2 1945.2V1950.6M2201.4 1936.5V1945.2M2203.6 1935.4V1937.6M2205.8 1936.5V1946.2M2208.0 1945.1V1949.3M2210.2 1936.5V1945.1M2212.4 1935.4V1937.6M2214.6 1936.5V1944.1M2216.8 1944.1V1947.4M2219.0 1936.5V1944.5M2221.2 1935.4V1937.6M2223.4 1936.5V1942.0M2225.6 1942.0V1945.1M2227.8 1936.5V1943.3M2230.0 1935.4V1937.6M2232.2 1936.5V1940.1M2234.4 1940.1V1942.9M2236.6 1936.5V1941.8M2238.8 1935.4V1937.6M2241.0 1936.5V1938.7M2243.2 1938.6V1940.9M2245.4 1936.5V1940.3M2247.6 1935.4V1937.6M2249.8 1936.0V1938.2M2252.0 1937.3V1939.5M2254.2 1936.5V1939.0M2256.4 1935.4V1937.6M2258.6 1935.7V1937.9M2260.8 1936.5V1938.7M2263.0 1936.2V1938.4M2265.2 1935.4V1937.6M2267.4 1935.5V1937.7M2269.6 1936.3V1938.5M2271.8 1936.1V1938.3M2274.0 1935.4V1937.6M2276.2 1935.5V1937.7M2278.4 1936.5V1938.7M2280.6 1936.4V1938.6M2282.8 1935.4V1937.6M2285.0 1935.4V1937.6M2287.2 1936.5V1939.8M2289.4 1936.6V1939.8M2291.6 1935.5V1937.7M2293.8 1935.4V1937.6M2296.0 1936.5V1941.5M2298.2 1937.2V1941.6M2300.4 1935.7V1937.9M2302.6 1935.4V1937.6M2304.8 1936.5V1943.6" stroke="#00f4f4" stroke-width="2.2" fill="none"/>
<path d="M69.6 2055.5V2076.1M71.8 2048.0V2055.5M74.0 2049.6V2069.0M76.2 2069.0V2079.0M78.4 2060.6V2078.4M80.6 2048.1V2060.6M82.8 2048.1V2063.7M85.0 2063.7V2079.0M87.2 2066.0V2079.0M89.4 2048.5V2066.0M91.6 2048.0V2058.4M93.8 2058.4V2077.6M96.0 2071.1V2079.0M98.2 2050.7V2071.1M100.4 2048.1V2053.7M102.6 2053.7V2074.6M104.8 2074.6V2079.0M107.0 2054.5V2075.3M109.2 2048.0V2054.5M111.4 2050.1V2070.2M113.6 2070.2V2078.9M115.8 2059.4V2078.0M118.0 2048.0V2059.4M120.2 2048.3V2065.0M122.4 2065.0V2079.0M124.6 2064.8V2079.0M126.8 2048.2V2064.8M129.0 2048.0V2059.6M131.2 2059.6V2078.1M133.4 2070.0V2078.9M135.6 2050.0V2070.0M137.8 2048.0V2054.7M140.0 2054.7V2075.4M142.2 2074.4V2079.0M144.4 2053.5V2074.4M146.6 2048.1V2053.5M148.8 2050.8V2071.3M151.0 2071.3V2079.0M153.2 2058.2V2077.5M155.4 2048.0V2058.2M157.6 2048.5V2066.2M159.8 2066.2V2078.9M162.0 2063.5V2078.9M164.2 2048.1V2063.5M166.4 2048.1V2060.8M168.6 2060.8V2078.5M170.8 2068.8V2079.0M173.0 2049.5V2068.8M175.2 2048.0V2055.7M177.4 2055.7V2076.2M179.6 2073.5V2078.9M181.8 2052.6V2073.5M184.0 2048.0V2052.6M186.2 2051.6V2072.3M188.4 2072.3V2079.0M190.6 2057.0V2077.0M192.8 2048.1V2057.0M195.0 2048.9V2067.4M197.2 2067.4V2079.0M199.4 2062.2V2078.8M201.6 2048.0V2062.2M203.8 2048.0V2062.0M206.0 2062.0V2078.7M208.2 2067.6V2079.0M210.4 2049.0V2067.6M212.6 2048.1V2056.8M214.8 2056.8V2076.9M217.0 2072.5V2079.0M219.2 2051.7V2072.5M221.4 2048.0V2052.4M223.6 2052.4V2073.3M225.8 2073.3V2078.9M228.0 2055.9V2076.3M230.2 2048.0V2055.9M232.4 2049.4V2068.6M234.6 2068.6V2079.0M236.8 2061.0V2078.5M239.0 2048.0V2061.0M241.2 2048.0V2063.3M243.4 2063.3V2078.9M245.6 2066.4V2078.9M247.8 2048.6V2066.4M250.0 2048.0V2058.0M252.2 2058.0V2077.4M254.4 2071.5V2079.0M256.6 2050.9V2071.5M258.8 2048.1V2053.3M261.0 2053.3V2074.3M263.2 2074.3V2079.0M265.4 2054.8V2075.5M267.6 2048.0V2054.8M269.8 2049.9V2069.8M272.0 2069.8V2078.9M274.2 2059.8V2078.2M276.4 2048.1V2059.8M278.6 2048.2V2064.5M280.8 2064.5V2079.0M283.0 2065.2V2079.0M285.2 2048.3V2065.2M287.4 2048.0V2059.2M289.6 2059.2V2077.9M291.8 2070.4V2078.9M294.0 2050.3V2070.4M296.2 2048.0V2054.3M298.4 2054.3V2075.1M300.6 2074.7V2079.0M302.8 2053.8V2074.7M305.0 2048.1V2053.8M307.2 2050.6V2070.9M309.4 2070.9V2078.9M311.6 2058.6V2077.7M313.8 2048.0V2058.6M316.0 2048.4V2065.8M318.2 2065.8V2079.0M320.4 2063.9V2079.0M322.6 2048.1V2063.9M324.8 2048.1V2060.4M327.0 2060.4V2078.4M329.2 2069.2V2079.0M331.4 2049.6V2069.2M333.6 2048.0V2055.4M335.8 2055.4V2075.9M338.0 2073.8V2078.9M340.2 2052.9V2073.8M342.4 2048.0V2052.9M344.6 2051.3V2072.0M346.8 2072.0V2079.0M349.0 2057.4V2077.2M351.2 2048.0V2057.4M353.4 2048.8V2067.0M355.6 2067.0V2078.9M357.8 2062.7V2078.8M360.0 2048.0V2062.7M362.2 2048.0V2061.6M364.4 2061.6V2078.7M366.6 2068.0V2079.0M368.8 2049.1V2068.0M371.0 2048.1V2056.5M373.2 2056.5V2076.6M375.4 2072.8V2079.0M377.6 2052.0V2072.8M379.8 2048.0V2052.1M382.0 2052.1V2073.0M384.2 2073.0V2079.0M386.4 2056.3V2076.5M388.6 2048.1V2056.3M390.8 2049.2V2068.2M393.0 2068.2V2079.0M395.2 2061.4V2078.6M397.4 2048.0V2061.4M399.6 2048.0V2062.9M401.8 2062.9V2078.9M404.0 2066.8V2078.9M406.2 2048.7V2066.8M408.4 2048.0V2057.6M410.6 2057.6V2077.3M412.8 2071.8V2079.0M415.0 2051.2V2071.8M417.2 2048.1V2053.0M419.4 2053.0V2074.0M421.6 2074.0V2078.9M423.8 2055.2V2075.8M426.0 2048.0V2055.2M428.2 2049.7V2069.4M430.4 2069.4V2079.0M432.6 2060.2V2078.3M434.8 2048.1V2060.2M437.0 2048.1V2064.1M439.2 2064.1V2079.0M441.4 2065.6V2079.0M443.6 2048.4V2065.6M445.8 2048.0V2058.8M448.0 2058.8V2077.8M450.2 2070.7V2078.9M452.4 2050.5V2070.7M454.6 2048.0V2054.0M456.8 2054.0V2074.9M459.0 2074.9V2079.0M461.2 2054.2V2075.0M463.4 2048.0V2054.2M465.6 2050.4V2070.5M467.8 2070.5V2078.9M470.0 2059.0V2077.9M472.2 2048.0V2059.0M474.4 2048.3V2065.4M476.6 2065.4V2079.0M478.8 2064.3V2079.0M481.0 2048.2V2064.3M483.2 2048.1V2060.0M485.4 2060.0V2078.2M487.6 2069.6V2079.0M489.8 2049.8V2069.6M492.0 2048.0V2055.0M494.2 2055.0V2075.7M496.4 2074.1V2079.0M498.6 2053.2V2074.1M500.8 2048.1V2053.2M503.0 2051.1V2075.2M505.2 2075.2V2087.3M507.4 2052.6V2084.7M509.6 2036.2V2052.6M511.8 2037.3V2067.2M514.0 2067.2V2088.0M516.2 2061.3V2088.0M518.4 2035.6V2061.3M520.6 2035.6V2058.1M522.8 2058.1V2088.0M525.0 2070.5V2088.7M527.2 2037.4V2070.5M529.4 2035.2V2049.1M531.6 2049.1V2084.5M533.8 2078.9V2088.9M536.0 2042.5V2078.9M538.2 2035.0V2042.5M540.4 2041.7V2078.0M542.6 2078.0V2088.9M544.8 2050.1V2085.0M547.0 2035.4V2050.1M549.2 2037.1V2069.4M551.4 2069.4V2088.5M553.6 2059.2V2088.0M555.8 2035.8V2059.2M558.0 2035.8V2060.2M560.2 2060.2V2087.6M562.4 2068.2V2087.7M564.6 2037.9V2068.2M566.8 2036.6V2051.7M569.0 2051.7V2083.9M571.2 2075.9V2087.0M573.4 2042.9V2075.9M575.6 2037.5V2045.1M577.8 2045.1V2077.8M580.0 2077.8V2085.9M582.2 2049.8V2081.4M584.4 2038.5V2049.8M586.6 2040.9V2070.3M588.8 2070.3V2085.1M591.0 2057.7V2084.2M593.2 2039.4V2057.7M595.4 2039.4V2062.3M597.6 2062.3V2084.3M599.8 2065.6V2084.3M602.0 2040.6V2065.6M604.2 2040.0V2054.7M606.4 2054.7V2081.9M608.6 2072.7V2083.8M610.8 2044.1V2072.7M613.0 2040.4V2048.3M615.2 2048.3V2077.4M617.4 2077.4V2083.6M619.6 2049.4V2078.4M621.8 2040.4V2049.4M624.0 2043.4V2071.3M626.2 2071.3V2083.6M628.4 2056.2V2082.4M630.6 2040.1V2056.2M632.8 2040.4V2064.1M635.0 2064.1V2084.2M637.2 2063.8V2084.2M639.4 2039.8V2063.8M641.6 2039.6V2056.3M643.8 2056.3V2083.5M646.0 2071.6V2084.8M648.2 2041.8V2071.6M650.4 2038.7V2048.6M652.6 2048.6V2080.2M654.8 2078.8V2085.7M657.0 2046.5V2078.8M659.2 2037.9V2046.5M661.4 2042.1V2074.3M663.6 2074.3V2086.7M665.8 2053.4V2084.4M668.0 2036.8V2053.4M670.2 2037.6V2066.4M672.4 2066.4V2087.5M674.6 2062.0V2087.5M676.8 2036.1V2062.0M679.0 2036.1V2057.4M681.2 2057.4V2087.4M683.4 2071.1V2088.3M685.6 2037.9V2071.1M687.8 2035.4V2048.6M690.0 2048.6V2083.9M692.2 2079.3V2088.6M694.4 2043.0V2079.3M696.6 2035.1V2043.0M698.8 2041.3V2077.4M701.0 2077.4V2089.0M703.2 2050.7V2085.4M705.4 2035.2V2050.7M707.6 2036.6V2068.8M709.8 2068.8V2088.8M712.0 2059.8V2088.4M714.2 2035.4V2059.8M716.4 2035.4V2059.5M718.6 2059.5V2087.9M720.8 2069.0V2088.3M723.0 2037.6V2069.0M725.2 2036.1V2050.9M727.4 2050.9V2084.1M729.6 2076.8V2087.6M731.8 2042.8V2076.8M734.0 2036.9V2044.1M736.2 2044.1V2077.8M738.4 2077.8V2086.5M740.6 2050.0V2082.3M742.8 2037.8V2050.0M745.0 2040.0V2069.9M747.2 2069.9V2085.7M749.4 2058.2V2085.0M751.6 2038.8V2058.2M753.8 2038.8V2061.7M756.0 2061.7V2084.8M758.2 2066.3V2084.8M760.4 2040.3V2066.3M762.6 2039.5V2054.0M764.8 2054.0V2082.0M767.0 2073.3V2084.1M769.2 2044.2V2073.3M771.4 2040.3V2047.7M773.6 2047.7V2077.1M775.8 2077.1V2083.7M778.0 2049.9V2078.9M780.2 2040.4V2049.9M782.4 2043.1V2070.8M784.6 2070.8V2083.5M786.8 2056.8V2082.4M789.0 2040.4V2056.8M791.2 2040.6V2063.5M793.4 2063.5V2083.8M795.6 2064.4V2083.8M797.8 2040.4V2064.4M800.0 2040.0V2055.8M802.2 2055.8V2082.8M804.4 2071.9V2084.2M806.6 2042.6V2071.9M808.8 2039.3V2048.5M811.0 2048.5V2079.3M813.2 2078.8V2085.1M815.4 2047.4V2078.8M817.6 2038.5V2047.4M819.8 2042.3V2073.4M822.0 2073.4V2085.9M824.2 2054.3V2084.1M826.4 2037.5V2054.3M828.6 2038.1V2065.7M830.8 2065.7V2087.0M833.0 2062.7V2087.0M835.2 2036.7V2062.7M837.4 2036.7V2056.9M839.6 2056.9V2086.7M841.8 2071.6V2087.8M844.0 2038.6V2071.6M846.2 2035.8V2048.2M848.4 2048.2V2083.2M850.6 2079.7V2088.4M852.8 2043.7V2079.7M855.0 2035.3V2043.7M857.2 2041.0V2076.7M859.4 2076.7V2088.9M861.6 2051.4V2085.7M863.8 2035.1V2051.4M866.0 2036.3V2068.1M868.2 2068.1V2088.8M870.4 2060.5V2088.7M872.6 2035.1V2060.5M874.8 2035.1V2058.8M877.0 2058.8V2088.1M879.2 2069.8V2088.7M881.4 2037.4V2069.8M883.6 2035.7V2050.0M885.8 2050.0V2084.2M888.0 2077.7V2088.1M890.2 2042.8V2077.7M892.4 2036.2V2043.2M894.6 2043.2V2077.6M896.8 2077.6V2087.3M899.0 2050.3V2083.2M901.2 2037.2V2050.3M903.4 2039.1V2069.5M905.6 2069.5V2086.4M907.8 2058.8V2085.8M910.0 2038.1V2058.8M912.2 2038.1V2061.0M914.4 2061.0V2085.3M916.6 2067.0V2085.3M918.8 2040.0V2067.0M921.0 2039.0V2053.3M923.2 2053.3V2082.1M925.4 2074.1V2084.6M927.6 2044.3V2074.1M929.8 2039.8V2047.0M932.0 2047.0V2076.9M934.2 2076.9V2083.9M936.4 2050.3V2079.4M938.6 2040.2V2050.3M940.8 2042.7V2070.3M943.0 2070.3V2083.6M945.2 2057.4V2082.7M947.4 2040.6V2057.4M949.6 2040.6V2062.9M951.8 2062.9V2083.6M954.0 2064.9V2083.6M956.2 2040.8V2064.9M958.4 2040.3V2055.3M960.6 2055.3V2082.2M962.8 2072.3V2083.9M965.0 2043.4V2072.3M967.2 2039.9V2048.3M969.4 2048.3V2078.5M971.6 2078.5V2084.6M973.8 2048.2V2078.8M976.0 2039.1V2048.2M978.2 2042.5V2072.6M980.4 2072.6V2085.2M982.6 2055.1V2083.7M984.8 2038.2V2055.1M987.0 2038.6V2064.9M989.2 2064.9V2086.3M991.4 2063.3V2086.3M993.6 2037.5V2063.3M995.8 2037.3V2056.3M998.0 2056.3V2086.0M1000.2 2072.0V2087.2M1002.4 2039.4V2072.0M1004.6 2036.3V2047.9M1006.8 2047.9V2082.4M1009.0 2079.9V2088.0M1011.2 2044.5V2079.9M1013.4 2035.7V2044.5M1015.6 2040.8V2076.0M1017.8 2076.0V2088.7M1020.0 2052.1V2085.9M1022.2 2035.2V2052.1M1024.4 2036.2V2067.4M1026.6 2067.4V2088.8M1028.8 2061.3V2088.8M1031.0 2035.1V2061.3M1033.2 2035.1V2058.0M1035.4 2058.0V2088.2M1037.6 2070.6V2088.9M1039.8 2037.4V2070.6M1042.0 2035.3V2049.2M1044.2 2049.2V2084.2M1046.4 2078.5V2088.5M1048.6 2042.9V2078.5M1050.8 2035.7V2042.9M1053.0 2042.3V2077.4M1055.2 2077.4V2087.9M1057.4 2050.6V2084.1M1059.6 2036.7V2050.6M1061.8 2038.3V2069.1M1064.0 2069.1V2087.1M1066.2 2059.3V2086.6M1068.4 2037.4V2059.3M1070.6 2037.4V2060.4M1072.8 2060.4V2085.9M1075.0 2067.8V2086.0M1077.2 2039.6V2067.8M1079.4 2038.4V2052.5M1081.6 2052.5V2082.4M1083.8 2074.9V2085.2M1086.0 2044.2V2074.9M1088.2 2039.3V2046.2M1090.4 2046.2V2076.8M1092.6 2076.8V2084.3M1094.8 2050.6V2080.1M1097.0 2039.9V2050.6M1099.2 2042.1V2069.8M1101.4 2069.8V2083.9M1103.6 2057.9V2083.0M1105.8 2040.4V2057.9M1108.0 2040.4V2062.3M1110.2 2062.3V2083.6M1112.4 2065.5V2083.6M1114.6 2041.1V2065.5M1116.8 2040.4V2054.8M1119.0 2054.8V2081.8M1121.2 2072.7V2083.6M1123.4 2044.0V2072.7M1125.6 2040.3V2048.1M1127.8 2048.1V2077.7M1130.0 2077.7V2084.1M1132.2 2049.0V2078.8M1134.4 2039.6V2049.0M1136.6 2042.6V2071.7M1138.8 2071.7V2084.7M1141.0 2055.9V2083.4M1143.2 2038.9V2055.9M1145.4 2039.2V2064.2M1147.6 2064.2V2085.7M1149.8 2063.9V2085.7M1152.0 2038.2V2063.9M1154.2 2037.9V2055.8M1156.4 2055.8V2085.1M1158.6 2072.4V2086.5M1160.8 2040.3V2072.4M1163.0 2036.9V2047.6M1165.2 2047.6V2081.5M1167.4 2080.1V2087.5M1169.6 2045.3V2080.1M1171.8 2036.2V2045.3M1174.0 2040.7V2075.1M1176.2 2075.1V2088.2M1178.4 2052.9V2085.8M1180.6 2035.4V2052.9M1182.8 2036.3V2066.7M1185.0 2066.7V2088.7M1187.2 2062.0V2088.7M1189.4 2035.2V2062.0M1191.6 2035.2V2057.3M1193.8 2057.3V2088.1M1196.0 2071.3V2089.0M1198.2 2037.6V2071.3M1200.4 2035.1V2048.5M1202.6 2048.5V2084.0M1204.8 2079.3V2088.7M1207.0 2043.2V2079.3M1209.2 2035.4V2043.2M1211.4 2041.5V2077.1M1213.6 2077.1V2088.4M1215.8 2051.0V2084.9M1218.0 2036.1V2051.0M1220.2 2037.5V2068.6M1222.4 2068.6V2087.6M1224.6 2059.9V2087.3M1226.8 2036.7V2059.9M1229.0 2036.7V2059.6M1231.2 2059.6V2086.4M1233.4 2068.6V2086.7M1235.6 2039.2V2068.6M1237.8 2037.8V2051.6M1240.0 2051.6V2082.6M1242.2 2075.8V2085.8M1244.4 2044.2V2075.8M1246.6 2038.6V2045.4M1248.8 2045.4V2076.6M1251.0 2076.6V2084.8M1253.2 2050.9V2080.9M1255.4 2039.5V2050.9M1257.6 2041.5V2069.4M1259.8 2069.4V2084.2M1262.0 2058.4V2083.5M1264.2 2040.1V2058.4M1266.4 2040.1V2061.7M1268.6 2061.7V2083.6M1270.8 2066.1V2083.6M1273.0 2041.2V2066.1M1275.2 2040.4V2054.3M1277.4 2054.3V2081.4M1279.6 2073.1V2083.6M1281.8 2044.5V2073.1M1284.0 2040.5V2047.8M1286.2 2047.8V2077.1M1288.4 2077.1V2083.7M1290.6 2049.7V2079.0M1292.8 2040.0V2049.7M1295.0 2042.7V2071.0M1297.2 2071.0V2084.2M1299.4 2056.6V2083.1M1301.6 2039.5V2056.6M1303.8 2039.6V2063.5M1306.0 2063.5V2085.0M1308.2 2064.5V2085.0M1310.4 2039.0V2064.5M1312.6 2038.6V2055.4M1314.8 2055.4V2084.3M1317.0 2072.7V2085.8M1319.2 2041.2V2072.7M1321.4 2037.6V2047.5M1323.6 2047.5V2080.6M1325.8 2080.1V2086.9M1328.0 2046.3V2080.1M1330.2 2036.8V2046.3M1332.4 2040.8V2074.3M1334.6 2074.3V2087.7M1336.8 2053.7V2085.7M1339.0 2035.9V2053.7M1341.2 2036.6V2065.9M1343.4 2065.9V2088.4M1345.6 2062.7V2088.4M1347.8 2035.5V2062.7M1350.0 2035.5V2056.6M1352.2 2056.6V2087.8M1354.4 2071.9V2088.9M1356.6 2037.9V2071.9M1358.8 2035.0V2047.8M1361.0 2047.8V2083.6M1363.2 2080.0V2088.9M1365.4 2043.5V2080.0M1367.6 2035.2V2043.5M1369.8 2040.9V2076.7M1372.0 2076.7V2088.8M1374.2 2051.5V2085.6M1376.4 2035.5V2051.5M1378.6 2036.8V2068.0M1380.8 2068.0V2088.1M1383.0 2060.6V2087.9M1385.2 2036.2V2060.6M1387.4 2036.2V2058.9M1389.6 2058.9V2086.9M1391.8 2069.4V2087.4M1394.0 2038.8V2069.4M1396.2 2037.2V2050.7M1398.4 2050.7V2082.9M1400.6 2076.7V2086.5M1402.8 2044.1V2076.7M1405.0 2038.0V2044.5M1407.2 2044.5V2076.5M1409.4 2076.5V2085.5M1411.6 2051.1V2081.7M1413.8 2039.0V2051.1M1416.0 2040.7V2069.0M1418.2 2069.0V2084.7M1420.4 2059.0V2084.1M1422.6 2039.7V2059.0M1424.8 2039.7V2061.1M1427.0 2061.1V2083.9M1429.2 2066.7V2083.9M1431.4 2041.2V2066.7M1433.6 2040.2V2053.7M1435.8 2053.7V2081.3M1438.0 2073.6V2083.7M1440.2 2044.8V2073.6M1442.4 2040.5V2047.4M1444.6 2047.4V2076.6M1446.8 2076.6V2083.5M1449.0 2050.4V2079.2M1451.2 2040.3V2050.4M1453.4 2042.7V2070.3M1455.6 2070.3V2083.9M1457.8 2057.3V2082.9M1460.0 2040.0V2057.3M1462.2 2040.0V2062.9M1464.4 2062.9V2084.4M1466.6 2065.0V2084.4M1468.8 2039.7V2065.0M1471.0 2039.1V2055.0M1473.2 2055.0V2083.4M1475.4 2072.9V2085.2M1477.6 2042.1V2072.9M1479.8 2038.3V2047.3M1482.0 2047.3V2079.7M1484.2 2079.7V2086.2M1486.4 2047.2V2080.1M1488.6 2037.3V2047.2M1490.8 2041.0V2073.4M1493.0 2073.4V2087.0M1495.2 2054.6V2085.4M1497.4 2036.4V2054.6M1499.6 2036.9V2065.1M1501.8 2065.1V2088.0M1504.0 2063.4V2088.0M1506.2 2035.9V2063.4M1508.4 2035.8V2056.0M1510.6 2056.0V2087.3M1512.8 2072.5V2088.6M1515.0 2038.4V2072.5M1517.2 2035.2V2047.3M1519.4 2047.3V2083.2M1521.6 2080.5V2088.9M1523.8 2044.0V2080.5M1526.0 2035.1V2044.0M1528.2 2040.4V2076.2M1530.4 2076.2V2088.9M1532.6 2052.1V2086.1M1534.8 2035.2V2052.1M1537.0 2036.3V2067.4M1539.2 2067.4V2088.4M1541.4 2061.3V2088.4M1543.6 2035.7V2061.3M1545.8 2035.7V2058.1M1548.0 2058.1V2087.3M1550.2 2070.2V2088.0M1552.4 2038.5V2070.2M1554.6 2036.5V2049.8M1556.8 2049.8V2083.0M1559.0 2077.6V2087.1M1561.2 2044.0V2077.6M1563.4 2037.3V2044.0M1565.6 2043.5V2076.4M1567.8 2076.4V2086.2M1570.0 2051.4V2082.6M1572.2 2038.4V2051.4M1574.4 2039.9V2068.6M1576.6 2068.6V2085.3M1578.8 2059.5V2084.8M1581.0 2039.1V2059.5M1583.2 2039.1V2060.5M1585.4 2060.5V2084.2M1587.6 2067.4V2084.4M1589.8 2041.0V2067.4M1592.0 2039.9V2053.0M1594.2 2053.0V2081.2M1596.4 2074.2V2083.9M1598.6 2045.1V2074.2M1600.8 2040.3V2046.9M1603.0 2046.9V2076.2M1605.2 2076.2V2083.5M1607.4 2050.9V2079.5M1609.6 2040.4V2050.9M1611.8 2042.6V2069.7M1614.0 2069.7V2083.7M1616.2 2057.9V2082.9M1618.4 2040.3V2057.9M1620.6 2040.3V2062.3M1622.8 2062.3V2084.0M1625.0 2065.6V2084.0M1627.2 2040.4V2065.6M1629.4 2039.7V2054.6M1631.6 2054.6V2082.6M1633.8 2073.2V2084.7M1636.0 2043.0V2073.2M1638.2 2039.0V2047.3M1640.4 2047.3V2078.7M1642.6 2078.7V2085.5M1644.8 2048.1V2080.0M1647.0 2038.0V2048.1M1649.2 2041.2V2072.5M1651.4 2072.5V2086.4M1653.6 2055.4V2085.0M1655.8 2037.1V2055.4M1658.0 2037.4V2064.4M1660.2 2064.4V2087.4M1662.4 2064.1V2087.4M1664.6 2036.5V2064.1M1666.8 2036.2V2055.4M1669.0 2055.4V2086.6M1671.2 2073.0V2088.1M1673.4 2039.0V2073.0M1675.6 2035.5V2046.8M1677.8 2046.8V2082.5M1680.0 2080.9V2088.7M1682.2 2044.7V2080.9M1684.4 2035.3V2044.7M1686.6 2040.0V2075.5M1688.8 2075.5V2088.9M1691.0 2052.7V2086.4M1693.2 2035.0V2052.7M1695.4 2035.9V2066.7M1697.6 2066.7V2088.8M1699.8 2062.0V2088.8M1702.0 2035.4V2062.0M1704.2 2035.4V2057.4M1706.4 2057.4V2087.6M1708.6 2071.1V2088.5M1710.8 2038.3V2071.1M1713.0 2035.9V2048.9M1715.2 2048.9V2083.1M1717.4 2078.6V2087.6M1719.6 2044.0V2078.6M1721.8 2036.7V2044.0M1724.0 2042.6V2076.3M1726.2 2076.3V2086.9M1728.4 2051.7V2083.6M1730.6 2037.7V2051.7M1732.8 2039.0V2068.1M1735.0 2068.1V2085.9M1737.2 2060.1V2085.6M1739.4 2038.5V2060.1M1741.6 2038.5V2059.8M1743.8 2059.8V2084.7M1746.0 2068.1V2085.0M1748.2 2040.7V2068.1M1750.4 2039.5V2052.3M1752.6 2052.3V2081.3M1754.8 2074.9V2084.3M1757.0 2045.2V2074.9M1759.2 2040.0V2046.3M1761.4 2046.3V2075.9M1763.6 2075.9V2083.7M1765.8 2051.4V2080.0M1768.0 2040.4V2051.4M1770.2 2042.3V2069.1M1772.4 2069.1V2083.6M1774.6 2058.5V2082.9M1776.8 2040.4V2058.5M1779.0 2040.4V2061.7M1781.2 2061.7V2083.6M1783.4 2066.1V2083.6M1785.6 2040.9V2066.1M1787.8 2040.1V2054.2M1790.0 2054.2V2081.9M1792.2 2073.5V2084.2M1794.4 2043.8V2073.5M1796.6 2039.6V2047.2M1798.8 2047.2V2077.9M1801.0 2077.9V2084.9M1803.2 2049.0V2079.9M1805.4 2038.6V2049.0M1807.6 2041.5V2071.6M1809.8 2071.6V2085.8M1812.0 2056.2V2084.6M1814.2 2037.8V2056.2M1816.4 2038.0V2063.7M1818.6 2063.7V2086.8M1820.8 2064.7V2086.8M1823.0 2037.3V2064.7M1825.2 2036.8V2054.9M1827.4 2054.9V2085.9M1829.6 2073.4V2087.5M1831.8 2039.8V2073.4M1834.0 2036.0V2046.5M1836.2 2046.5V2081.8M1838.4 2081.2V2088.4M1840.6 2045.4V2081.2M1842.8 2035.4V2045.4M1845.0 2039.8V2074.8M1847.2 2074.8V2088.8M1849.4 2053.4V2086.6M1851.6 2035.0V2053.4M1853.8 2035.8V2066.0M1856.0 2066.0V2088.9M1858.2 2062.7V2088.9M1860.4 2035.2V2062.7M1862.6 2035.2V2056.6M1864.8 2056.6V2087.7M1867.0 2071.9V2088.8M1869.2 2038.2V2071.9M1871.4 2035.4V2048.1M1873.6 2048.1V2083.1M1875.8 2079.4V2088.2M1878.0 2044.2V2079.4M1880.2 2036.1V2044.2M1882.4 2041.7V2076.1M1884.6 2076.1V2087.5M1886.8 2052.1V2084.4M1889.0 2037.0V2052.1M1891.2 2038.2V2067.6M1893.4 2067.6V2086.5M1895.6 2060.7V2086.4M1897.8 2037.9V2060.7M1900.0 2037.9V2059.1M1902.2 2059.1V2085.2M1904.4 2068.9V2085.7M1906.6 2040.4V2068.9M1908.8 2038.9V2051.5M1911.0 2051.5V2081.4M1913.2 2075.7V2084.8M1915.4 2045.3V2075.7M1917.6 2039.6V2045.6M1919.8 2045.6V2075.6M1922.0 2075.6V2084.0M1924.2 2051.8V2080.5M1926.4 2040.2V2051.8M1928.6 2041.9V2068.6M1930.8 2068.6V2083.7M1933.0 2059.1V2083.2M1935.2 2040.4V2059.1M1937.4 2040.4V2061.1M1939.6 2061.1V2083.4M1941.8 2066.6V2083.5M1944.0 2041.3V2066.6M1946.2 2040.3V2053.7M1948.4 2053.7V2081.4M1950.6 2073.8V2083.9M1952.8 2044.5V2073.8M1955.0 2040.0V2047.0M1957.2 2047.0V2077.1M1959.4 2077.1V2084.3M1961.6 2049.8V2079.8M1963.8 2039.2V2049.8M1966.0 2041.7V2070.8M1968.2 2070.8V2085.2M1970.4 2057.0V2084.2M1972.6 2038.5V2057.0M1974.8 2038.5V2063.0M1977.0 2063.0V2086.1M1979.2 2065.3V2086.1M1981.4 2038.0V2065.3M1983.6 2037.4V2054.4M1985.8 2054.4V2085.0M1988.0 2073.8V2087.0M1990.2 2040.6V2073.8M1992.4 2036.6V2046.3M1994.6 2046.3V2080.9M1996.8 2080.9V2087.9M1999.0 2046.2V2081.3M2001.2 2035.8V2046.2M2003.4 2039.7V2074.0M2005.6 2074.0V2088.4M2007.8 2054.2V2086.7M2010.0 2035.2V2054.2M2012.2 2035.8V2065.3M2014.4 2065.3V2088.9M2016.6 2063.5V2088.9M2018.8 2035.3V2063.5M2021.0 2035.2V2055.9M2023.2 2055.9V2087.6M2025.4 2072.6V2088.9M2027.6 2038.3V2072.6M2029.8 2035.1V2047.3M2032.0 2047.3V2083.0M2034.2 2080.2V2088.6M2036.4 2044.4V2080.2M2038.6 2035.7V2044.4M2040.8 2040.9V2075.8M2043.0 2075.8V2088.1M2045.2 2052.5V2085.3M2047.4 2036.3V2052.5M2049.6 2037.4V2067.1M2051.8 2067.1V2087.1M2054.0 2061.3V2087.1M2056.2 2037.2V2061.3M2058.4 2037.2V2058.4M2060.6 2058.4V2085.7M2062.8 2069.7V2086.3M2065.0 2040.1V2069.7M2067.2 2038.2V2050.7M2069.4 2050.7V2081.6M2071.6 2076.5V2085.3M2073.8 2045.3V2076.5M2076.0 2039.0V2045.3M2078.2 2044.8V2075.4M2080.4 2075.4V2084.5M2082.6 2052.1V2081.2M2084.8 2039.9V2052.1M2087.0 2041.3V2068.2M2089.2 2068.2V2083.9M2091.4 2059.6V2083.5M2093.6 2040.2V2059.6M2095.8 2040.2V2060.5M2098.0 2060.5V2083.4M2100.2 2067.2V2083.5M2102.4 2041.6V2067.2M2104.6 2040.5V2053.2M2106.8 2053.2V2080.9M2109.0 2074.1V2083.6M2111.2 2045.1V2074.1M2113.4 2040.3V2046.8M2115.6 2046.8V2076.4M2117.8 2076.4V2083.8M2120.0 2050.6V2079.8M2122.2 2039.8V2050.6M2124.4 2041.9V2070.0M2126.6 2070.0V2084.6M2128.8 2057.7V2083.8M2131.0 2039.1V2057.7M2133.2 2039.1V2062.3M2135.4 2062.3V2085.4M2137.6 2065.8V2085.4M2139.8 2038.9V2065.8M2142.0 2038.1V2054.0M2144.2 2054.0V2084.2M2146.4 2074.0V2086.3M2148.6 2041.5V2074.0M2150.8 2037.3V2046.1M2153.0 2046.1V2080.0M2155.2 2080.0V2087.3M2157.4 2047.1V2081.3M2159.6 2036.3V2047.1M2161.8 2039.8V2073.2M2164.0 2073.2V2088.0M2166.2 2055.0V2086.5M2168.4 2035.6V2055.0M2170.6 2036.0V2064.5M2172.8 2064.5V2088.7M2175.0 2064.2V2088.7M2177.2 2035.5V2064.2M2179.4 2035.2V2055.2M2181.6 2055.2V2087.4M2183.8 2073.3V2088.9M2186.0 2038.6V2073.3M2188.2 2035.0V2046.6M2190.4 2046.6V2082.7M2192.6 2081.0V2088.9M2194.8 2044.7V2081.0M2197.0 2035.4V2044.7M2199.2 2040.1V2075.4M2201.4 2075.4V2088.5M2203.6 2052.9V2086.0M2205.8 2035.8V2052.9M2208.0 2036.7V2066.5M2210.2 2066.5V2087.8M2212.4 2062.0V2087.8M2214.6 2036.6V2062.0M2216.8 2036.6V2057.6M2219.0 2057.6V2086.2M2221.2 2070.5V2087.0M2223.4 2039.7V2070.5M2225.6 2037.5V2049.8M2227.8 2049.8V2081.8M2230.0 2077.4V2085.9M2232.2 2045.3V2077.4M2234.4 2038.4V2045.3M2236.6 2043.9V2075.3M2238.8 2075.3V2085.1M2241.0 2052.4V2082.0M2243.2 2039.4V2052.4M2245.4 2040.6V2067.7M2247.6 2067.7V2084.3M2249.8 2060.2V2084.0M2252.0 2039.9V2060.2M2254.2 2039.9V2059.9M2256.4 2059.9V2083.5M2258.6 2067.8V2083.8M2260.8 2041.7V2067.8M2263.0 2040.4V2052.7M2265.2 2052.7V2080.6M2267.4 2074.6V2083.6M2269.6 2045.6V2074.6M2271.8 2040.4V2046.5M2274.0 2046.5V2075.8M2276.2 2075.8V2083.6M2278.4 2051.3V2079.9M2280.6 2040.2V2051.3M2282.8 2042.0V2069.3M2285.0 2069.3V2084.1M2287.2 2058.4V2083.5M2289.4 2039.6V2058.4M2291.6 2039.6V2061.7M2293.8 2061.7V2084.7M2296.0 2066.3V2084.7M2298.2 2039.7V2066.3M2300.4 2038.7V2053.7M2302.6 2053.7V2083.3M2304.8 2074.3V2085.7" stroke="#ff00ff" stroke-width="2.2" fill="none"/>
<path d="M1252.5 1817.6H1235.7V2118.6H1252.5M1445 1817.6H1460V2118.6H1445" stroke="#111" stroke-width="3.2" fill="none"/>
<path d="M496 1828h27v26l-13.5 8.4L496 1854Z" fill="#ff9a00"/>
<text x="509.5" y="1853" text-anchor="middle" style="font-family:'DejaVu Sans',sans-serif;font-weight:bold;font-size:24px" fill="#fff">T</text>
<path d="M1176.8 1811.3H1201L1188.6 1824.6Z" fill="#ff9a00"/>
<path d="M23 1886H56L66 1905.0L56 1924H23Z" fill="#6a6f73" stroke="#1f2fff" stroke-width="3"/>
<text x="40" y="1917.0" text-anchor="middle" style="font-family:'DejaVu Sans','Liberation Sans',sans-serif;font-size:33px" fill="#1a1aee">1</text>
<path d="M23 1983H56L66 2001.5L56 2020H23Z" fill="#6a7275" stroke="#8ff4f8" stroke-width="3"/>
<text x="40" y="2013.5" text-anchor="middle" style="font-family:'DejaVu Sans','Liberation Sans',sans-serif;font-size:33px" fill="#8af6f9">2</text>
<path d="M23 2047H56L66 2066.0L56 2085H23Z" fill="#c27ccc" stroke="#c27ccc" stroke-width="3"/>
<text x="40" y="2078.0" text-anchor="middle" style="font-family:'DejaVu Sans','Liberation Sans',sans-serif;font-size:33px" fill="#7a6a80">3</text>
<path d="M113.28 2290.14H2264.72" stroke="#2a2a2a" stroke-width="2.0" stroke-dasharray="2.0 42.780"/>
<path d="M293.40 2193.51V3343.09" stroke="#2a2a2a" stroke-width="2.0" stroke-dasharray="2.0 21.908"/>
<path d="M113.28 2409.68H2264.72" stroke="#2a2a2a" stroke-width="2.0" stroke-dasharray="2.0 42.780"/>
<path d="M517.30 2193.51V3343.09" stroke="#2a2a2a" stroke-width="2.0" stroke-dasharray="2.0 21.908"/>
<path d="M113.28 2529.22H2264.72" stroke="#2a2a2a" stroke-width="2.0" stroke-dasharray="2.0 42.780"/>
<path d="M741.20 2193.51V3343.09" stroke="#2a2a2a" stroke-width="2.0" stroke-dasharray="2.0 21.908"/>
<path d="M113.28 2648.76H2264.72" stroke="#2a2a2a" stroke-width="2.0" stroke-dasharray="2.0 42.780"/>
<path d="M965.10 2193.51V3343.09" stroke="#2a2a2a" stroke-width="2.0" stroke-dasharray="2.0 21.908"/>
<path d="M113.28 2887.84H2264.72" stroke="#2a2a2a" stroke-width="2.0" stroke-dasharray="2.0 42.780"/>
<path d="M1412.90 2193.51V3343.09" stroke="#2a2a2a" stroke-width="2.0" stroke-dasharray="2.0 21.908"/>
<path d="M113.28 3007.38H2264.72" stroke="#2a2a2a" stroke-width="2.0" stroke-dasharray="2.0 42.780"/>
<path d="M1636.80 2193.51V3343.09" stroke="#2a2a2a" stroke-width="2.0" stroke-dasharray="2.0 21.908"/>
<path d="M113.28 3126.92H2264.72" stroke="#2a2a2a" stroke-width="2.0" stroke-dasharray="2.0 42.780"/>
<path d="M1860.70 2193.51V3343.09" stroke="#2a2a2a" stroke-width="2.0" stroke-dasharray="2.0 21.908"/>
<path d="M113.28 3246.46H2264.72" stroke="#2a2a2a" stroke-width="2.0" stroke-dasharray="2.0 42.780"/>
<path d="M2084.60 2193.51V3343.09" stroke="#2a2a2a" stroke-width="2.0" stroke-dasharray="2.0 21.908"/>
<path d="M69.25 2768.30H2305.95" stroke="#2a2a2a" stroke-width="1.7" stroke-dasharray="1.7 2.778"/>
<path d="M1189.00 2170.25V3366.35" stroke="#2a2a2a" stroke-width="1.7" stroke-dasharray="1.7 3.082"/>
<path d="M114.3 2765.1v6.4M1185.8 2194.5h6.4M159.1 2765.1v6.4M1185.8 2218.4h6.4M203.8 2765.1v6.4M1185.8 2242.3h6.4M248.6 2765.1v6.4M1185.8 2266.2h6.4M293.4 2765.1v6.4M1185.8 2290.1h6.4M338.2 2765.1v6.4M1185.8 2314.0h6.4M383.0 2765.1v6.4M1185.8 2338.0h6.4M427.7 2765.1v6.4M1185.8 2361.9h6.4M472.5 2765.1v6.4M1185.8 2385.8h6.4M517.3 2765.1v6.4M1185.8 2409.7h6.4M562.1 2765.1v6.4M1185.8 2433.6h6.4M606.9 2765.1v6.4M1185.8 2457.5h6.4M651.6 2765.1v6.4M1185.8 2481.4h6.4M696.4 2765.1v6.4M1185.8 2505.3h6.4M741.2 2765.1v6.4M1185.8 2529.2h6.4M786.0 2765.1v6.4M1185.8 2553.1h6.4M830.8 2765.1v6.4M1185.8 2577.0h6.4M875.5 2765.1v6.4M1185.8 2600.9h6.4M920.3 2765.1v6.4M1185.8 2624.9h6.4M965.1 2765.1v6.4M1185.8 2648.8h6.4M1009.9 2765.1v6.4M1185.8 2672.7h6.4M1054.7 2765.1v6.4M1185.8 2696.6h6.4M1099.4 2765.1v6.4M1185.8 2720.5h6.4M1144.2 2765.1v6.4M1185.8 2744.4h6.4M1189.0 2765.1v6.4M1185.8 2768.3h6.4M1233.8 2765.1v6.4M1185.8 2792.2h6.4M1278.6 2765.1v6.4M1185.8 2816.1h6.4M1323.3 2765.1v6.4M1185.8 2840.0h6.4M1368.1 2765.1v6.4M1185.8 2863.9h6.4M1412.9 2765.1v6.4M1185.8 2887.8h6.4M1457.7 2765.1v6.4M1185.8 2911.7h6.4M1502.5 2765.1v6.4M1185.8 2935.7h6.4M1547.2 2765.1v6.4M1185.8 2959.6h6.4M1592.0 2765.1v6.4M1185.8 2983.5h6.4M1636.8 2765.1v6.4M1185.8 3007.4h6.4M1681.6 2765.1v6.4M1185.8 3031.3h6.4M1726.4 2765.1v6.4M1185.8 3055.2h6.4M1771.1 2765.1v6.4M1185.8 3079.1h6.4M1815.9 2765.1v6.4M1185.8 3103.0h6.4M1860.7 2765.1v6.4M1185.8 3126.9h6.4M1905.5 2765.1v6.4M1185.8 3150.8h6.4M1950.3 2765.1v6.4M1185.8 3174.7h6.4M1995.0 2765.1v6.4M1185.8 3198.6h6.4M2039.8 2765.1v6.4M1185.8 3222.6h6.4M2084.6 2765.1v6.4M1185.8 3246.5h6.4M2129.4 2765.1v6.4M1185.8 3270.4h6.4M2174.2 2765.1v6.4M1185.8 3294.3h6.4M2218.9 2765.1v6.4M1185.8 3318.2h6.4M2263.7 2765.1v6.4M1185.8 3342.1h6.4" stroke="#2a2a2a" stroke-width="2" fill="none"/>
<path d="M113.3 2760.8h2M113.3 2775.8h2M1181.5 2193.5v2M1196.5 2193.5v2M158.1 2760.8h2M158.1 2775.8h2M1181.5 2217.4v2M1196.5 2217.4v2M202.8 2760.8h2M202.8 2775.8h2M1181.5 2241.3v2M1196.5 2241.3v2M247.6 2760.8h2M247.6 2775.8h2M1181.5 2265.2v2M1196.5 2265.2v2M337.2 2760.8h2M337.2 2775.8h2M1181.5 2313.0v2M1196.5 2313.0v2M382.0 2760.8h2M382.0 2775.8h2M1181.5 2337.0v2M1196.5 2337.0v2M426.7 2760.8h2M426.7 2775.8h2M1181.5 2360.9v2M1196.5 2360.9v2M471.5 2760.8h2M471.5 2775.8h2M1181.5 2384.8v2M1196.5 2384.8v2M561.1 2760.8h2M561.1 2775.8h2M1181.5 2432.6v2M1196.5 2432.6v2M605.9 2760.8h2M605.9 2775.8h2M1181.5 2456.5v2M1196.5 2456.5v2M650.6 2760.8h2M650.6 2775.8h2M1181.5 2480.4v2M1196.5 2480.4v2M695.4 2760.8h2M695.4 2775.8h2M1181.5 2504.3v2M1196.5 2504.3v2M785.0 2760.8h2M785.0 2775.8h2M1181.5 2552.1v2M1196.5 2552.1v2M829.8 2760.8h2M829.8 2775.8h2M1181.5 2576.0v2M1196.5 2576.0v2M874.5 2760.8h2M874.5 2775.8h2M1181.5 2599.9v2M1196.5 2599.9v2M919.3 2760.8h2M919.3 2775.8h2M1181.5 2623.9v2M1196.5 2623.9v2M1008.9 2760.8h2M1008.9 2775.8h2M1181.5 2671.7v2M1196.5 2671.7v2M1053.7 2760.8h2M1053.7 2775.8h2M1181.5 2695.6v2M1196.5 2695.6v2M1098.4 2760.8h2M1098.4 2775.8h2M1181.5 2719.5v2M1196.5 2719.5v2M1143.2 2760.8h2M1143.2 2775.8h2M1181.5 2743.4v2M1196.5 2743.4v2M1232.8 2760.8h2M1232.8 2775.8h2M1181.5 2791.2v2M1196.5 2791.2v2M1277.6 2760.8h2M1277.6 2775.8h2M1181.5 2815.1v2M1196.5 2815.1v2M1322.3 2760.8h2M1322.3 2775.8h2M1181.5 2839.0v2M1196.5 2839.0v2M1367.1 2760.8h2M1367.1 2775.8h2M1181.5 2862.9v2M1196.5 2862.9v2M1456.7 2760.8h2M1456.7 2775.8h2M1181.5 2910.7v2M1196.5 2910.7v2M1501.5 2760.8h2M1501.5 2775.8h2M1181.5 2934.7v2M1196.5 2934.7v2M1546.2 2760.8h2M1546.2 2775.8h2M1181.5 2958.6v2M1196.5 2958.6v2M1591.0 2760.8h2M1591.0 2775.8h2M1181.5 2982.5v2M1196.5 2982.5v2M1680.6 2760.8h2M1680.6 2775.8h2M1181.5 3030.3v2M1196.5 3030.3v2M1725.4 2760.8h2M1725.4 2775.8h2M1181.5 3054.2v2M1196.5 3054.2v2M1770.1 2760.8h2M1770.1 2775.8h2M1181.5 3078.1v2M1196.5 3078.1v2M1814.9 2760.8h2M1814.9 2775.8h2M1181.5 3102.0v2M1196.5 3102.0v2M1904.5 2760.8h2M1904.5 2775.8h2M1181.5 3149.8v2M1196.5 3149.8v2M1949.3 2760.8h2M1949.3 2775.8h2M1181.5 3173.7v2M1196.5 3173.7v2M1994.0 2760.8h2M1994.0 2775.8h2M1181.5 3197.6v2M1196.5 3197.6v2M2038.8 2760.8h2M2038.8 2775.8h2M1181.5 3221.6v2M1196.5 3221.6v2M2128.4 2760.8h2M2128.4 2775.8h2M1181.5 3269.4v2M1196.5 3269.4v2M2173.2 2760.8h2M2173.2 2775.8h2M1181.5 3293.3v2M1196.5 3293.3v2M2217.9 2760.8h2M2217.9 2775.8h2M1181.5 3317.2v2M1196.5 3317.2v2M2262.7 2760.8h2M2262.7 2775.8h2M1181.5 3341.1v2M1196.5 3341.1v2M113.3 2176.0h2M113.3 3360.6h2M113.3 2171.1h2M113.3 3365.5h2M73.6 2193.5v2M2301.6 2193.5v2M69.1 2193.5v2M2306.1 2193.5v2M158.1 2176.0h2M158.1 3360.6h2M158.1 2171.1h2M158.1 3365.5h2M73.6 2217.4v2M2301.6 2217.4v2M69.1 2217.4v2M2306.1 2217.4v2M202.8 2176.0h2M202.8 3360.6h2M202.8 2171.1h2M202.8 3365.5h2M73.6 2241.3v2M2301.6 2241.3v2M69.1 2241.3v2M2306.1 2241.3v2M247.6 2176.0h2M247.6 3360.6h2M247.6 2171.1h2M247.6 3365.5h2M73.6 2265.2v2M2301.6 2265.2v2M69.1 2265.2v2M2306.1 2265.2v2M292.4 2176.0h2M292.4 3360.6h2M292.4 2171.1h2M292.4 3365.5h2M72.1 2289.1v2M2303.1 2289.1v2M76.4 2289.1v2M2298.8 2289.1v2M80.9 2289.1v2M2294.3 2289.1v2M337.2 2176.0h2M337.2 3360.6h2M337.2 2171.1h2M337.2 3365.5h2M73.6 2313.0v2M2301.6 2313.0v2M69.1 2313.0v2M2306.1 2313.0v2M382.0 2176.0h2M382.0 3360.6h2M382.0 2171.1h2M382.0 3365.5h2M73.6 2337.0v2M2301.6 2337.0v2M69.1 2337.0v2M2306.1 2337.0v2M426.7 2176.0h2M426.7 3360.6h2M426.7 2171.1h2M426.7 3365.5h2M73.6 2360.9v2M2301.6 2360.9v2M69.1 2360.9v2M2306.1 2360.9v2M471.5 2176.0h2M471.5 3360.6h2M471.5 2171.1h2M471.5 3365.5h2M73.6 2384.8v2M2301.6 2384.8v2M69.1 2384.8v2M2306.1 2384.8v2M516.3 2176.0h2M516.3 3360.6h2M516.3 2171.1h2M516.3 3365.5h2M72.1 2408.7v2M2303.1 2408.7v2M76.4 2408.7v2M2298.8 2408.7v2M80.9 2408.7v2M2294.3 2408.7v2M561.1 2176.0h2M561.1 3360.6h2M561.1 2171.1h2M561.1 3365.5h2M73.6 2432.6v2M2301.6 2432.6v2M69.1 2432.6v2M2306.1 2432.6v2M605.9 2176.0h2M605.9 3360.6h2M605.9 2171.1h2M605.9 3365.5h2M73.6 2456.5v2M2301.6 2456.5v2M69.1 2456.5v2M2306.1 2456.5v2M650.6 2176.0h2M650.6 3360.6h2M650.6 2171.1h2M650.6 3365.5h2M73.6 2480.4v2M2301.6 2480.4v2M69.1 2480.4v2M2306.1 2480.4v2M695.4 2176.0h2M695.4 3360.6h2M695.4 2171.1h2M695.4 3365.5h2M73.6 2504.3v2M2301.6 2504.3v2M69.1 2504.3v2M2306.1 2504.3v2M740.2 2176.0h2M740.2 3360.6h2M740.2 2171.1h2M740.2 3365.5h2M72.1 2528.2v2M2303.1 2528.2v2M76.4 2528.2v2M2298.8 2528.2v2M80.9 2528.2v2M2294.3 2528.2v2M785.0 2176.0h2M785.0 3360.6h2M785.0 2171.1h2M785.0 3365.5h2M73.6 2552.1v2M2301.6 2552.1v2M69.1 2552.1v2M2306.1 2552.1v2M829.8 2176.0h2M829.8 3360.6h2M829.8 2171.1h2M829.8 3365.5h2M73.6 2576.0v2M2301.6 2576.0v2M69.1 2576.0v2M2306.1 2576.0v2M874.5 2176.0h2M874.5 3360.6h2M874.5 2171.1h2M874.5 3365.5h2M73.6 2599.9v2M2301.6 2599.9v2M69.1 2599.9v2M2306.1 2599.9v2M919.3 2176.0h2M919.3 3360.6h2M919.3 2171.1h2M919.3 3365.5h2M73.6 2623.9v2M2301.6 2623.9v2M69.1 2623.9v2M2306.1 2623.9v2M964.1 2176.0h2M964.1 3360.6h2M964.1 2171.1h2M964.1 3365.5h2M72.1 2647.8v2M2303.1 2647.8v2M76.4 2647.8v2M2298.8 2647.8v2M80.9 2647.8v2M2294.3 2647.8v2M1008.9 2176.0h2M1008.9 3360.6h2M1008.9 2171.1h2M1008.9 3365.5h2M73.6 2671.7v2M2301.6 2671.7v2M69.1 2671.7v2M2306.1 2671.7v2M1053.7 2176.0h2M1053.7 3360.6h2M1053.7 2171.1h2M1053.7 3365.5h2M73.6 2695.6v2M2301.6 2695.6v2M69.1 2695.6v2M2306.1 2695.6v2M1098.4 2176.0h2M1098.4 3360.6h2M1098.4 2171.1h2M1098.4 3365.5h2M73.6 2719.5v2M2301.6 2719.5v2M69.1 2719.5v2M2306.1 2719.5v2M1143.2 2176.0h2M1143.2 3360.6h2M1143.2 2171.1h2M1143.2 3365.5h2M73.6 2743.4v2M2301.6 2743.4v2M69.1 2743.4v2M2306.1 2743.4v2M1188.0 2176.0h2M1188.0 3360.6h2M1188.0 2171.1h2M1188.0 3365.5h2M72.1 2767.3v2M2303.1 2767.3v2M76.4 2767.3v2M2298.8 2767.3v2M80.9 2767.3v2M2294.3 2767.3v2M1232.8 2176.0h2M1232.8 3360.6h2M1232.8 2171.1h2M1232.8 3365.5h2M73.6 2791.2v2M2301.6 2791.2v2M69.1 2791.2v2M2306.1 2791.2v2M1277.6 2176.0h2M1277.6 3360.6h2M1277.6 2171.1h2M1277.6 3365.5h2M73.6 2815.1v2M2301.6 2815.1v2M69.1 2815.1v2M2306.1 2815.1v2M1322.3 2176.0h2M1322.3 3360.6h2M1322.3 2171.1h2M1322.3 3365.5h2M73.6 2839.0v2M2301.6 2839.0v2M69.1 2839.0v2M2306.1 2839.0v2M1367.1 2176.0h2M1367.1 3360.6h2M1367.1 2171.1h2M1367.1 3365.5h2M73.6 2862.9v2M2301.6 2862.9v2M69.1 2862.9v2M2306.1 2862.9v2M1411.9 2176.0h2M1411.9 3360.6h2M1411.9 2171.1h2M1411.9 3365.5h2M72.1 2886.8v2M2303.1 2886.8v2M76.4 2886.8v2M2298.8 2886.8v2M80.9 2886.8v2M2294.3 2886.8v2M1456.7 2176.0h2M1456.7 3360.6h2M1456.7 2171.1h2M1456.7 3365.5h2M73.6 2910.7v2M2301.6 2910.7v2M69.1 2910.7v2M2306.1 2910.7v2M1501.5 2176.0h2M1501.5 3360.6h2M1501.5 2171.1h2M1501.5 3365.5h2M73.6 2934.7v2M2301.6 2934.7v2M69.1 2934.7v2M2306.1 2934.7v2M1546.2 2176.0h2M1546.2 3360.6h2M1546.2 2171.1h2M1546.2 3365.5h2M73.6 2958.6v2M2301.6 2958.6v2M69.1 2958.6v2M2306.1 2958.6v2M1591.0 2176.0h2M1591.0 3360.6h2M1591.0 2171.1h2M1591.0 3365.5h2M73.6 2982.5v2M2301.6 2982.5v2M69.1 2982.5v2M2306.1 2982.5v2M1635.8 2176.0h2M1635.8 3360.6h2M1635.8 2171.1h2M1635.8 3365.5h2M72.1 3006.4v2M2303.1 3006.4v2M76.4 3006.4v2M2298.8 3006.4v2M80.9 3006.4v2M2294.3 3006.4v2M1680.6 2176.0h2M1680.6 3360.6h2M1680.6 2171.1h2M1680.6 3365.5h2M73.6 3030.3v2M2301.6 3030.3v2M69.1 3030.3v2M2306.1 3030.3v2M1725.4 2176.0h2M1725.4 3360.6h2M1725.4 2171.1h2M1725.4 3365.5h2M73.6 3054.2v2M2301.6 3054.2v2M69.1 3054.2v2M2306.1 3054.2v2M1770.1 2176.0h2M1770.1 3360.6h2M1770.1 2171.1h2M1770.1 3365.5h2M73.6 3078.1v2M2301.6 3078.1v2M69.1 3078.1v2M2306.1 3078.1v2M1814.9 2176.0h2M1814.9 3360.6h2M1814.9 2171.1h2M1814.9 3365.5h2M73.6 3102.0v2M2301.6 3102.0v2M69.1 3102.0v2M2306.1 3102.0v2M1859.7 2176.0h2M1859.7 3360.6h2M1859.7 2171.1h2M1859.7 3365.5h2M72.1 3125.9v2M2303.1 3125.9v2M76.4 3125.9v2M2298.8 3125.9v2M80.9 3125.9v2M2294.3 3125.9v2M1904.5 2176.0h2M1904.5 3360.6h2M1904.5 2171.1h2M1904.5 3365.5h2M73.6 3149.8v2M2301.6 3149.8v2M69.1 3149.8v2M2306.1 3149.8v2M1949.3 2176.0h2M1949.3 3360.6h2M1949.3 2171.1h2M1949.3 3365.5h2M73.6 3173.7v2M2301.6 3173.7v2M69.1 3173.7v2M2306.1 3173.7v2M1994.0 2176.0h2M1994.0 3360.6h2M1994.0 2171.1h2M1994.0 3365.5h2M73.6 3197.6v2M2301.6 3197.6v2M69.1 3197.6v2M2306.1 3197.6v2M2038.8 2176.0h2M2038.8 3360.6h2M2038.8 2171.1h2M2038.8 3365.5h2M73.6 3221.6v2M2301.6 3221.6v2M69.1 3221.6v2M2306.1 3221.6v2M2083.6 2176.0h2M2083.6 3360.6h2M2083.6 2171.1h2M2083.6 3365.5h2M72.1 3245.5v2M2303.1 3245.5v2M76.4 3245.5v2M2298.8 3245.5v2M80.9 3245.5v2M2294.3 3245.5v2M2128.4 2176.0h2M2128.4 3360.6h2M2128.4 2171.1h2M2128.4 3365.5h2M73.6 3269.4v2M2301.6 3269.4v2M69.1 3269.4v2M2306.1 3269.4v2M2173.2 2176.0h2M2173.2 3360.6h2M2173.2 2171.1h2M2173.2 3365.5h2M73.6 3293.3v2M2301.6 3293.3v2M69.1 3293.3v2M2306.1 3293.3v2M2217.9 2176.0h2M2217.9 3360.6h2M2217.9 2171.1h2M2217.9 3365.5h2M73.6 3317.2v2M2301.6 3317.2v2M69.1 3317.2v2M2306.1 3317.2v2M2262.7 2176.0h2M2262.7 3360.6h2M2262.7 2171.1h2M2262.7 3365.5h2M73.6 3341.1v2M2301.6 3341.1v2M69.1 3341.1v2M2306.1 3341.1v2" stroke="#2a2a2a" stroke-width="2" fill="none"/>
<rect x="67.6" y="2168.6" width="2240.0" height="1199.4" fill="none" stroke="#1a1f1f" stroke-width="2.4"/>
<path d="M69.7 2326.0V2337.4M72.0 2316.7V2326.0M74.2 2309.7V2316.7M76.4 2305.2V2309.7M78.7 2303.1V2305.4M80.9 2302.5V2304.8M83.2 2304.0V2307.4M85.4 2307.4V2313.3M87.6 2313.3V2321.6M89.9 2321.6V2332.1M92.1 2332.1V2344.5M94.4 2344.5V2358.4M96.6 2358.4V2373.6M98.8 2373.6V2389.6M101.1 2389.6V2406.0M103.3 2406.0V2422.4M105.6 2422.4V2438.4M107.8 2438.4V2453.4M110.0 2453.4V2467.3M112.3 2467.3V2479.5M114.5 2479.5V2489.7M116.8 2489.7V2497.8M119.0 2497.8V2503.5M121.2 2503.5V2506.6M123.5 2505.7V2508.0M125.7 2504.8V2507.1M128.0 2500.1V2504.9M130.2 2492.9V2500.1M132.4 2483.3V2492.9M134.7 2471.8V2483.3M136.9 2458.5V2471.8M139.2 2443.8V2458.5M141.4 2428.1V2443.8M143.6 2411.8V2428.1M145.9 2395.4V2411.8M148.1 2379.2V2395.4M150.4 2363.7V2379.2M152.6 2349.2V2363.7M154.8 2336.2V2349.2M157.1 2325.1V2336.2M159.3 2316.0V2325.1M161.6 2309.2V2316.0M163.8 2304.9V2309.2M166.0 2302.9V2305.2M168.3 2302.6V2304.9M170.5 2304.2V2307.8M172.8 2307.8V2314.0M175.0 2314.0V2322.5M177.2 2322.5V2333.2M179.5 2333.2V2345.7M181.7 2345.7V2359.8M184.0 2359.8V2375.1M186.2 2375.1V2391.1M188.4 2391.1V2407.6M190.7 2407.6V2423.9M192.9 2423.9V2439.8M195.2 2439.8V2454.8M197.4 2454.8V2468.5M199.6 2468.5V2480.5M201.9 2480.5V2490.6M204.1 2490.6V2498.5M206.4 2498.5V2503.9M208.6 2503.9V2506.7M210.8 2505.8V2508.1M213.1 2504.5V2507.0M215.3 2499.5V2504.5M217.6 2492.1V2499.5M219.8 2482.3V2492.1M222.0 2470.6V2482.3M224.3 2457.2V2470.6M226.5 2442.4V2457.2M228.8 2426.6V2442.4M231.0 2410.3V2426.6M233.2 2393.8V2410.3M235.5 2377.7V2393.8M237.7 2362.3V2377.7M240.0 2347.9V2362.3M242.2 2335.1V2347.9M244.4 2324.1V2335.1M246.7 2315.2V2324.1M248.9 2308.7V2315.2M251.2 2304.6V2308.7M253.4 2302.8V2305.1M255.6 2302.7V2305.0M257.9 2304.4V2308.3M260.1 2308.3V2314.7M262.4 2314.7V2323.4M264.6 2323.4V2334.3M266.8 2334.3V2347.0M269.1 2347.0V2361.2M271.3 2361.2V2376.6M273.6 2376.6V2392.7M275.8 2392.7V2409.1M278.0 2409.1V2425.5M280.3 2425.5V2441.3M282.5 2441.3V2456.1M284.8 2456.1V2469.7M287.0 2469.7V2481.6M289.2 2481.6V2491.4M291.5 2491.4V2499.1M293.7 2499.1V2504.3M296.0 2504.3V2506.9M298.2 2505.9V2508.2M300.4 2504.2V2506.9M302.7 2498.9V2504.2M304.9 2491.2V2498.9M307.2 2481.3V2491.2M309.4 2469.4V2481.3M311.6 2455.8V2469.4M313.9 2440.9V2455.8M316.1 2425.1V2440.9M318.4 2408.7V2425.1M320.6 2392.3V2408.7M322.8 2376.2V2392.3M325.1 2360.9V2376.2M327.3 2346.7V2360.9M329.6 2334.0V2346.7M331.8 2323.2V2334.0M334.0 2314.5V2323.2M336.3 2308.2V2314.5M338.5 2304.4V2308.2M340.8 2302.6V2304.9M343.0 2302.8V2305.1M345.2 2304.7V2308.8M347.5 2308.8V2315.4M349.7 2315.4V2324.3M352.0 2324.3V2335.4M354.2 2335.4V2348.2M356.4 2348.2V2362.6M358.7 2362.6V2378.0M360.9 2378.0V2394.2M363.2 2394.2V2410.7M365.4 2410.7V2427.0M367.6 2427.0V2442.7M369.9 2442.7V2457.5M372.1 2457.5V2470.9M374.4 2470.9V2482.6M376.6 2482.6V2492.2M378.8 2492.2V2499.7M381.1 2499.7V2504.6M383.3 2504.6V2507.0M385.6 2505.8V2508.1M387.8 2503.8V2506.7M390.0 2498.3V2503.8M392.3 2490.4V2498.3M394.5 2480.3V2490.4M396.8 2468.2V2480.3M399.0 2454.5V2468.2M401.2 2439.5V2454.5M403.5 2423.6V2439.5M405.7 2407.2V2423.6M408.0 2390.8V2407.2M410.2 2374.7V2390.8M412.4 2359.5V2374.7M414.7 2345.4V2359.5M416.9 2332.9V2345.4M419.2 2322.3V2332.9M421.4 2313.8V2322.3M423.6 2307.7V2313.8M425.9 2304.2V2307.7M428.1 2302.5V2304.8M430.4 2302.9V2305.2M432.6 2305.0V2309.3M434.8 2309.3V2316.1M437.1 2316.1V2325.3M439.3 2325.3V2336.5M441.6 2336.5V2349.5M443.8 2349.5V2364.0M446.0 2364.0V2379.5M448.3 2379.5V2395.7M450.5 2395.7V2412.2M452.8 2412.2V2428.5M455.0 2428.5V2444.1M457.2 2444.1V2458.8M459.5 2458.8V2472.0M461.7 2472.0V2483.6M464.0 2483.6V2493.0M466.2 2493.0V2500.2M468.4 2500.2V2505.0M470.7 2504.9V2507.2M472.9 2505.7V2508.0M475.2 2503.4V2506.6M477.4 2497.7V2503.4M479.6 2489.5V2497.7M481.9 2479.2V2489.5M484.1 2467.0V2479.2M486.4 2453.1V2467.0M488.6 2438.0V2453.1M490.8 2422.1V2438.0M493.1 2405.7V2422.1M495.3 2389.3V2405.7M497.6 2373.3V2389.3M499.8 2358.1V2373.3M502.0 2344.2V2358.1M504.3 2331.8V2344.2M506.5 2321.4V2331.8M508.8 2313.1V2321.4M511.0 2307.3V2313.1M513.2 2304.0V2307.3M515.5 2302.4V2304.7M517.7 2303.1V2305.4M520.0 2305.3V2309.8M522.2 2309.8V2316.9M524.4 2316.9V2326.3M526.7 2326.3V2337.7M528.9 2337.7V2350.8M531.2 2350.8V2365.4M533.4 2365.4V2381.0M535.6 2381.0V2397.3M537.9 2397.3V2413.7M540.1 2413.7V2430.0M542.4 2430.0V2445.6M544.6 2445.6V2460.1M546.8 2460.1V2473.2M549.1 2473.2V2484.5M551.3 2484.5V2493.8M553.6 2493.8V2500.8M555.8 2500.8V2505.3M558.0 2505.1V2507.4M560.3 2505.6V2507.9M562.5 2503.0V2506.4M564.8 2497.0V2503.0M567.0 2488.7V2497.0M569.2 2478.1V2488.7M571.5 2465.7V2478.1M573.7 2451.7V2465.7M576.0 2436.5V2451.7M578.2 2420.5V2436.5M580.4 2404.1V2420.5M582.7 2387.7V2404.1M584.9 2371.8V2387.7M587.2 2356.7V2371.8M589.4 2342.9V2356.7M591.6 2330.8V2342.9M593.9 2320.5V2330.8M596.1 2312.5V2320.5M598.4 2306.8V2312.5M600.6 2303.8V2306.8M602.8 2302.3V2304.6M605.1 2303.3V2305.6M607.3 2305.6V2310.4M609.6 2310.4V2317.7M611.8 2317.7V2327.2M614.0 2327.2V2338.8M616.3 2338.8V2352.1M618.5 2352.1V2366.8M620.8 2366.8V2382.5M623.0 2382.5V2398.8M625.2 2398.8V2415.3M627.5 2415.3V2431.5M629.7 2431.5V2447.0M632.0 2447.0V2461.4M634.2 2461.4V2474.3M636.4 2474.3V2485.5M638.7 2485.5V2494.6M640.9 2494.6V2501.3M643.2 2501.3V2505.6M645.4 2505.2V2507.5M647.6 2505.5V2507.8M649.9 2502.5V2506.2M652.1 2496.3V2502.5M654.4 2487.8V2496.3M656.6 2477.1V2487.8M658.8 2464.5V2477.1M661.1 2450.4V2464.5M663.3 2435.1V2450.4M665.6 2419.0V2435.1M667.8 2402.6V2419.0M670.0 2386.2V2402.6M672.3 2370.3V2386.2M674.5 2355.4V2370.3M676.8 2341.7V2355.4M679.0 2329.7V2341.7M681.2 2319.7V2329.7M683.5 2311.8V2319.7M685.7 2306.4V2311.8M688.0 2303.6V2306.4M690.2 2302.3V2304.6M692.4 2303.4V2305.9M694.7 2305.9V2311.0M696.9 2311.0V2318.5M699.2 2318.5V2328.2M701.4 2328.2V2340.0M703.6 2340.0V2353.5M705.9 2353.5V2368.3M708.1 2368.3V2384.0M710.4 2384.0V2400.4M712.6 2400.4V2416.8M714.8 2416.8V2433.0M717.1 2433.0V2448.4M719.3 2448.4V2462.7M721.6 2462.7V2475.5M723.8 2475.5V2486.4M726.0 2486.4V2495.3M728.3 2495.3V2501.8M730.5 2501.8V2505.8M732.8 2505.4V2507.7M735.0 2505.4V2507.7M737.2 2502.0V2505.9M739.5 2495.6V2502.0M741.7 2486.8V2495.6M744.0 2476.0V2486.8M746.2 2463.2V2476.0M748.4 2449.0V2463.2M750.7 2433.6V2449.0M752.9 2417.5V2433.6M755.2 2401.0V2417.5M757.4 2384.7V2401.0M759.6 2368.9V2384.7M761.9 2354.0V2368.9M764.1 2340.5V2354.0M766.4 2328.7V2340.5M768.6 2318.8V2328.7M770.8 2311.2V2318.8M773.1 2306.1V2311.2M775.3 2303.5V2306.1M777.6 2302.2V2304.5M779.8 2303.6V2306.3M782.0 2306.3V2311.6M784.3 2311.6V2319.3M786.5 2319.3V2329.3M788.8 2329.3V2341.2M791.0 2341.2V2354.8M793.2 2354.8V2369.7M795.5 2369.7V2385.6M797.7 2385.6V2401.9M800.0 2401.9V2418.3M802.2 2418.3V2434.4M804.4 2434.4V2449.8M806.7 2449.8V2463.9M808.9 2463.9V2476.6M811.2 2476.6V2487.4M813.4 2487.4V2496.0M815.6 2496.0V2502.3M817.9 2502.3V2506.1M820.1 2505.5V2507.8M822.4 2505.3V2507.6M824.6 2501.5V2505.7M826.8 2494.9V2501.5M829.1 2485.9V2494.9M831.3 2474.8V2485.9M833.6 2461.9V2474.8M835.8 2447.6V2461.9M838.0 2432.1V2447.6M840.3 2415.9V2432.1M842.5 2399.5V2415.9M844.8 2383.2V2399.5M847.0 2367.5V2383.2M849.2 2352.7V2367.5M851.5 2339.3V2352.7M853.7 2327.7V2339.3M856.0 2318.0V2327.7M858.2 2310.6V2318.0M860.4 2305.7V2310.6M862.7 2303.4V2305.7M864.9 2302.3V2304.6M867.2 2303.7V2306.7M869.4 2306.7V2312.2M871.6 2312.2V2320.1M873.9 2320.1V2330.3M876.1 2330.3V2342.4M878.4 2342.4V2356.2M880.6 2356.2V2371.2M882.8 2371.2V2387.1M885.1 2387.1V2403.5M887.3 2403.5V2419.9M889.6 2419.9V2435.9M891.8 2435.9V2451.2M894.0 2451.2V2465.2M896.3 2465.2V2477.7M898.5 2477.7V2488.3M900.8 2488.3V2496.7M903.0 2496.7V2502.8M905.2 2502.8V2506.3M907.5 2505.6V2507.9M909.7 2505.1V2507.4M912.0 2501.0V2505.4M914.2 2494.1V2501.0M916.4 2485.0V2494.1M918.7 2473.7V2485.0M920.9 2460.7V2473.7M923.2 2446.2V2460.7M925.4 2430.6V2446.2M927.6 2414.4V2430.6M929.9 2397.9V2414.4M932.1 2381.7V2397.9M934.4 2366.0V2381.7M936.6 2351.4V2366.0M938.8 2338.2V2351.4M941.1 2326.7V2338.2M943.3 2317.2V2326.7M945.6 2310.1V2317.2M947.8 2305.4V2310.1M950.0 2303.2V2305.5M952.3 2302.4V2304.7M954.5 2303.9V2307.1M956.8 2307.1V2312.8M959.0 2312.8V2321.0M961.2 2321.0V2331.4M963.5 2331.4V2343.6M965.7 2343.6V2357.5M968.0 2357.5V2372.6M970.2 2372.6V2388.6M972.4 2388.6V2405.0M974.7 2405.0V2421.4M976.9 2421.4V2437.4M979.2 2437.4V2452.5M981.4 2452.5V2466.4M983.6 2466.4V2478.8M985.9 2478.8V2489.2M988.1 2489.2V2497.4M990.4 2497.4V2503.2M992.6 2503.2V2506.5M994.8 2505.7V2508.0M997.1 2505.0V2507.3M999.3 2500.5V2505.1M1001.6 2493.4V2500.5M1003.8 2484.0V2493.4M1006.0 2472.5V2484.0M1008.3 2459.4V2472.5M1010.5 2444.7V2459.4M1012.8 2429.1V2444.7M1015.0 2412.9V2429.1M1017.2 2396.4V2412.9M1019.5 2380.2V2396.4M1021.7 2364.6V2380.2M1024.0 2350.1V2364.6M1026.2 2337.0V2350.1M1028.4 2325.7V2337.0M1030.7 2316.5V2325.7M1032.9 2309.5V2316.5M1035.2 2305.1V2309.5M1037.4 2303.0V2305.3M1039.6 2302.5V2304.8M1041.9 2304.1V2307.5M1044.1 2307.5V2313.5M1046.4 2313.5V2321.9M1048.6 2321.9V2332.4M1050.8 2332.4V2344.9M1053.1 2344.9V2358.9M1055.3 2358.9V2374.1M1057.6 2374.1V2390.1M1059.8 2390.1V2406.5M1062.0 2406.5V2422.9M1064.3 2422.9V2438.8M1066.5 2438.8V2453.9M1068.8 2453.9V2467.7M1071.0 2467.7V2479.8M1073.2 2479.8V2490.0M1075.5 2490.0V2498.0M1077.7 2498.0V2503.6M1080.0 2503.6V2506.6M1082.2 2505.8V2508.1M1084.4 2504.8V2507.1M1086.7 2499.9V2504.8M1088.9 2492.6V2499.9M1091.2 2483.0V2492.6M1093.4 2471.4V2483.0M1095.6 2458.0V2471.4M1097.9 2443.3V2458.0M1100.1 2427.6V2443.3M1102.4 2411.3V2427.6M1104.6 2394.9V2411.3M1106.8 2378.7V2394.9M1109.1 2363.2V2378.7M1111.3 2348.8V2363.2M1113.6 2335.9V2348.8M1115.8 2324.7V2335.9M1118.0 2315.7V2324.7M1120.3 2309.0V2315.7M1122.5 2304.8V2309.0M1124.8 2302.9V2305.2M1127.0 2302.6V2304.9M1129.2 2304.3V2308.0M1131.5 2308.0V2314.2M1133.7 2314.2V2322.8M1136.0 2322.8V2333.5M1138.2 2333.5V2346.1M1140.4 2346.1V2360.3M1142.7 2360.3V2375.6M1144.9 2375.6V2391.7M1147.2 2391.7V2408.1M1149.4 2408.1V2424.4M1151.6 2424.4V2440.3M1153.9 2440.3V2455.2M1156.1 2455.2V2468.9M1158.4 2468.9V2480.9M1160.6 2480.9V2490.9M1162.8 2490.9V2498.7M1165.1 2498.7V2504.0M1167.3 2504.0V2506.8M1169.6 2505.8V2508.1M1171.8 2504.4V2506.9M1174.0 2499.3V2504.4M1176.3 2491.8V2499.3M1178.5 2482.0V2491.8M1180.8 2470.2V2482.0M1183.0 2456.7V2470.2M1185.2 2441.9V2456.7M1187.5 2426.1V2441.9M1189.7 2409.8V2426.1M1192.0 2393.3V2409.8M1194.2 2377.2V2393.3M1196.4 2361.8V2377.2M1198.7 2347.5V2361.8M1200.9 2334.7V2347.5M1203.2 2323.8V2334.7M1205.4 2315.0V2323.8M1207.6 2308.5V2315.0M1209.9 2304.5V2308.5M1212.1 2302.7V2305.0M1214.4 2302.7V2305.0M1216.6 2304.5V2308.5M1218.8 2308.5V2314.9M1221.1 2314.9V2323.7M1223.3 2323.7V2334.6M1225.6 2334.6V2347.4M1227.8 2347.4V2361.7M1230.0 2361.7V2377.1M1232.3 2377.1V2393.2M1234.5 2393.2V2409.6M1236.8 2409.6V2426.0M1239.0 2426.0V2441.7M1241.2 2441.7V2456.6M1243.5 2456.6V2470.1M1245.7 2470.1V2481.9M1248.0 2481.9V2491.7M1250.2 2491.7V2499.3M1252.4 2499.3V2504.4M1254.7 2504.4V2506.9M1256.9 2505.9V2508.2M1259.2 2504.1V2506.8M1261.4 2498.7V2504.1M1263.6 2491.0V2498.7M1265.9 2481.0V2491.0M1268.1 2469.0V2481.0M1270.4 2455.4V2469.0M1272.6 2440.4V2455.4M1274.8 2424.6V2440.4M1277.1 2408.2V2424.6M1279.3 2391.8V2408.2M1281.6 2375.7V2391.8M1283.8 2360.4V2375.7M1286.0 2346.2V2360.4M1288.3 2333.6V2346.2M1290.5 2322.9V2333.6M1292.8 2314.3V2322.9M1295.0 2308.0V2314.3M1297.2 2304.3V2308.0M1299.5 2302.6V2304.9M1301.7 2302.8V2305.1M1304.0 2304.8V2309.0M1306.2 2309.0V2315.6M1308.4 2315.6V2324.6M1310.7 2324.6V2335.8M1312.9 2335.8V2348.7M1315.2 2348.7V2363.1M1317.4 2363.1V2378.5M1319.6 2378.5V2394.7M1321.9 2394.7V2411.2M1324.1 2411.2V2427.5M1326.4 2427.5V2443.2M1328.6 2443.2V2457.9M1330.8 2457.9V2471.3M1333.1 2471.3V2482.9M1335.3 2482.9V2492.5M1337.6 2492.5V2499.9M1339.8 2499.9V2504.7M1342.0 2504.7V2507.0M1344.3 2505.8V2508.1M1346.5 2503.7V2506.7M1348.8 2498.1V2503.7M1351.0 2490.1V2498.1M1353.2 2479.9V2490.1M1355.5 2467.8V2479.9M1357.7 2454.0V2467.8M1360.0 2439.0V2454.0M1362.2 2423.1V2439.0M1364.4 2406.7V2423.1M1366.7 2390.3V2406.7M1368.9 2374.2V2390.3M1371.2 2359.0V2374.2M1373.4 2345.0V2359.0M1375.6 2332.5V2345.0M1377.9 2322.0V2332.5M1380.1 2313.6V2322.0M1382.4 2307.6V2313.6M1384.6 2304.1V2307.6M1386.8 2302.5V2304.8M1389.1 2303.0V2305.3M1391.3 2305.1V2309.5M1393.6 2309.5V2316.4M1395.8 2316.4V2325.6M1398.0 2325.6V2336.9M1400.3 2336.9V2350.0M1402.5 2350.0V2364.5M1404.8 2364.5V2380.0M1407.0 2380.0V2396.3M1409.2 2396.3V2412.7M1411.5 2412.7V2429.0M1413.7 2429.0V2444.6M1416.0 2444.6V2459.2M1418.2 2459.2V2472.4M1420.4 2472.4V2483.9M1422.7 2483.9V2493.3M1424.9 2493.3V2500.4M1427.2 2500.4V2505.1M1429.4 2504.9V2507.2M1431.6 2505.7V2508.0M1433.9 2503.2V2506.5M1436.1 2497.4V2503.2M1438.4 2489.2V2497.4M1440.6 2478.9V2489.2M1442.8 2466.6V2478.9M1445.1 2452.7V2466.6M1447.3 2437.5V2452.7M1449.6 2421.5V2437.5M1451.8 2405.1V2421.5M1454.0 2388.7V2405.1M1456.3 2372.8V2388.7M1458.5 2357.6V2372.8M1460.8 2343.8V2357.6M1463.0 2331.5V2343.8M1465.2 2321.1V2331.5M1467.5 2312.9V2321.1M1469.7 2307.1V2312.9M1472.0 2303.9V2307.1M1474.2 2302.4V2304.7M1476.4 2303.2V2305.5M1478.7 2305.4V2310.0M1480.9 2310.0V2317.2M1483.2 2317.2V2326.6M1485.4 2326.6V2338.0M1487.6 2338.0V2351.3M1489.9 2351.3V2365.9M1492.1 2365.9V2381.5M1494.4 2381.5V2397.8M1496.6 2397.8V2414.3M1498.8 2414.3V2430.5M1501.1 2430.5V2446.0M1503.3 2446.0V2460.5M1505.6 2460.5V2473.6M1507.8 2473.6V2484.9M1510.0 2484.9V2494.1M1512.3 2494.1V2501.0M1514.5 2501.0V2505.4M1516.8 2505.1V2507.4M1519.0 2505.6V2507.9M1521.2 2502.8V2506.3M1523.5 2496.8V2502.8M1525.7 2488.4V2496.8M1528.0 2477.8V2488.4M1530.2 2465.3V2477.8M1532.4 2451.3V2465.3M1534.7 2436.1V2451.3M1536.9 2420.0V2436.1M1539.2 2403.6V2420.0M1541.4 2387.2V2403.6M1543.6 2371.3V2387.2M1545.9 2356.3V2371.3M1548.1 2342.5V2356.3M1550.4 2330.4V2342.5M1552.6 2320.2V2330.4M1554.8 2312.3V2320.2M1557.1 2306.7V2312.3M1559.3 2303.7V2306.7M1561.6 2302.3V2304.6M1563.8 2303.4V2305.7M1566.0 2305.7V2310.6M1568.3 2310.6V2317.9M1570.5 2317.9V2327.6M1572.8 2327.6V2339.2M1575.0 2339.2V2352.6M1577.2 2352.6V2367.3M1579.5 2367.3V2383.0M1581.7 2383.0V2399.3M1584.0 2399.3V2415.8M1586.2 2415.8V2432.0M1588.4 2432.0V2447.4M1590.7 2447.4V2461.8M1592.9 2461.8V2474.7M1595.2 2474.7V2485.8M1597.4 2485.8V2494.8M1599.6 2494.8V2501.5M1601.9 2501.5V2505.6M1604.1 2505.3V2507.6M1606.4 2505.5V2507.8M1608.6 2502.3V2506.1M1610.8 2496.1V2502.3M1613.1 2487.5V2496.1M1615.3 2476.7V2487.5M1617.6 2464.1V2476.7M1619.8 2449.9V2464.1M1622.0 2434.6V2449.9M1624.3 2418.5V2434.6M1626.5 2402.1V2418.5M1628.8 2385.7V2402.1M1631.0 2369.9V2385.7M1633.2 2354.9V2369.9M1635.5 2341.3V2354.9M1637.7 2329.4V2341.3M1640.0 2319.4V2329.4M1642.2 2311.6V2319.4M1644.4 2306.3V2311.6M1646.7 2303.6V2306.3M1648.9 2302.2V2304.5M1651.2 2303.5V2306.0M1653.4 2306.0V2311.2M1655.6 2311.2V2318.8M1657.9 2318.8V2328.6M1660.1 2328.6V2340.4M1662.4 2340.4V2353.9M1664.6 2353.9V2368.8M1666.8 2368.8V2384.6M1669.1 2384.6V2400.9M1671.3 2400.9V2417.3M1673.6 2417.3V2433.5M1675.8 2433.5V2448.8M1678.0 2448.8V2463.1M1680.3 2463.1V2475.8M1682.5 2475.8V2486.8M1684.8 2486.8V2495.5M1687.0 2495.5V2502.0M1689.2 2502.0V2505.9M1691.5 2505.4V2507.7M1693.7 2505.4V2507.7M1696.0 2501.9V2505.8M1698.2 2495.4V2501.9M1700.4 2486.5V2495.4M1702.7 2475.6V2486.5M1704.9 2462.8V2475.6M1707.2 2448.5V2462.8M1709.4 2433.1V2448.5M1711.6 2417.0V2433.1M1713.9 2400.5V2417.0M1716.1 2384.2V2400.5M1718.4 2368.4V2384.2M1720.6 2353.6V2368.4M1722.8 2340.1V2353.6M1725.1 2328.3V2340.1M1727.3 2318.6V2328.3M1729.6 2311.0V2318.6M1731.8 2306.0V2311.0M1734.0 2303.5V2306.0M1736.3 2302.3V2304.6M1738.5 2303.6V2306.4M1740.8 2306.4V2311.8M1743.0 2311.8V2319.6M1745.2 2319.6V2329.6M1747.5 2329.6V2341.6M1749.7 2341.6V2355.3M1752.0 2355.3V2370.2M1754.2 2370.2V2386.1M1756.4 2386.1V2402.4M1758.7 2402.4V2418.9M1760.9 2418.9V2434.9M1763.2 2434.9V2450.2M1765.4 2450.2V2464.4M1767.6 2464.4V2477.0M1769.9 2477.0V2487.7M1772.1 2487.7V2496.3M1774.4 2496.3V2502.5M1776.6 2502.5V2506.1M1778.8 2505.5V2507.8M1781.1 2505.2V2507.5M1783.3 2501.4V2505.6M1785.6 2494.6V2501.4M1787.8 2485.6V2494.6M1790.0 2474.5V2485.6M1792.3 2461.5V2474.5M1794.5 2447.1V2461.5M1796.8 2431.6V2447.1M1799.0 2415.4V2431.6M1801.2 2399.0V2415.4M1803.5 2382.7V2399.0M1805.7 2367.0V2382.7M1808.0 2352.3V2367.0M1810.2 2338.9V2352.3M1812.4 2327.3V2338.9M1814.7 2317.8V2327.3M1816.9 2310.4V2317.8M1819.2 2305.6V2310.4M1821.4 2303.3V2305.6M1823.6 2302.3V2304.6M1825.9 2303.8V2306.8M1828.1 2306.8V2312.4M1830.4 2312.4V2320.4M1832.6 2320.4V2330.7M1834.8 2330.7V2342.8M1837.1 2342.8V2356.6M1839.3 2356.6V2371.7M1841.6 2371.7V2387.6M1843.8 2387.6V2404.0M1846.0 2404.0V2420.4M1848.3 2420.4V2436.4M1850.5 2436.4V2451.6M1852.8 2451.6V2465.6M1855.0 2465.6V2478.0M1857.2 2478.0V2488.6M1859.5 2488.6V2496.9M1861.7 2496.9V2502.9M1864.0 2502.9V2506.3M1866.2 2505.6V2507.9M1868.4 2505.1V2507.4M1870.7 2500.8V2505.3M1872.9 2493.9V2500.8M1875.2 2484.6V2493.9M1877.4 2473.3V2484.6M1879.6 2460.2V2473.3M1881.9 2445.7V2460.2M1884.1 2430.1V2445.7M1886.4 2413.9V2430.1M1888.6 2397.4V2413.9M1890.8 2381.2V2397.4M1893.1 2365.6V2381.2M1895.3 2351.0V2365.6M1897.6 2337.8V2351.0M1899.8 2326.3V2337.8M1902.0 2317.0V2326.3M1904.3 2309.9V2317.0M1906.5 2305.3V2309.9M1908.8 2303.1V2305.4M1911.0 2302.4V2304.7M1913.2 2303.9V2307.2M1915.5 2307.2V2313.1M1917.7 2313.1V2321.3M1920.0 2321.3V2331.7M1922.2 2331.7V2344.0M1924.4 2344.0V2358.0M1926.7 2358.0V2373.1M1928.9 2373.1V2389.1M1931.2 2389.1V2405.5M1933.4 2405.5V2421.9M1935.6 2421.9V2437.9M1937.9 2437.9V2453.0M1940.1 2453.0V2466.9M1942.4 2466.9V2479.1M1944.6 2479.1V2489.5M1946.8 2489.5V2497.6M1949.1 2497.6V2503.3M1951.3 2503.3V2506.5M1953.6 2505.7V2508.0M1955.8 2504.9V2507.2M1958.0 2500.3V2505.0M1960.3 2493.1V2500.3M1962.5 2483.7V2493.1M1964.8 2472.2V2483.7M1967.0 2458.9V2472.2M1969.2 2444.3V2458.9M1971.5 2428.6V2444.3M1973.7 2412.3V2428.6M1976.0 2395.9V2412.3M1978.2 2379.7V2395.9M1980.4 2364.1V2379.7M1982.7 2349.7V2364.1M1984.9 2336.6V2349.7M1987.2 2325.4V2336.6M1989.4 2316.2V2325.4M1991.6 2309.3V2316.2M1993.9 2305.0V2309.3M1996.1 2303.0V2305.3M1998.4 2302.5V2304.8M2000.6 2304.1V2307.7M2002.8 2307.7V2313.7M2005.1 2313.7V2322.2M2007.3 2322.2V2332.8M2009.6 2332.8V2345.3M2011.8 2345.3V2359.3M2014.0 2359.3V2374.6M2016.3 2374.6V2390.6M2018.5 2390.6V2407.1M2020.8 2407.1V2423.4M2023.0 2423.4V2439.3M2025.2 2439.3V2454.3M2027.5 2454.3V2468.1M2029.7 2468.1V2480.2M2032.0 2480.2V2490.3M2034.2 2490.3V2498.2M2036.4 2498.2V2503.8M2038.7 2503.8V2506.7M2040.9 2505.8V2508.1M2043.2 2504.7V2507.0M2045.4 2499.7V2504.7M2047.6 2492.3V2499.7M2049.9 2482.7V2492.3M2052.1 2471.0V2482.7M2054.4 2457.6V2471.0M2056.6 2442.8V2457.6M2058.8 2427.1V2442.8M2061.1 2410.8V2427.1M2063.3 2394.4V2410.8M2065.6 2378.2V2394.4M2067.8 2362.7V2378.2M2070.0 2348.4V2362.7M2072.3 2335.5V2348.4M2074.5 2324.4V2335.5M2076.8 2315.5V2324.4M2079.0 2308.8V2315.5M2081.2 2304.7V2308.8M2083.5 2302.8V2305.1M2085.7 2302.6V2304.9M2088.0 2304.4V2308.1M2090.2 2308.1V2314.4M2092.4 2314.4V2323.1M2094.7 2323.1V2333.9M2096.9 2333.9V2346.5M2099.2 2346.5V2360.7M2101.4 2360.7V2376.1M2103.6 2376.1V2392.2M2105.9 2392.2V2408.6M2108.1 2408.6V2424.9M2110.4 2424.9V2440.8M2112.6 2440.8V2455.7M2114.8 2455.7V2469.3M2117.1 2469.3V2481.2M2119.3 2481.2V2491.2M2121.6 2491.2V2498.9M2123.8 2498.9V2504.1M2126.0 2504.1V2506.8M2128.3 2505.9V2508.2M2130.5 2504.3V2506.9M2132.8 2499.1V2504.3M2135.0 2491.5V2499.1M2137.2 2481.6V2491.5M2139.5 2469.8V2481.6M2141.7 2456.3V2469.8M2144.0 2441.4V2456.3M2146.2 2425.6V2441.4M2148.4 2409.3V2425.6M2150.7 2392.8V2409.3M2152.9 2376.7V2392.8M2155.2 2361.3V2376.7M2157.4 2347.1V2361.3M2159.6 2334.4V2347.1M2161.9 2323.5V2334.4M2164.1 2314.7V2323.5M2166.4 2308.3V2314.7M2168.6 2304.5V2308.3M2170.8 2302.7V2305.0M2173.1 2302.8V2305.1M2175.3 2304.6V2308.6M2177.6 2308.6V2315.1M2179.8 2315.1V2324.0M2182.0 2324.0V2335.0M2184.3 2335.0V2347.8M2186.5 2347.8V2362.1M2188.8 2362.1V2377.6M2191.0 2377.6V2393.7M2193.2 2393.7V2410.1M2195.5 2410.1V2426.5M2197.7 2426.5V2442.2M2200.0 2442.2V2457.0M2202.2 2457.0V2470.5M2204.4 2470.5V2482.2M2206.7 2482.2V2492.0M2208.9 2492.0V2499.5M2211.2 2499.5V2504.5M2213.4 2504.5V2507.0M2215.6 2505.8V2508.1M2217.9 2503.9V2506.8M2220.1 2498.5V2503.9M2222.4 2490.7V2498.5M2224.6 2480.6V2490.7M2226.8 2468.6V2480.6M2229.1 2454.9V2468.6M2231.3 2440.0V2454.9M2233.6 2424.1V2440.0M2235.8 2407.7V2424.1M2238.0 2391.3V2407.7M2240.3 2375.2V2391.3M2242.5 2359.9V2375.2M2244.8 2345.8V2359.9M2247.0 2333.3V2345.8M2249.2 2322.6V2333.3M2251.5 2314.0V2322.6M2253.7 2307.9V2314.0M2256.0 2304.2V2307.9M2258.2 2302.6V2304.9M2260.4 2302.9V2305.2M2262.7 2304.9V2309.1M2264.9 2309.1V2315.9M2267.2 2315.9V2325.0M2269.4 2325.0V2336.1M2271.6 2336.1V2349.1M2273.9 2349.1V2363.5M2276.1 2363.5V2379.0M2278.4 2379.0V2395.2M2280.6 2395.2V2411.7M2282.8 2411.7V2428.0M2285.1 2428.0V2443.7M2287.3 2443.7V2458.3M2289.6 2458.3V2471.7M2291.8 2471.7V2483.2M2294.0 2483.2V2492.8M2296.3 2492.8V2500.0M2298.5 2500.0V2504.8M2300.8 2504.8V2507.1M2303.0 2505.8V2508.1M2305.2 2503.5V2506.6M2307.5 2497.9V2503.5" stroke="#1c1cff" stroke-width="2.3" fill="none"/>
<path d="M69.7 2644.3V2646.6M72.0 2644.2V2646.5M74.2 2643.9V2646.2M76.4 2643.4V2645.7M78.7 2642.7V2645.0M80.9 2642.0V2644.3M83.2 2641.2V2643.5M85.4 2640.5V2642.8M87.6 2639.9V2642.2M89.9 2639.5V2641.8M92.1 2639.4V2641.7M94.4 2639.5V2641.8M96.6 2639.8V2642.1M98.8 2640.3V2642.6M101.1 2641.1V2643.4M103.3 2642.8V2646.0M105.6 2646.0V2651.4M107.8 2651.4V2658.2M110.0 2658.2V2666.0M112.3 2666.0V2674.1M114.5 2674.1V2682.0M116.8 2682.0V2689.2M119.0 2689.2V2695.3M121.2 2695.3V2699.7M123.5 2699.7V2702.1M125.7 2701.3V2703.6M128.0 2701.2V2703.5M130.2 2700.5V2702.8M132.4 2699.1V2701.4M134.7 2695.6V2699.3M136.9 2690.5V2695.6M139.2 2684.1V2690.5M141.4 2677.1V2684.1M143.6 2669.8V2677.1M145.9 2662.7V2669.8M148.1 2656.3V2662.7M150.4 2650.9V2656.3M152.6 2647.1V2650.9M154.8 2645.1V2647.4M157.1 2644.2V2646.5M159.3 2644.3V2646.6M161.6 2644.3V2646.6M163.8 2644.0V2646.3M166.0 2643.5V2645.8M168.3 2642.8V2645.1M170.5 2642.1V2644.4M172.8 2641.3V2643.6M175.0 2640.6V2642.9M177.2 2640.0V2642.3M179.5 2639.6V2641.9M181.7 2639.4V2641.7M184.0 2639.4V2641.7M186.2 2639.7V2642.0M188.4 2640.2V2642.5M190.7 2641.0V2643.3M192.9 2642.7V2645.8M195.2 2645.8V2650.9M197.4 2650.9V2657.3M199.6 2657.3V2664.5M201.9 2664.5V2672.0M204.1 2672.0V2679.3M206.4 2679.3V2685.9M208.6 2685.9V2691.4M210.8 2691.4V2695.3M213.1 2695.3V2697.6M215.3 2696.5V2698.8M217.6 2696.3V2698.6M219.8 2695.6V2697.9M222.0 2694.2V2696.5M224.3 2690.9V2694.4M226.5 2686.0V2690.9M228.8 2680.2V2686.0M231.0 2673.7V2680.2M233.2 2667.0V2673.7M235.5 2660.6V2667.0M237.7 2654.8V2660.6M240.0 2650.0V2654.8M242.2 2646.7V2650.0M244.4 2644.8V2647.1M246.7 2644.1V2646.4M248.9 2644.3V2646.6M251.2 2644.3V2646.6M253.4 2644.0V2646.3M255.6 2643.6V2645.9M257.9 2643.0V2645.3M260.1 2642.2V2644.5M262.4 2641.5V2643.8M264.6 2640.7V2643.0M266.8 2640.1V2642.4M269.1 2639.7V2642.0M271.3 2639.4V2641.7M273.6 2639.4V2641.7M275.8 2639.6V2641.9M278.0 2640.1V2642.4M280.3 2640.7V2643.0M282.5 2642.1V2644.4M284.8 2644.2V2648.0M287.0 2648.0V2653.0M289.2 2653.0V2658.9M291.5 2658.9V2665.2M293.7 2665.2V2671.4M296.0 2671.4V2677.1M298.2 2677.1V2682.0M300.4 2682.0V2685.7M302.7 2685.7V2688.0M304.9 2687.3V2689.6M307.2 2687.4V2689.7M309.4 2686.8V2689.1M311.6 2685.8V2688.1M313.9 2684.0V2686.4M316.1 2680.3V2684.0M318.4 2675.8V2680.3M320.6 2670.6V2675.8M322.8 2665.2V2670.6M325.1 2659.8V2665.2M327.3 2654.8V2659.8M329.6 2650.6V2654.8M331.8 2647.4V2650.6M334.0 2645.3V2647.6M336.3 2644.2V2646.5M338.5 2644.3V2646.6M340.8 2644.3V2646.6M343.0 2644.1V2646.4M345.2 2643.7V2646.0M347.5 2643.1V2645.4M349.7 2642.4V2644.7M352.0 2641.6V2643.9M354.2 2640.9V2643.2M356.4 2640.2V2642.5M358.7 2639.7V2642.0M360.9 2639.4V2641.7M363.2 2639.4V2641.7M365.4 2639.6V2641.9M367.6 2640.2V2642.5M369.9 2641.8V2644.1M372.1 2644.1V2647.5M374.4 2647.5V2651.8M376.6 2651.8V2656.5M378.8 2656.5V2661.3M381.1 2661.3V2665.8M383.3 2665.8V2669.8M385.6 2669.8V2673.0M387.8 2673.0V2675.3M390.0 2674.5V2676.8M392.3 2674.9V2677.2M394.5 2674.4V2676.7M396.8 2673.6V2675.9M399.0 2672.2V2674.5M401.2 2669.9V2672.5M403.5 2666.5V2669.9M405.7 2662.7V2666.5M408.0 2658.7V2662.7M410.2 2654.8V2658.7M412.4 2651.2V2654.8M414.7 2648.1V2651.2M416.9 2645.8V2648.1M419.2 2644.0V2646.3M421.4 2643.2V2645.5M423.6 2643.4V2645.7M425.9 2643.9V2646.2M428.1 2644.2V2646.5M430.4 2644.3V2646.6M432.6 2644.2V2646.5M434.8 2643.8V2646.1M437.1 2643.2V2645.5M439.3 2642.5V2644.8M441.6 2641.7V2644.0M443.8 2641.0V2643.3M446.0 2640.5V2642.8M448.3 2640.6V2642.9M450.5 2641.5V2643.8M452.8 2643.1V2645.4M455.0 2645.3V2647.7M457.2 2647.7V2650.4M459.5 2650.4V2653.2M461.7 2653.2V2656.0M464.0 2656.0V2658.4M466.2 2658.2V2660.5M468.4 2659.8V2662.1M470.7 2660.8V2663.1M472.9 2661.2V2663.5M475.2 2661.2V2663.5M477.4 2660.7V2663.0M479.6 2659.4V2661.7M481.9 2657.5V2659.8M484.1 2654.8V2657.5M486.4 2651.8V2654.8M488.6 2648.8V2651.8M490.8 2646.1V2648.8M493.1 2643.7V2646.1M495.3 2641.6V2643.9M497.6 2640.2V2642.5M499.8 2639.6V2641.9M502.0 2639.9V2642.2M504.3 2640.4V2642.7M506.5 2641.1V2643.4M508.8 2641.9V2644.2M511.0 2642.6V2644.9M513.2 2643.3V2645.6M515.5 2643.8V2646.1M517.7 2644.2V2646.5M520.0 2644.3V2646.6M522.2 2644.2V2646.5M524.4 2643.9V2646.2M526.7 2643.3V2645.6M528.9 2642.8V2645.1M531.2 2643.0V2645.3M533.4 2643.8V2646.1M535.6 2645.4V2647.7M537.9 2647.4V2649.8M540.1 2649.8V2652.4M542.4 2652.4V2655.2M544.6 2655.2V2658.0M546.8 2658.0V2660.6M549.1 2660.5V2662.8M551.3 2662.4V2664.7M553.6 2663.7V2666.0M555.8 2664.5V2666.8M558.0 2665.1V2667.4M560.3 2665.2V2667.5M562.5 2664.3V2666.6M564.8 2662.6V2664.9M567.0 2660.0V2662.7M569.2 2656.7V2660.0M571.5 2653.2V2656.7M573.7 2649.7V2653.2M576.0 2646.4V2649.7M578.2 2643.7V2646.4M580.4 2641.6V2643.9M582.7 2640.1V2642.4M584.9 2639.5V2641.8M587.2 2639.4V2641.7M589.4 2639.5V2641.8M591.6 2639.8V2642.1M593.9 2640.3V2642.6M596.1 2641.0V2643.3M598.4 2641.7V2644.0M600.6 2642.5V2644.8M602.8 2643.2V2645.5M605.1 2643.8V2646.1M607.3 2644.1V2646.4M609.6 2644.3V2646.6M611.8 2644.2V2646.5M614.0 2644.0V2646.3M616.3 2644.3V2646.6M618.5 2645.5V2647.8M620.8 2647.6V2650.2M623.0 2650.2V2653.4M625.2 2653.4V2657.1M627.5 2657.1V2660.9M629.7 2660.9V2664.7M632.0 2664.7V2668.2M634.2 2668.2V2671.1M636.4 2671.0V2673.3M638.7 2672.8V2675.1M640.9 2673.9V2676.2M643.2 2674.6V2676.9M645.4 2675.0V2677.3M647.6 2674.4V2676.7M649.9 2672.6V2674.9M652.1 2669.4V2672.7M654.4 2665.4V2669.4M656.6 2660.9V2665.4M658.8 2656.2V2660.9M661.1 2651.6V2656.2M663.3 2647.5V2651.6M665.6 2644.3V2647.5M667.8 2642.1V2644.4M670.0 2640.7V2643.0M672.3 2640.0V2642.3M674.5 2639.6V2641.9M676.8 2639.4V2641.7M679.0 2639.4V2641.7M681.2 2639.7V2642.0M683.5 2640.2V2642.5M685.7 2640.8V2643.1M688.0 2641.6V2643.9M690.2 2642.3V2644.6M692.4 2643.1V2645.4M694.7 2643.7V2646.0M696.9 2644.1V2646.4M699.2 2644.3V2646.6M701.4 2644.3V2646.6M703.6 2644.0V2646.3M705.9 2643.7V2646.0M708.1 2644.3V2646.6M710.4 2646.2V2649.0M712.6 2649.0V2653.0M714.8 2653.0V2657.9M717.1 2657.9V2663.2M719.3 2663.2V2668.8M721.6 2668.8V2674.2M723.8 2674.2V2679.0M726.0 2679.0V2682.9M728.3 2682.9V2685.7M730.5 2685.3V2687.6M732.8 2686.5V2688.8M735.0 2687.2V2689.5M737.2 2687.2V2689.5M739.5 2685.8V2688.1M741.7 2682.2V2685.9M744.0 2677.4V2682.2M746.2 2671.6V2677.4M748.4 2665.3V2671.6M750.7 2658.9V2665.3M752.9 2652.9V2658.9M755.2 2647.7V2652.9M757.4 2643.8V2647.7M759.6 2641.5V2643.8M761.9 2640.1V2642.4M764.1 2639.7V2642.0M766.4 2639.4V2641.7M768.6 2639.4V2641.7M770.8 2639.6V2641.9M773.1 2640.1V2642.4M775.3 2640.7V2643.0M777.6 2641.4V2643.7M779.8 2642.2V2644.5M782.0 2642.9V2645.2M784.3 2643.6V2645.9M786.5 2644.0V2646.3M788.8 2644.3V2646.6M791.0 2644.3V2646.6M793.2 2644.1V2646.4M795.5 2643.9V2646.2M797.7 2645.1V2647.4M800.0 2647.3V2651.2M802.2 2651.2V2656.5M804.4 2656.5V2662.6M806.7 2662.6V2669.3M808.9 2669.3V2676.0M811.2 2676.0V2682.5M813.4 2682.5V2688.1M815.6 2688.1V2692.6M817.9 2692.6V2695.6M820.1 2695.2V2697.5M822.4 2696.4V2698.7M824.6 2697.0V2699.3M826.8 2696.7V2699.0M829.1 2694.3V2697.3M831.3 2689.6V2694.3M833.6 2683.6V2689.6M835.8 2676.5V2683.6M838.0 2668.9V2676.5M840.3 2661.3V2668.9M842.5 2654.3V2661.3M844.8 2648.3V2654.3M847.0 2643.9V2648.3M849.2 2641.6V2643.9M851.5 2640.2V2642.5M853.7 2639.7V2642.0M856.0 2639.4V2641.7M858.2 2639.4V2641.7M860.4 2639.6V2641.9M862.7 2640.0V2642.3M864.9 2640.6V2642.9M867.2 2641.3V2643.6M869.4 2642.1V2644.4M871.6 2642.8V2645.1M873.9 2643.5V2645.8M876.1 2644.0V2646.3M878.4 2644.3V2646.6M880.6 2644.3V2646.6M882.8 2644.1V2646.4M885.1 2643.7V2646.0M887.3 2643.7V2646.0M889.6 2645.2V2647.9M891.8 2647.9V2652.2M894.0 2652.2V2657.8M896.3 2657.8V2664.2M898.5 2664.2V2671.0M900.8 2671.0V2677.8M903.0 2677.8V2684.2M905.2 2684.2V2689.8M907.5 2689.8V2694.0M909.7 2694.0V2696.6M912.0 2696.0V2698.3M914.2 2697.0V2699.3M916.4 2697.5V2699.8M918.7 2696.6V2698.9M920.9 2693.4V2696.9M923.2 2688.1V2693.4M925.4 2681.6V2688.1M927.6 2674.2V2681.6M929.9 2666.4V2674.2M932.1 2658.9V2666.4M934.4 2652.0V2658.9M936.6 2646.4V2652.0M938.8 2642.6V2646.4M941.1 2640.7V2643.0M943.3 2639.8V2642.1M945.6 2639.5V2641.8M947.8 2639.4V2641.7M950.0 2639.5V2641.8M952.3 2639.9V2642.2M954.5 2640.5V2642.8M956.8 2641.2V2643.5M959.0 2641.9V2644.2M961.2 2642.7V2645.0M963.5 2643.4V2645.7M965.7 2643.9V2646.2M968.0 2644.2V2646.5M970.2 2644.3V2646.6M972.4 2644.2V2646.5M974.7 2643.9V2646.2M976.9 2644.4V2646.7M979.2 2646.2V2649.1M981.4 2649.1V2653.2M983.6 2653.2V2658.2M985.9 2658.2V2663.9M988.1 2663.9V2669.7M990.4 2669.7V2675.4M992.6 2675.4V2680.6M994.8 2680.6V2684.9M997.1 2684.9V2688.0M999.3 2687.7V2690.0M1001.6 2689.0V2691.3M1003.8 2689.8V2692.1M1006.0 2690.0V2692.3M1008.3 2688.8V2691.1M1010.5 2685.4V2689.0M1012.8 2680.5V2685.4M1015.0 2674.5V2680.5M1017.2 2668.0V2674.5M1019.5 2661.3V2668.0M1021.7 2654.9V2661.3M1024.0 2649.2V2654.9M1026.2 2644.8V2649.2M1028.4 2642.1V2644.8M1030.7 2640.5V2642.8M1032.9 2639.9V2642.2M1035.2 2639.5V2641.8M1037.4 2639.4V2641.7M1039.6 2639.5V2641.8M1041.9 2639.8V2642.1M1044.1 2640.4V2642.7M1046.4 2641.0V2643.3M1048.6 2641.8V2644.1M1050.8 2642.6V2644.9M1053.1 2643.3V2645.6M1055.3 2643.8V2646.1M1057.6 2644.2V2646.5M1059.8 2644.3V2646.6M1062.0 2644.2V2646.5M1064.3 2644.6V2646.9M1066.5 2646.3V2648.9M1068.8 2648.9V2652.8M1071.0 2652.8V2657.7M1073.2 2657.7V2663.1M1075.5 2663.1V2668.8M1077.7 2668.8V2674.3M1080.0 2674.3V2679.5M1082.2 2679.5V2683.8M1084.4 2683.8V2687.0M1086.7 2686.8V2689.1M1088.9 2688.2V2690.5M1091.2 2689.0V2691.3M1093.4 2689.4V2691.7M1095.6 2688.6V2690.9M1097.9 2685.9V2689.0M1100.1 2681.5V2685.9M1102.4 2676.0V2681.5M1104.6 2669.8V2676.0M1106.8 2663.3V2669.8M1109.1 2656.9V2663.3M1111.3 2651.2V2656.9M1113.6 2646.4V2651.2M1115.8 2643.3V2646.4M1118.0 2641.5V2643.8M1120.3 2640.5V2642.8M1122.5 2640.0V2642.3M1124.8 2639.6V2641.9M1127.0 2639.4V2641.7M1129.2 2639.5V2641.8M1131.5 2639.8V2642.1M1133.7 2640.3V2642.6M1136.0 2640.9V2643.2M1138.2 2641.7V2644.0M1140.4 2642.4V2644.7M1142.7 2643.1V2645.4M1144.9 2643.7V2646.0M1147.2 2644.1V2646.4M1149.4 2644.3V2646.6M1151.6 2644.3V2646.6M1153.9 2644.6V2646.9M1156.1 2646.0V2648.3M1158.4 2648.1V2651.0M1160.6 2651.0V2654.5M1162.8 2654.5V2658.4M1165.1 2658.4V2662.4M1167.3 2662.4V2666.4M1169.6 2666.4V2670.1M1171.8 2670.1V2673.2M1174.0 2673.2V2675.5M1176.3 2675.1V2677.4M1178.5 2676.1V2678.4M1180.8 2676.8V2679.1M1183.0 2677.3V2679.6M1185.2 2676.8V2679.1M1187.5 2675.2V2677.5M1189.7 2672.0V2675.2M1192.0 2667.9V2672.0M1194.2 2663.3V2667.9M1196.4 2658.4V2663.3M1198.7 2653.6V2658.4M1200.9 2649.2V2653.6M1203.2 2645.6V2649.2M1205.4 2643.2V2645.6M1207.6 2641.5V2643.8M1209.9 2640.7V2643.0M1212.1 2640.0V2642.3M1214.4 2639.6V2641.9M1216.6 2639.4V2641.7M1218.8 2639.4V2641.7M1221.1 2639.7V2642.0M1223.3 2640.2V2642.5M1225.6 2640.8V2643.1M1227.8 2641.5V2643.8M1230.0 2642.3V2644.6M1232.3 2643.0V2645.3M1234.5 2643.6V2645.9M1236.8 2644.1V2646.4M1239.0 2644.4V2646.7M1241.2 2644.9V2647.2M1243.5 2646.2V2648.5M1245.7 2648.0V2650.3M1248.0 2650.2V2652.7M1250.2 2652.7V2655.3M1252.4 2655.3V2657.9M1254.7 2657.9V2660.4M1256.9 2660.4V2662.7M1259.2 2662.5V2664.8M1261.4 2664.0V2666.3M1263.6 2665.1V2667.4M1265.9 2665.6V2667.9M1268.1 2666.1V2668.4M1270.4 2666.4V2668.7M1272.6 2666.1V2668.4M1274.8 2665.1V2667.4M1277.1 2663.3V2665.6M1279.3 2660.7V2663.4M1281.6 2657.7V2660.7M1283.8 2654.4V2657.7M1286.0 2651.2V2654.4M1288.3 2648.2V2651.2M1290.5 2645.7V2648.2M1292.8 2643.6V2645.9M1295.0 2642.3V2644.6M1297.2 2641.5V2643.8M1299.5 2640.8V2643.1M1301.7 2640.1V2642.4M1304.0 2639.7V2642.0M1306.2 2639.4V2641.7M1308.4 2639.4V2641.7M1310.7 2639.6V2641.9M1312.9 2640.1V2642.4M1315.2 2640.7V2643.0M1317.4 2641.5V2643.8M1319.6 2642.7V2645.0M1321.9 2644.5V2646.8M1324.1 2646.7V2649.1M1326.4 2649.1V2651.6M1328.6 2651.6V2653.9M1330.8 2653.9V2656.2M1333.1 2655.8V2658.1M1335.3 2657.3V2659.6M1337.6 2658.2V2660.5M1339.8 2658.6V2660.9M1342.0 2658.4V2660.7M1344.3 2657.8V2660.1M1346.5 2657.2V2659.5M1348.8 2656.4V2658.7M1351.0 2655.4V2657.7M1353.2 2654.1V2656.4M1355.5 2652.6V2654.9M1357.7 2651.0V2653.3M1360.0 2649.4V2651.7M1362.2 2647.9V2650.2M1364.4 2646.5V2648.8M1366.7 2645.4V2647.7M1368.9 2644.7V2647.0M1371.2 2644.3V2646.6M1373.4 2644.3V2646.6M1375.6 2644.3V2646.6M1377.9 2644.1V2646.4M1380.1 2643.7V2646.0M1382.4 2643.1V2645.4M1384.6 2642.4V2644.7M1386.8 2641.6V2643.9M1389.1 2640.9V2643.2M1391.3 2640.2V2642.5M1393.6 2639.7V2642.0M1395.8 2639.4V2641.7M1398.0 2639.4V2641.7M1400.3 2639.9V2642.2M1402.5 2641.5V2643.8M1404.8 2643.7V2646.8M1407.0 2646.8V2650.4M1409.2 2650.4V2654.4M1411.5 2654.4V2658.4M1413.7 2658.4V2662.2M1416.0 2662.2V2665.5M1418.2 2665.5V2667.9M1420.4 2667.6V2669.9M1422.7 2668.6V2670.9M1424.9 2668.7V2671.0M1427.2 2668.2V2670.5M1429.4 2667.3V2669.6M1431.6 2665.8V2668.1M1433.9 2663.3V2666.0M1436.1 2660.2V2663.3M1438.4 2656.8V2660.2M1440.6 2653.3V2656.8M1442.8 2650.1V2653.3M1445.1 2647.2V2650.1M1447.3 2645.0V2647.3M1449.6 2643.1V2645.4M1451.8 2642.1V2644.4M1454.0 2642.1V2644.4M1456.3 2642.7V2645.0M1458.5 2643.4V2645.7M1460.8 2643.9V2646.2M1463.0 2644.2V2646.5M1465.2 2644.3V2646.6M1467.5 2644.2V2646.5M1469.7 2643.8V2646.1M1472.0 2643.2V2645.5M1474.2 2642.5V2644.8M1476.4 2641.8V2644.1M1478.7 2641.0V2643.3M1480.9 2640.4V2642.7M1483.2 2639.8V2642.1M1485.4 2639.5V2641.8M1487.6 2639.4V2641.7M1489.9 2640.2V2642.5M1492.1 2642.2V2645.1M1494.4 2645.1V2649.2M1496.6 2649.2V2654.0M1498.8 2654.0V2659.2M1501.1 2659.2V2664.4M1503.3 2664.4V2669.3M1505.6 2669.3V2673.4M1507.8 2673.4V2676.6M1510.0 2676.4V2678.7M1512.3 2677.7V2680.0M1514.5 2677.8V2680.1M1516.8 2677.3V2679.6M1519.0 2676.2V2678.5M1521.2 2674.1V2676.6M1523.5 2670.5V2674.1M1525.7 2666.3V2670.5M1528.0 2661.6V2666.3M1530.2 2656.9V2661.6M1532.4 2652.5V2656.9M1534.7 2648.6V2652.5M1536.9 2645.5V2648.6M1539.2 2643.4V2645.7M1541.4 2642.0V2644.3M1543.6 2641.9V2644.2M1545.9 2642.6V2644.9M1548.1 2643.3V2645.6M1550.4 2643.8V2646.1M1552.6 2644.2V2646.5M1554.8 2644.3V2646.6M1557.1 2644.2V2646.5M1559.3 2643.9V2646.2M1561.6 2643.4V2645.7M1563.8 2642.7V2645.0M1566.0 2641.9V2644.2M1568.3 2641.2V2643.5M1570.5 2640.5V2642.8M1572.8 2639.9V2642.2M1575.0 2639.5V2641.8M1577.2 2639.4V2641.7M1579.5 2639.5V2641.8M1581.7 2640.7V2643.0M1584.0 2642.9V2646.9M1586.2 2646.9V2652.4M1588.4 2652.4V2658.9M1590.7 2658.9V2665.8M1592.9 2665.8V2672.8M1595.2 2672.8V2679.3M1597.4 2679.3V2684.9M1599.6 2684.9V2689.2M1601.9 2689.2V2691.8M1604.1 2691.1V2693.4M1606.4 2691.3V2693.6M1608.6 2690.7V2693.0M1610.8 2689.5V2691.8M1613.1 2686.6V2689.8M1615.3 2682.1V2686.6M1617.6 2676.6V2682.1M1619.8 2670.5V2676.6M1622.0 2664.1V2670.5M1624.3 2658.0V2664.1M1626.5 2652.6V2658.0M1628.8 2648.1V2652.6M1631.0 2645.0V2648.1M1633.2 2643.1V2645.4M1635.5 2642.6V2644.9M1637.7 2643.1V2645.4M1640.0 2643.7V2646.0M1642.2 2644.1V2646.4M1644.4 2644.3V2646.6M1646.7 2644.3V2646.6M1648.9 2644.0V2646.3M1651.2 2643.5V2645.8M1653.4 2642.8V2645.1M1655.6 2642.1V2644.4M1657.9 2641.3V2643.6M1660.1 2640.6V2642.9M1662.4 2640.0V2642.3M1664.6 2639.6V2641.9M1666.8 2639.4V2641.7M1669.1 2639.6V2641.9M1671.3 2640.9V2643.6M1673.6 2643.6V2648.3M1675.8 2648.3V2654.6M1678.0 2654.6V2661.9M1680.3 2661.9V2669.7M1682.5 2669.7V2677.5M1684.8 2677.5V2684.6M1687.0 2684.6V2690.7M1689.2 2690.7V2695.3M1691.5 2695.3V2698.0M1693.7 2697.3V2699.6M1696.0 2697.5V2699.8M1698.2 2696.8V2699.1M1700.4 2695.3V2697.6M1702.7 2691.7V2695.5M1704.9 2686.4V2691.7M1707.2 2680.0V2686.4M1709.4 2673.0V2680.0M1711.6 2665.8V2673.0M1713.9 2658.9V2665.8M1716.1 2652.8V2658.9M1718.4 2647.9V2652.8M1720.6 2644.6V2647.9M1722.8 2642.8V2645.1M1725.1 2642.4V2644.7M1727.3 2643.0V2645.3M1729.6 2643.6V2645.9M1731.8 2644.1V2646.4M1734.0 2644.3V2646.6M1736.3 2644.3V2646.6M1738.5 2644.0V2646.3M1740.8 2643.6V2645.9M1743.0 2642.9V2645.2M1745.2 2642.2V2644.5M1747.5 2641.4V2643.7M1749.7 2640.7V2643.0M1752.0 2640.1V2642.4M1754.2 2639.6V2641.9M1756.4 2639.4V2641.7M1758.7 2639.8V2642.1M1760.9 2641.3V2644.7M1763.2 2644.7V2650.2M1765.4 2650.2V2657.2M1767.6 2657.2V2665.2M1769.9 2665.2V2673.6M1772.1 2673.6V2681.8M1774.4 2681.8V2689.3M1776.6 2689.3V2695.5M1778.8 2695.5V2700.0M1781.1 2700.0V2702.5M1783.3 2701.6V2703.9M1785.6 2701.6V2703.9M1787.8 2700.8V2703.1M1790.0 2698.8V2701.4M1792.3 2694.3V2698.8M1794.5 2688.3V2694.3M1796.8 2681.1V2688.3M1799.0 2673.4V2681.1M1801.2 2665.6V2673.4M1803.5 2658.3V2665.6M1805.7 2651.9V2658.3M1808.0 2646.9V2651.9M1810.2 2643.8V2646.9M1812.4 2642.2V2644.5M1814.7 2642.2V2644.5M1816.9 2642.9V2645.2M1819.2 2643.5V2645.8M1821.4 2644.0V2646.3M1823.6 2644.3V2646.6M1825.9 2644.3V2646.6M1828.1 2644.1V2646.4M1830.4 2643.7V2646.0M1832.6 2643.1V2645.4M1834.8 2642.3V2644.6M1837.1 2641.6V2643.9M1839.3 2640.8V2643.1M1841.6 2640.2V2642.5M1843.8 2639.7V2642.0M1846.0 2639.4V2641.7M1848.3 2640.0V2642.3M1850.5 2641.7V2645.1M1852.8 2645.1V2650.2M1855.0 2650.2V2656.6M1857.2 2656.6V2663.7M1859.5 2663.7V2671.1M1861.7 2671.1V2678.2M1864.0 2678.2V2684.5M1866.2 2684.5V2689.7M1868.4 2689.7V2693.3M1870.7 2693.0V2695.3M1872.9 2693.9V2696.2M1875.2 2693.7V2696.0M1877.4 2692.8V2695.1M1879.6 2690.6V2693.3M1881.9 2686.2V2690.6M1884.1 2680.5V2686.2M1886.4 2674.0V2680.5M1888.6 2667.2V2674.0M1890.8 2660.4V2667.2M1893.1 2654.2V2660.4M1895.3 2648.9V2654.2M1897.6 2645.0V2648.9M1899.8 2642.8V2645.1M1902.0 2641.6V2643.9M1904.3 2642.0V2644.3M1906.5 2642.8V2645.1M1908.8 2643.4V2645.7M1911.0 2643.9V2646.2M1913.2 2644.2V2646.5M1915.5 2644.3V2646.6M1917.7 2644.1V2646.4M1920.0 2643.8V2646.1M1922.2 2643.2V2645.5M1924.4 2642.5V2644.8M1926.7 2641.7V2644.0M1928.9 2641.0V2643.3M1931.2 2640.3V2642.6M1933.4 2639.8V2642.1M1935.6 2639.5V2641.8M1937.9 2639.4V2641.7M1940.1 2639.9V2642.2M1942.4 2641.6V2644.5M1944.6 2644.5V2648.7M1946.8 2648.7V2654.0M1949.1 2654.0V2659.8M1951.3 2659.8V2665.8M1953.6 2665.8V2671.6M1955.8 2671.6V2676.7M1958.0 2676.7V2680.7M1960.3 2680.7V2683.5M1962.5 2683.0V2685.3M1964.8 2683.6V2685.9M1967.0 2683.2V2685.5M1969.2 2682.3V2684.6M1971.5 2680.6V2682.9M1973.7 2677.1V2680.6M1976.0 2672.6V2677.1M1978.2 2667.5V2672.6M1980.4 2662.1V2667.5M1982.7 2656.8V2662.1M1984.9 2652.0V2656.8M1987.2 2648.0V2652.0M1989.4 2645.0V2648.0M1991.6 2643.1V2645.4M1993.9 2642.2V2644.5M1996.1 2642.7V2645.0M1998.4 2643.3V2645.6M2000.6 2643.9V2646.2M2002.8 2644.2V2646.5M2005.1 2644.3V2646.6M2007.3 2644.2V2646.5M2009.6 2643.8V2646.1M2011.8 2643.3V2645.6M2014.0 2642.6V2644.9M2016.3 2641.8V2644.1M2018.5 2641.1V2643.4M2020.8 2640.4V2642.7M2023.0 2639.9V2642.2M2025.2 2639.5V2641.8M2027.5 2640.3V2642.6M2029.7 2642.2V2644.9M2032.0 2644.9V2648.7M2034.2 2648.7V2653.3M2036.4 2653.3V2658.2M2038.7 2658.2V2663.1M2040.9 2663.1V2667.8M2043.2 2667.8V2671.8M2045.4 2671.8V2674.9M2047.6 2674.7V2677.0M2049.9 2676.0V2678.3M2052.1 2676.2V2678.5M2054.4 2675.8V2678.1M2056.6 2674.8V2677.1M2058.8 2672.7V2675.2M2061.1 2669.1V2672.7M2063.3 2664.8V2669.1M2065.6 2660.2V2664.8M2067.8 2655.5V2660.2M2070.0 2651.1V2655.5M2072.3 2647.3V2651.1M2074.5 2644.3V2647.3M2076.8 2642.2V2644.5M2079.0 2641.0V2643.3M2081.2 2641.0V2643.3M2083.5 2641.8V2644.1M2085.7 2642.5V2644.8M2088.0 2643.2V2645.5M2090.2 2643.8V2646.1M2092.4 2644.2V2646.5M2094.7 2644.3V2646.6M2096.9 2644.2V2646.5M2099.2 2643.9V2646.2M2101.4 2643.4V2645.7M2103.6 2642.7V2645.0M2105.9 2642.0V2644.3M2108.1 2641.2V2643.5M2110.4 2640.5V2642.8M2112.6 2640.1V2642.4M2114.8 2640.5V2642.8M2117.1 2641.6V2643.9M2119.3 2643.4V2645.7M2121.6 2645.7V2648.2M2123.8 2648.2V2651.1M2126.0 2651.1V2654.0M2128.3 2654.0V2656.7M2130.5 2656.7V2659.1M2132.8 2658.8V2661.1M2135.0 2660.3V2662.6M2137.2 2661.1V2663.4M2139.5 2661.3V2663.6M2141.7 2661.1V2663.4M2144.0 2660.4V2662.7M2146.2 2658.9V2661.2M2148.4 2656.8V2659.2M2150.7 2654.0V2656.8M2152.9 2651.0V2654.0M2155.2 2648.1V2651.0M2157.4 2645.5V2648.1M2159.6 2643.2V2645.5M2161.9 2641.4V2643.7M2164.1 2640.2V2642.5M2166.4 2639.8V2642.1M2168.6 2640.2V2642.5M2170.8 2640.9V2643.2M2173.1 2641.6V2643.9M2175.3 2642.4V2644.7M2177.6 2643.1V2645.4M2179.8 2643.7V2646.0M2182.0 2644.1V2646.4M2184.3 2644.3V2646.6M2186.5 2644.5V2646.8M2188.8 2645.1V2647.4M2191.0 2646.2V2648.5M2193.2 2647.9V2650.2M2195.5 2649.9V2652.2M2197.7 2652.1V2654.4M2200.0 2654.4V2656.7M2202.2 2656.6V2658.9M2204.4 2658.7V2661.0M2206.7 2660.4V2662.7M2208.9 2661.7V2664.0M2211.2 2662.6V2664.9M2213.4 2663.2V2665.5M2215.6 2663.7V2666.0M2217.9 2663.9V2666.2M2220.1 2663.5V2665.8M2222.4 2662.3V2664.6M2224.6 2660.5V2662.8M2226.8 2657.9V2660.6M2229.1 2655.0V2657.9M2231.3 2651.9V2655.0M2233.6 2649.0V2651.9M2235.8 2646.3V2649.0M2238.0 2644.1V2646.4M2240.3 2642.4V2644.7M2242.5 2641.4V2643.7M2244.8 2640.7V2643.0M2247.0 2640.1V2642.4M2249.2 2639.6V2641.9M2251.5 2639.4V2641.7M2253.7 2639.4V2641.7M2256.0 2639.7V2642.0M2258.2 2640.1V2642.4M2260.4 2640.7V2643.0M2262.7 2641.5V2643.8M2264.9 2642.3V2644.6M2267.2 2643.0V2645.3M2269.4 2643.6V2645.9M2271.6 2644.1V2646.4M2273.9 2645.2V2647.5M2276.1 2647.2V2649.9M2278.4 2649.9V2653.3M2280.6 2653.3V2657.3M2282.8 2657.3V2661.4M2285.1 2661.4V2665.5M2287.3 2665.5V2669.3M2289.6 2669.3V2672.5M2291.8 2672.5V2675.1M2294.0 2674.8V2677.1M2296.3 2675.9V2678.2M2298.5 2676.4V2678.7M2300.8 2676.6V2678.9M2303.0 2676.5V2678.8M2305.2 2675.7V2678.0M2307.5 2673.8V2676.2" stroke="#10f0f2" stroke-width="2.3" fill="none"/>
<path d="M69.7 3047.0V3055.9M72.0 3039.7V3047.0M74.2 3034.2V3039.7M76.4 3030.6V3034.2M78.7 3028.7V3031.0M80.9 3028.1V3030.4M83.2 3029.5V3032.0M85.4 3032.0V3036.5M87.6 3036.5V3042.8M89.9 3042.8V3050.9M92.1 3050.9V3060.5M94.4 3060.5V3071.4M96.6 3071.4V3083.4M98.8 3083.4V3096.2M101.1 3096.2V3109.5M103.3 3109.5V3123.0M105.6 3123.0V3136.4M107.8 3136.4V3149.4M110.0 3149.4V3161.6M112.3 3161.6V3172.9M114.5 3172.9V3183.0M116.8 3183.0V3191.6M119.0 3191.6V3198.5M121.2 3198.5V3203.7M123.5 3203.7V3206.8M125.7 3206.3V3208.6M128.0 3206.4V3208.7M130.2 3204.3V3207.1M132.4 3199.4V3204.3M134.7 3192.8V3199.4M136.9 3184.4V3192.8M139.2 3174.5V3184.4M141.4 3163.4V3174.5M143.6 3151.2V3163.4M145.9 3138.3V3151.2M148.1 3125.0V3138.3M150.4 3111.5V3125.0M152.6 3098.1V3111.5M154.8 3085.2V3098.1M157.1 3073.1V3085.2M159.3 3062.0V3073.1M161.6 3052.2V3062.0M163.8 3043.9V3052.2M166.0 3037.3V3043.9M168.3 3032.6V3037.3M170.5 3029.8V3032.6M172.8 3028.2V3030.5M175.0 3028.5V3030.8M177.2 3030.2V3033.5M179.5 3033.5V3038.6M181.7 3038.6V3045.6M184.0 3045.6V3054.2M186.2 3054.2V3064.4M188.4 3064.4V3075.7M190.7 3075.7V3088.1M192.9 3088.1V3101.1M195.2 3101.1V3114.6M197.4 3114.6V3128.2M199.6 3128.2V3141.5M201.9 3141.5V3154.3M204.1 3154.3V3166.4M206.4 3166.4V3177.3M208.6 3177.3V3186.9M210.8 3186.9V3195.0M213.1 3195.0V3201.3M215.3 3201.3V3205.7M217.6 3205.7V3208.1M219.8 3207.2V3209.5M222.0 3206.6V3208.9M224.3 3203.2V3206.9M226.5 3197.6V3203.2M228.8 3190.2V3197.6M231.0 3181.2V3190.2M233.2 3170.6V3181.2M235.5 3158.9V3170.6M237.7 3146.2V3158.9M240.0 3132.8V3146.2M242.2 3119.1V3132.8M244.4 3105.4V3119.1M246.7 3091.9V3105.4M248.9 3079.0V3091.9M251.2 3066.9V3079.0M253.4 3056.0V3066.9M255.6 3046.5V3056.0M257.9 3038.6V3046.5M260.1 3032.5V3038.6M262.4 3028.4V3032.5M264.6 3026.2V3028.5M266.8 3025.0V3027.3M269.1 3026.3V3028.6M271.3 3028.6V3032.8M273.6 3032.8V3039.0M275.8 3039.0V3046.9M278.0 3046.9V3056.6M280.3 3056.6V3067.6M282.5 3067.6V3079.7M284.8 3079.7V3092.8M287.0 3092.8V3106.4M289.2 3106.4V3120.4M291.5 3120.4V3134.3M293.7 3134.3V3147.8M296.0 3147.8V3160.7M298.2 3160.7V3172.6M300.4 3172.6V3183.3M302.7 3183.3V3192.5M304.9 3192.5V3200.1M307.2 3200.1V3205.8M309.4 3205.8V3209.6M311.6 3209.3V3211.6M313.9 3210.1V3212.4M316.1 3208.7V3211.0M318.4 3204.3V3208.7M320.6 3198.0V3204.3M322.8 3189.9V3198.0M325.1 3180.2V3189.9M327.3 3169.1V3180.2M329.6 3156.9V3169.1M331.8 3143.9V3156.9M334.0 3130.3V3143.9M336.3 3116.5V3130.3M338.5 3102.7V3116.5M340.8 3089.4V3102.7M343.0 3076.8V3089.4M345.2 3065.1V3076.8M347.5 3054.8V3065.1M349.7 3045.9V3054.8M352.0 3038.7V3045.9M354.2 3033.5V3038.7M356.4 3030.2V3033.5M358.7 3028.5V3030.8M360.9 3028.4V3030.7M363.2 3030.0V3033.1M365.4 3033.1V3038.2M367.6 3038.2V3045.2M369.9 3045.2V3054.0M372.1 3054.0V3064.4M374.4 3064.4V3076.1M376.6 3076.1V3088.9M378.8 3088.9V3102.5M381.1 3102.5V3116.6M383.3 3116.6V3130.9M385.6 3130.9V3145.0M387.8 3145.0V3158.6M390.0 3158.6V3171.5M392.3 3171.5V3183.2M394.5 3183.2V3193.7M396.8 3193.7V3202.6M399.0 3202.6V3209.7M401.2 3209.7V3214.9M403.5 3214.9V3218.1M405.7 3217.4V3219.7M408.0 3217.3V3219.6M410.2 3214.3V3217.7M412.4 3208.8V3214.3M414.7 3201.4V3208.8M416.9 3192.3V3201.4M419.2 3181.7V3192.3M421.4 3169.9V3181.7M423.6 3157.0V3169.9M425.9 3143.4V3157.0M428.1 3129.4V3143.4M430.4 3115.4V3129.4M432.6 3101.6V3115.4M434.8 3088.4V3101.6M437.1 3076.0V3088.4M439.3 3064.8V3076.0M441.6 3055.0V3064.8M443.8 3046.7V3055.0M446.0 3040.3V3046.7M448.3 3035.9V3040.3M450.5 3033.5V3035.9M452.8 3032.1V3034.4M455.0 3032.8V3035.1M457.2 3034.8V3038.5M459.5 3038.5V3044.3M461.7 3044.3V3051.8M464.0 3051.8V3061.1M466.2 3061.1V3071.8M468.4 3071.8V3083.7M470.7 3083.7V3096.6M472.9 3096.6V3110.1M475.2 3110.1V3123.9M477.4 3123.9V3137.8M479.6 3137.8V3151.3M481.9 3151.3V3164.3M484.1 3164.3V3176.4M486.4 3176.4V3187.3M488.6 3187.3V3196.8M490.8 3196.8V3204.6M493.1 3204.6V3210.6M495.3 3210.6V3214.7M497.6 3214.6V3216.9M499.8 3215.7V3218.0M502.0 3214.7V3217.0M504.3 3211.0V3214.9M506.5 3205.1V3211.0M508.8 3197.3V3205.1M511.0 3188.0V3197.3M513.2 3177.1V3188.0M515.5 3165.1V3177.1M517.7 3152.1V3165.1M520.0 3138.6V3152.1M522.2 3124.7V3138.6M524.4 3110.8V3124.7M526.7 3097.2V3110.8M528.9 3084.2V3097.2M531.2 3072.2V3084.2M533.4 3061.4V3072.2M535.6 3052.1V3061.4M537.9 3044.4V3052.1M540.1 3038.6V3044.4M542.4 3034.8V3038.6M544.6 3032.9V3035.2M546.8 3032.5V3034.8M549.1 3034.0V3036.9M551.3 3036.9V3041.9M553.6 3041.9V3048.8M555.8 3048.8V3057.6M558.0 3057.6V3067.9M560.3 3067.9V3079.6M562.5 3079.6V3092.4M564.8 3092.4V3106.0M567.0 3106.0V3120.1M569.2 3120.1V3134.4M571.5 3134.4V3148.6M573.7 3148.6V3162.4M576.0 3162.4V3175.4M578.2 3175.4V3187.4M580.4 3187.4V3198.1M582.7 3198.1V3207.2M584.9 3207.2V3214.7M587.2 3214.7V3220.2M589.4 3220.2V3223.7M591.6 3223.3V3225.6M593.9 3223.8V3226.1M596.1 3221.7V3224.6M598.4 3216.8V3221.7M600.6 3210.1V3216.8M602.8 3201.6V3210.1M605.1 3191.7V3201.6M607.3 3180.5V3191.7M609.6 3168.3V3180.5M611.8 3155.4V3168.3M614.0 3142.1V3155.4M616.3 3128.7V3142.1M618.5 3115.5V3128.7M620.8 3102.8V3115.5M623.0 3090.9V3102.8M625.2 3080.1V3090.9M627.5 3070.6V3080.1M629.7 3062.6V3070.6M632.0 3056.4V3062.6M634.2 3052.0V3056.4M636.4 3049.5V3052.0M638.7 3048.0V3050.3M640.9 3048.2V3050.5M643.2 3049.9V3053.1M645.4 3053.1V3058.1M647.6 3058.1V3065.0M649.9 3065.0V3073.5M652.1 3073.5V3083.5M654.4 3083.5V3094.7M656.6 3094.7V3106.8M658.8 3106.8V3119.7M661.1 3119.7V3132.9M663.3 3132.9V3146.2M665.6 3146.2V3159.3M667.8 3159.3V3171.9M670.0 3171.9V3183.7M672.3 3183.7V3194.5M674.5 3194.5V3203.9M676.8 3203.9V3211.9M679.0 3211.9V3218.1M681.2 3218.1V3222.5M683.5 3222.5V3224.9M685.7 3224.0V3226.3M688.0 3223.3V3225.6M690.2 3220.0V3223.6M692.4 3214.5V3220.0M694.7 3207.2V3214.5M696.9 3198.4V3207.2M699.2 3188.1V3198.4M701.4 3176.7V3188.1M703.6 3164.4V3176.7M705.9 3151.5V3164.4M708.1 3138.2V3151.5M710.4 3124.9V3138.2M712.6 3111.9V3124.9M714.8 3099.5V3111.9M717.1 3087.9V3099.5M719.3 3077.5V3087.9M721.6 3068.3V3077.5M723.8 3060.8V3068.3M726.0 3055.0V3060.8M728.3 3051.0V3055.0M730.5 3048.8V3051.1M732.8 3047.7V3050.0M735.0 3048.6V3050.9M737.2 3050.7V3054.5M739.5 3054.5V3060.2M741.7 3060.2V3067.6M744.0 3067.6V3076.6M746.2 3076.6V3086.9M748.4 3086.9V3098.3M750.7 3098.3V3110.6M752.9 3110.6V3123.4M755.2 3123.4V3136.6M757.4 3136.6V3149.7M759.6 3149.7V3162.5M761.9 3162.5V3174.7M764.1 3174.7V3185.9M766.4 3185.9V3196.1M768.6 3196.1V3204.8M770.8 3204.8V3212.0M773.1 3212.0V3217.4M775.3 3217.4V3220.9M777.6 3220.6V3222.9M779.8 3221.3V3223.6M782.0 3219.9V3222.2M784.3 3215.6V3219.9M786.5 3209.5V3215.6M788.8 3201.7V3209.5M791.0 3192.3V3201.7M793.2 3181.6V3192.3M795.5 3169.9V3181.6M797.7 3157.3V3169.9M800.0 3144.1V3157.3M802.2 3130.8V3144.1M804.4 3117.5V3130.8M806.7 3104.5V3117.5M808.9 3092.3V3104.5M811.2 3081.0V3092.3M813.4 3070.8V3081.0M815.6 3062.1V3070.8M817.9 3055.1V3062.1M820.1 3049.8V3055.1M822.4 3046.5V3049.8M824.6 3044.6V3046.9M826.8 3044.3V3046.6M829.1 3045.8V3048.6M831.3 3048.6V3053.3M833.6 3053.3V3059.8M835.8 3059.8V3068.1M838.0 3068.1V3077.9M840.3 3077.9V3089.0M842.5 3089.0V3101.0M844.8 3101.0V3113.9M847.0 3113.9V3127.2M849.2 3127.2V3140.7M851.5 3140.7V3154.1M853.7 3154.1V3167.0M856.0 3167.0V3179.2M858.2 3179.2V3190.3M860.4 3190.3V3200.2M862.7 3200.2V3208.6M864.9 3208.6V3215.3M867.2 3215.3V3220.2M869.4 3220.2V3223.1M871.6 3222.4V3224.7M873.9 3222.3V3224.6M876.1 3219.8V3222.9M878.4 3214.7V3219.8M880.6 3207.8V3214.7M882.8 3199.2V3207.8M885.1 3189.1V3199.2M887.3 3177.9V3189.1M889.6 3165.6V3177.9M891.8 3152.6V3165.6M894.0 3139.2V3152.6M896.3 3125.7V3139.2M898.5 3112.3V3125.7M900.8 3099.5V3112.3M903.0 3087.5V3099.5M905.2 3076.6V3087.5M907.5 3067.0V3076.6M909.7 3058.9V3067.0M912.0 3052.5V3058.9M914.2 3048.1V3052.5M916.4 3045.5V3048.1M918.7 3044.1V3046.4M920.9 3044.7V3047.0M923.2 3046.6V3050.0M925.4 3050.0V3055.3M927.6 3055.3V3062.4M929.9 3062.4V3071.2M932.1 3071.2V3081.5M934.4 3081.5V3093.0M936.6 3093.0V3105.5M938.8 3105.5V3118.7M941.1 3118.7V3132.2M943.3 3132.2V3145.8M945.6 3145.8V3159.3M947.8 3159.3V3172.1M950.0 3172.1V3184.1M952.3 3184.1V3195.0M954.5 3195.0V3204.6M956.8 3204.6V3212.5M959.0 3212.5V3218.7M961.2 3218.7V3222.9M963.5 3222.9V3225.2M965.7 3224.1V3226.4M968.0 3223.0V3225.3M970.2 3219.1V3223.1M972.4 3213.0V3219.1M974.7 3205.1V3213.0M976.9 3195.5V3205.1M979.2 3184.5V3195.5M981.4 3172.2V3184.5M983.6 3159.1V3172.2M985.9 3145.2V3159.1M988.1 3131.1V3145.2M990.4 3116.9V3131.1M992.6 3103.0V3116.9M994.8 3089.8V3103.0M997.1 3077.5V3089.8M999.3 3066.3V3077.5M1001.6 3056.7V3066.3M1003.8 3048.7V3056.7M1006.0 3042.6V3048.7M1008.3 3038.5V3042.6M1010.5 3036.3V3038.6M1012.8 3035.3V3037.6M1015.0 3036.6V3038.9M1017.2 3038.9V3043.2M1019.5 3043.2V3049.6M1021.7 3049.6V3057.9M1024.0 3057.9V3067.8M1026.2 3067.8V3079.1M1028.4 3079.1V3091.7M1030.7 3091.7V3105.1M1032.9 3105.1V3119.2M1035.2 3119.2V3133.5M1037.4 3133.5V3147.7M1039.6 3147.7V3161.6M1041.9 3161.6V3174.8M1044.1 3174.8V3186.9M1046.4 3186.9V3197.8M1048.6 3197.8V3207.2M1050.8 3207.2V3214.7M1053.1 3214.7V3220.3M1055.3 3220.3V3223.7M1057.6 3223.1V3225.4M1059.8 3223.2V3225.5M1062.0 3220.8V3223.9M1064.3 3215.5V3220.8M1066.5 3208.2V3215.5M1068.8 3199.1V3208.2M1071.0 3188.4V3199.1M1073.2 3176.3V3188.4M1075.5 3163.1V3176.3M1077.7 3149.0V3163.1M1080.0 3134.4V3149.0M1082.2 3119.7V3134.4M1084.4 3105.1V3119.7M1086.7 3090.9V3105.1M1088.9 3077.6V3090.9M1091.2 3065.4V3077.6M1093.4 3054.5V3065.4M1095.6 3045.2V3054.5M1097.9 3037.8V3045.2M1100.1 3032.3V3037.8M1102.4 3029.0V3032.3M1104.6 3027.2V3029.5M1106.8 3027.1V3029.4M1109.1 3028.8V3032.1M1111.3 3032.1V3037.5M1113.6 3037.5V3044.8M1115.8 3044.8V3053.9M1118.0 3053.9V3064.6M1120.3 3064.6V3076.7M1122.5 3076.7V3089.7M1124.8 3089.7V3103.6M1127.0 3103.6V3117.8M1129.2 3117.8V3132.1M1131.5 3132.1V3146.3M1133.7 3146.3V3159.8M1136.0 3159.8V3172.5M1138.2 3172.5V3184.0M1140.4 3184.0V3194.1M1142.7 3194.1V3202.6M1144.9 3202.6V3209.2M1147.2 3209.2V3213.8M1149.4 3213.8V3216.4M1151.6 3215.5V3217.8M1153.9 3214.9V3217.2M1156.1 3211.5V3215.2M1158.4 3205.6V3211.5M1160.6 3197.8V3205.6M1162.8 3188.3V3197.8M1165.1 3177.3V3188.3M1167.3 3164.9V3177.3M1169.6 3151.6V3164.9M1171.8 3137.5V3151.6M1174.0 3123.0V3137.5M1176.3 3108.5V3123.0M1178.5 3094.3V3108.5M1180.8 3080.7V3094.3M1183.0 3067.9V3080.7M1185.2 3056.4V3067.9M1187.5 3046.3V3056.4M1189.7 3037.9V3046.3M1192.0 3031.3V3037.9M1194.2 3026.8V3031.3M1196.4 3024.4V3026.8M1198.7 3023.1V3025.4M1200.9 3024.2V3026.5M1203.2 3026.4V3030.7M1205.4 3030.7V3037.0M1207.6 3037.0V3045.3M1209.9 3045.3V3055.2M1212.1 3055.2V3066.6M1214.4 3066.6V3079.2M1216.6 3079.2V3092.7M1218.8 3092.7V3106.9M1221.1 3106.9V3121.3M1223.3 3121.3V3135.7M1225.6 3135.7V3149.7M1227.8 3149.7V3163.1M1230.0 3163.1V3175.5M1232.3 3175.5V3186.6M1234.5 3186.6V3196.2M1236.8 3196.2V3204.1M1239.0 3204.1V3210.1M1241.2 3210.1V3214.0M1243.5 3213.8V3216.1M1245.7 3214.7V3217.0M1248.0 3213.3V3215.7M1250.2 3208.8V3213.3M1252.4 3202.4V3208.8M1254.7 3194.1V3202.4M1256.9 3184.1V3194.1M1259.2 3172.8V3184.1M1261.4 3160.3V3172.8M1263.6 3146.9V3160.3M1265.9 3132.9V3146.9M1268.1 3118.7V3132.9M1270.4 3104.6V3118.7M1272.6 3090.9V3104.6M1274.8 3077.9V3090.9M1277.1 3065.9V3077.9M1279.3 3055.2V3065.9M1281.6 3046.1V3055.2M1283.8 3038.7V3046.1M1286.0 3033.2V3038.7M1288.3 3029.7V3033.2M1290.5 3027.9V3030.2M1292.8 3027.7V3030.0M1295.0 3029.3V3032.1M1297.2 3032.1V3037.0M1299.5 3037.0V3043.9M1301.7 3043.9V3052.5M1304.0 3052.5V3062.9M1306.2 3062.9V3074.6M1308.4 3074.6V3087.4M1310.7 3087.4V3101.1M1312.9 3101.1V3115.3M1315.2 3115.3V3129.7M1317.4 3129.7V3144.0M1319.6 3144.0V3157.8M1321.9 3157.8V3170.9M1324.1 3170.9V3182.9M1326.4 3182.9V3193.5M1328.6 3193.5V3202.6M1330.8 3202.6V3209.9M1333.1 3209.9V3215.3M1335.3 3215.3V3218.5M1337.6 3217.9V3220.2M1339.8 3217.9V3220.2M1342.0 3215.4V3218.6M1344.3 3210.2V3215.4M1346.5 3203.0V3210.2M1348.8 3194.0V3203.0M1351.0 3183.3V3194.0M1353.2 3171.3V3183.3M1355.5 3158.1V3171.3M1357.7 3144.1V3158.1M1360.0 3129.7V3144.1M1362.2 3115.1V3129.7M1364.4 3100.6V3115.1M1366.7 3086.7V3100.6M1368.9 3073.6V3086.7M1371.2 3061.6V3073.6M1373.4 3051.0V3061.6M1375.6 3042.1V3051.0M1377.9 3035.0V3042.1M1380.1 3030.0V3035.0M1382.4 3027.1V3030.0M1384.6 3025.6V3027.9M1386.8 3026.1V3028.4M1389.1 3028.1V3032.0M1391.3 3032.0V3038.0M1393.6 3038.0V3046.0M1395.8 3046.0V3055.8M1398.0 3055.8V3067.3M1400.3 3067.3V3080.1M1402.5 3080.1V3094.0M1404.8 3094.0V3108.6M1407.0 3108.6V3123.7M1409.2 3123.7V3138.9M1411.5 3138.9V3153.8M1413.7 3153.8V3168.1M1416.0 3168.1V3181.5M1418.2 3181.5V3193.7M1420.4 3193.7V3204.4M1422.7 3204.4V3213.4M1424.9 3213.4V3220.4M1427.2 3220.4V3225.2M1429.4 3225.2V3227.9M1431.6 3227.0V3229.3M1433.9 3226.2V3228.5M1436.1 3222.2V3226.4M1438.4 3215.7V3222.2M1440.6 3207.2V3215.7M1442.8 3196.8V3207.2M1445.1 3184.9V3196.8M1447.3 3171.7V3184.9M1449.6 3157.4V3171.7M1451.8 3142.5V3157.4M1454.0 3127.3V3142.5M1456.3 3112.1V3127.3M1458.5 3097.2V3112.1M1460.8 3083.0V3097.2M1463.0 3069.8V3083.0M1465.2 3058.0V3069.8M1467.5 3047.7V3058.0M1469.7 3039.3V3047.7M1472.0 3032.8V3039.3M1474.2 3028.6V3032.8M1476.4 3026.4V3028.7M1478.7 3025.5V3027.8M1480.9 3026.9V3029.5M1483.2 3029.5V3034.4M1485.4 3034.4V3041.4M1487.6 3041.4V3050.4M1489.9 3050.4V3061.2M1492.1 3061.2V3073.4M1494.4 3073.4V3086.9M1496.6 3086.9V3101.3M1498.8 3101.3V3116.3M1501.1 3116.3V3131.5M1503.3 3131.5V3146.7M1505.6 3146.7V3161.4M1507.8 3161.4V3175.4M1510.0 3175.4V3188.3M1512.3 3188.3V3199.8M1514.5 3199.8V3209.6M1516.8 3209.6V3217.6M1519.0 3217.6V3223.6M1521.2 3223.6V3227.4M1523.5 3227.0V3229.3M1525.7 3227.5V3229.8M1528.0 3225.2V3228.2M1530.2 3219.9V3225.2M1532.4 3212.5V3219.9M1534.7 3203.1V3212.5M1536.9 3192.1V3203.1M1539.2 3179.6V3192.1M1541.4 3166.1V3179.6M1543.6 3151.7V3166.1M1545.9 3136.8V3151.7M1548.1 3121.8V3136.8M1550.4 3107.0V3121.8M1552.6 3092.7V3107.0M1554.8 3079.3V3092.7M1557.1 3067.0V3079.3M1559.3 3056.1V3067.0M1561.6 3046.9V3056.1M1563.8 3039.5V3046.9M1566.0 3034.2V3039.5M1568.3 3031.0V3034.2M1570.5 3029.4V3031.7M1572.8 3029.5V3031.8M1575.0 3031.3V3034.7M1577.2 3034.7V3040.2M1579.5 3040.2V3047.7M1581.7 3047.7V3057.0M1584.0 3057.0V3067.8M1586.2 3067.8V3079.9M1588.4 3079.9V3093.0M1590.7 3093.0V3106.9M1592.9 3106.9V3121.2M1595.2 3121.2V3135.6M1597.4 3135.6V3149.7M1599.6 3149.7V3163.2M1601.9 3163.2V3175.8M1604.1 3175.8V3187.3M1606.4 3187.3V3197.4M1608.6 3197.4V3205.8M1610.8 3205.8V3212.4M1613.1 3212.4V3216.9M1615.3 3216.9V3219.5M1617.6 3218.6V3220.9M1619.8 3217.8V3220.1M1622.0 3214.6V3218.1M1624.3 3209.0V3214.6M1626.5 3201.5V3209.0M1628.8 3192.4V3201.5M1631.0 3181.7V3192.4M1633.2 3169.8V3181.7M1635.5 3156.9V3169.8M1637.7 3143.3V3156.9M1640.0 3129.3V3143.3M1642.2 3115.3V3129.3M1644.4 3101.6V3115.3M1646.7 3088.4V3101.6M1648.9 3076.1V3088.4M1651.2 3065.0V3076.1M1653.4 3055.3V3065.0M1655.6 3047.3V3055.3M1657.9 3041.1V3047.3M1660.1 3036.8V3041.1M1662.4 3034.5V3036.8M1664.6 3033.3V3035.6M1666.8 3034.2V3036.5M1669.1 3036.3V3040.2M1671.3 3040.2V3046.1M1673.6 3046.1V3053.8M1675.8 3053.8V3063.3M1678.0 3063.3V3074.2M1680.3 3074.2V3086.4M1682.5 3086.4V3099.5M1684.8 3099.5V3113.2M1687.0 3113.2V3127.4M1689.2 3127.4V3141.5M1691.5 3141.5V3155.3M1693.7 3155.3V3168.5M1696.0 3168.5V3180.8M1698.2 3180.8V3191.9M1700.4 3191.9V3201.5M1702.7 3201.5V3209.4M1704.9 3209.4V3215.5M1707.2 3215.5V3219.6M1709.4 3219.4V3221.7M1711.6 3220.4V3222.7M1713.9 3219.0V3221.4M1716.1 3214.6V3219.0M1718.4 3208.2V3214.6M1720.6 3199.9V3208.2M1722.8 3189.9V3199.9M1725.1 3178.5V3189.9M1727.3 3165.9V3178.5M1729.6 3152.4V3165.9M1731.8 3138.2V3152.4M1734.0 3123.8V3138.2M1736.3 3109.4V3123.8M1738.5 3095.4V3109.4M1740.8 3082.0V3095.4M1743.0 3069.7V3082.0M1745.2 3058.6V3069.7M1747.5 3049.1V3058.6M1749.7 3041.3V3049.1M1752.0 3035.5V3041.3M1754.2 3031.7V3035.5M1756.4 3029.7V3032.0M1758.7 3029.1V3031.4M1760.9 3030.6V3033.3M1763.2 3033.3V3038.1M1765.4 3038.1V3045.0M1767.6 3045.0V3053.7M1769.9 3053.7V3064.1M1772.1 3064.1V3075.9M1774.4 3075.9V3089.0M1776.6 3089.0V3102.9M1778.8 3102.9V3117.3M1781.1 3117.3V3132.1M1783.3 3132.1V3146.7M1785.6 3146.7V3160.8M1787.8 3160.8V3174.2M1790.0 3174.2V3186.6M1792.3 3186.6V3197.6M1794.5 3197.6V3206.9M1796.8 3206.9V3214.5M1799.0 3214.5V3220.0M1801.2 3220.0V3223.5M1803.5 3222.9V3225.2M1805.7 3222.9V3225.2M1808.0 3220.0V3223.5M1810.2 3214.4V3220.0M1812.4 3206.8V3214.4M1814.7 3197.2V3206.8M1816.9 3186.1V3197.2M1819.2 3173.5V3186.1M1821.4 3159.8V3173.5M1823.6 3145.3V3159.8M1825.9 3130.4V3145.3M1828.1 3115.3V3130.4M1830.4 3100.4V3115.3M1832.6 3086.0V3100.4M1834.8 3072.5V3086.0M1837.1 3060.2V3072.5M1839.3 3049.3V3060.2M1841.6 3040.0V3049.3M1843.8 3032.7V3040.0M1846.0 3027.4V3032.7M1848.3 3024.4V3027.4M1850.5 3022.8V3025.1M1852.8 3023.3V3025.6M1855.0 3025.4V3029.3M1857.2 3029.3V3035.4M1859.5 3035.4V3043.5M1861.7 3043.5V3053.4M1864.0 3053.4V3064.8M1866.2 3064.8V3077.5M1868.4 3077.5V3091.2M1870.7 3091.2V3105.5M1872.9 3105.5V3120.3M1875.2 3120.3V3135.0M1877.4 3135.0V3149.5M1879.6 3149.5V3163.2M1881.9 3163.2V3176.1M1884.1 3176.1V3187.7M1886.4 3187.7V3197.8M1888.6 3197.8V3206.2M1890.8 3206.2V3212.7M1893.1 3212.7V3217.1M1895.3 3217.1V3219.4M1897.6 3218.4V3220.7M1899.8 3217.4V3219.7M1902.0 3213.6V3217.6M1904.3 3207.6V3213.6M1906.5 3199.6V3207.6M1908.8 3190.0V3199.6M1911.0 3178.9V3190.0M1913.2 3166.5V3178.9M1915.5 3153.3V3166.5M1917.7 3139.4V3153.3M1920.0 3125.2V3139.4M1922.2 3111.0V3125.2M1924.4 3097.2V3111.0M1926.7 3084.0V3097.2M1928.9 3071.8V3084.0M1931.2 3060.8V3071.8M1933.4 3051.4V3060.8M1935.6 3043.6V3051.4M1937.9 3037.7V3043.6M1940.1 3033.9V3037.7M1942.4 3031.9V3034.2M1944.6 3031.1V3033.4M1946.8 3032.4V3034.7M1949.1 3034.7V3039.0M1951.3 3039.0V3045.4M1953.6 3045.4V3053.6M1955.8 3053.6V3063.4M1958.0 3063.4V3074.7M1960.3 3074.7V3087.2M1962.5 3087.2V3100.6M1964.8 3100.6V3114.6M1967.0 3114.6V3128.9M1969.2 3128.9V3143.2M1971.5 3143.2V3157.1M1973.7 3157.1V3170.3M1976.0 3170.3V3182.5M1978.2 3182.5V3193.4M1980.4 3193.4V3202.9M1982.7 3202.9V3210.6M1984.9 3210.6V3216.4M1987.2 3216.4V3220.1M1989.4 3219.8V3222.1M1991.6 3220.3V3222.6M1993.9 3218.3V3221.1M1996.1 3213.4V3218.3M1998.4 3206.6V3213.4M2000.6 3197.8V3206.6M2002.8 3187.4V3197.8M2005.1 3175.6V3187.4M2007.3 3162.7V3175.6M2009.6 3148.9V3162.7M2011.8 3134.6V3148.9M2014.0 3120.0V3134.6M2016.3 3105.6V3120.0M2018.5 3091.6V3105.6M2020.8 3078.4V3091.6M2023.0 3066.2V3078.4M2025.2 3055.4V3066.2M2027.5 3046.1V3055.4M2029.7 3038.7V3046.1M2032.0 3033.2V3038.7M2034.2 3029.8V3033.2M2036.4 3028.0V3030.3M2038.7 3027.9V3030.2M2040.9 3029.5V3032.7M2043.2 3032.7V3038.0M2045.4 3038.0V3045.3M2047.6 3045.3V3054.4M2049.9 3054.4V3065.1M2052.1 3065.1V3077.2M2054.4 3077.2V3090.4M2056.6 3090.4V3104.3M2058.8 3104.3V3118.8M2061.1 3118.8V3133.4M2063.3 3133.4V3147.8M2065.6 3147.8V3161.7M2067.8 3161.7V3174.7M2070.0 3174.7V3186.7M2072.3 3186.7V3197.2M2074.5 3197.2V3206.1M2076.8 3206.1V3213.1M2079.0 3213.1V3218.1M2081.2 3218.1V3221.1M2083.5 3220.3V3222.6M2085.7 3219.9V3222.2M2088.0 3216.6V3220.3M2090.2 3210.8V3216.6M2092.4 3203.1V3210.8M2094.7 3193.5V3203.1M2096.9 3182.4V3193.5M2099.2 3170.0V3182.4M2101.4 3156.5V3170.0M2103.6 3142.3V3156.5M2105.9 3127.7V3142.3M2108.1 3113.0V3127.7M2110.4 3098.5V3113.0M2112.6 3084.6V3098.5M2114.8 3071.6V3084.6M2117.1 3059.8V3071.6M2119.3 3049.5V3059.8M2121.6 3040.9V3049.5M2123.8 3034.1V3040.9M2126.0 3029.4V3034.1M2128.3 3026.9V3029.4M2130.5 3025.5V3027.8M2132.8 3026.3V3028.6M2135.0 3028.4V3032.3M2137.2 3032.3V3038.3M2139.5 3038.3V3046.3M2141.7 3046.3V3056.0M2144.0 3056.0V3067.4M2146.2 3067.4V3080.0M2148.4 3080.0V3093.6M2150.7 3093.6V3108.0M2152.9 3108.0V3122.7M2155.2 3122.7V3137.5M2157.4 3137.5V3151.9M2159.6 3151.9V3165.8M2161.9 3165.8V3178.6M2164.1 3178.6V3190.3M2166.4 3190.3V3200.4M2168.6 3200.4V3208.8M2170.8 3208.8V3215.2M2173.1 3215.2V3219.5M2175.3 3219.4V3221.7M2177.6 3220.5V3222.8M2179.8 3219.2V3221.5M2182.0 3214.8V3219.3M2184.3 3208.2V3214.8M2186.5 3199.5V3208.2M2188.8 3189.1V3199.5M2191.0 3177.1V3189.1M2193.2 3163.8V3177.1M2195.5 3149.5V3163.8M2197.7 3134.6V3149.5M2200.0 3119.2V3134.6M2202.2 3103.9V3119.2M2204.4 3088.9V3103.9M2206.7 3074.6V3088.9M2208.9 3061.3V3074.6M2211.2 3049.4V3061.3M2213.4 3039.1V3049.4M2215.6 3030.6V3039.1M2217.9 3024.1V3030.6M2220.1 3019.9V3024.1M2222.4 3017.8V3020.1M2224.6 3017.0V3019.3M2226.8 3018.4V3021.5M2229.1 3021.5V3026.9M2231.3 3026.9V3034.4M2233.6 3034.4V3043.9M2235.8 3043.9V3055.3M2238.0 3055.3V3068.1M2240.3 3068.1V3082.3M2242.5 3082.3V3097.3M2244.8 3097.3V3112.9M2247.0 3112.9V3128.8M2249.2 3128.8V3144.5M2251.5 3144.5V3159.8M2253.7 3159.8V3174.3M2256.0 3174.3V3187.6M2258.2 3187.6V3199.4M2260.4 3199.4V3209.6M2262.7 3209.6V3217.7M2264.9 3217.7V3223.8M2267.2 3223.8V3227.6M2269.4 3227.2V3229.5M2271.6 3227.3V3229.6M2273.9 3224.4V3227.9M2276.1 3218.7V3224.4M2278.4 3210.8V3218.7M2280.6 3201.0V3210.8M2282.8 3189.5V3201.0M2285.1 3176.5V3189.5M2287.3 3162.3V3176.5M2289.6 3147.3V3162.3M2291.8 3131.8V3147.3M2294.0 3116.1V3131.8M2296.3 3100.7V3116.1M2298.5 3085.9V3100.7M2300.8 3071.9V3085.9M2303.0 3059.2V3071.9M2305.2 3048.0V3059.2M2307.5 3038.5V3048.0" stroke="#ff10ff" stroke-width="2.3" fill="none"/>
<path d="M80 2186.6H103a3.5 3.5 0 0 1 3.5 3.5V2213.7a3.5 3.5 0 0 1 -3.5 3.5H80L69 2201.9Z" fill="#ff9a00"/>
<text x="91" y="2212" text-anchor="middle" style="font-family:'DejaVu Sans',sans-serif;font-weight:bold;font-size:27px" fill="#fff">T</text>
<path d="M23 2505H56L66 2524.0L56 2543H23Z" fill="#6a6f73" stroke="#1f2fff" stroke-width="3"/>
<text x="40" y="2536.0" text-anchor="middle" style="font-family:'DejaVu Sans','Liberation Sans',sans-serif;font-size:33px" fill="#1a1aee">1</text>
<path d="M23 2873H56L66 2891.0L56 2909H23Z" fill="#6a7275" stroke="#8ff4f8" stroke-width="3"/>
<text x="40" y="2903.0" text-anchor="middle" style="font-family:'DejaVu Sans','Liberation Sans',sans-serif;font-size:33px" fill="#8af6f9">2</text>
<path d="M23 3116H56L66 3134.5L56 3153H23Z" fill="#c27ccc" stroke="#c27ccc" stroke-width="3"/>
<text x="40" y="3146.5" text-anchor="middle" style="font-family:'DejaVu Sans','Liberation Sans',sans-serif;font-size:33px" fill="#7a6a80">3</text>
<path d="M2281.8 2402.8L2294.7 2389.6V2416Z" fill="#1c1cff"/><path d="M2294 2402.8H2307" stroke="#1c1cff" stroke-width="2.6"/>
<path d="M1246.34 1810.31L114.66 2157.1" stroke="#ff0a30" stroke-width="8.6" stroke-dasharray="9.5 13.98"/>
<path d="M1450.4 1817.5L2239.4 2146.4" stroke="#ff0a30" stroke-width="8.6" stroke-dasharray="9.5 13.98"/>
<path d="M57.4 2174.9L116 2137.4L104.6 2161.6L127.6 2173.9Z" fill="#ff0a30"/>
<path d="M2295.7 2169.8L2240 2125.6L2250.2 2151L2225 2161.4Z" fill="#ff0a30"/>
<text transform="translate(239.60 2277.87) scale(0.9645 1)" style="font-family:'Liberation Serif','Times New Roman',serif;font-size:88.15px">750V/div</text>
<text transform="translate(781.67 2271.38) scale(0.9715 1)" style="font-family:'Liberation Serif','Times New Roman',serif;font-size:87.46px">(1)</text>
<text transform="translate(214.88 2614.22) scale(0.9499 1)" style="font-family:'Liberation Serif','Times New Roman',serif;font-size:89.68px">70A/div</text>
<text transform="translate(775.02 2604.54) scale(0.9637 1)" style="font-family:'Liberation Serif','Times New Roman',serif;font-size:88.12px">(2)</text>
<text transform="translate(214.36 2996.63) scale(0.9328 1)" style="font-family:'Liberation Serif','Times New Roman',serif;font-size:89.54px">140A/div</text>
<text transform="translate(774.19 2996.81) scale(0.9615 1)" style="font-family:'Liberation Serif','Times New Roman',serif;font-size:87.79px">(3)</text>
<text transform="translate(1462.93 2621.73) scale(0.9469 1)" style="font-family:'Liberation Serif','Times New Roman',serif;font-size:89.76px">36.4Hz</text>
<text transform="translate(1920.25 3329.03) scale(0.9440 1)" style="font-family:'Liberation Serif','Times New Roman',serif;font-size:89.40px">40ms/div</text>
<text transform="translate(1162.25 3493.16) scale(1.0088 1)" style="font-family:'Liberation Serif','Times New Roman',serif;font-size:82.38px">(b)</text>
<path d="M1510.8 2457.9V2555.2M1608.3 2456.6V2553.7M1510.8 2514.6H1608.3" stroke="#000" stroke-width="6.4" fill="none"/>
</svg></body></html>
